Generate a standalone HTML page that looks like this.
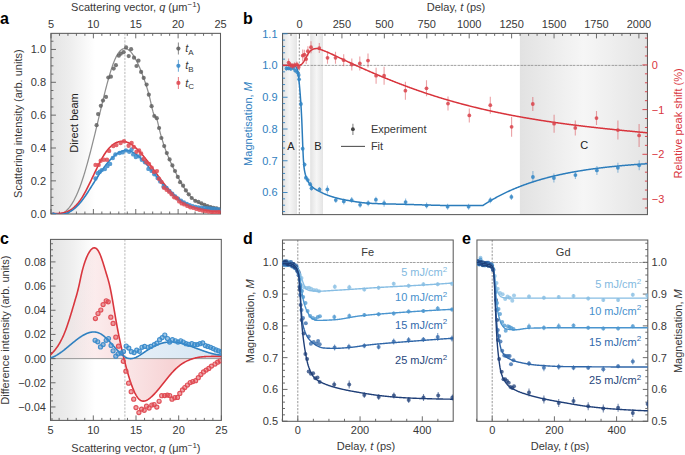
<!DOCTYPE html><html><head><meta charset="utf-8"><style>html,body{margin:0;padding:0;background:#fff;}svg{display:block;font-family:"Liberation Sans", sans-serif;}</style></head><body>
<svg width="685" height="455" viewBox="0 0 685 455">
<defs>
<linearGradient id="ga" x1="0" x2="1" y1="0" y2="0"><stop offset="0" stop-color="#e4e4e4"/><stop offset="0.45" stop-color="#eeeeee"/><stop offset="1" stop-color="#ffffff"/></linearGradient>
<linearGradient id="gcyl" x1="0" x2="1" y1="0" y2="0"><stop offset="0" stop-color="#e2e2e2"/><stop offset="0.5" stop-color="#f6f6f6"/><stop offset="1" stop-color="#e4e4e4"/></linearGradient>
<linearGradient id="gpink1" gradientUnits="userSpaceOnUse" x1="50.7" x2="124" y1="0" y2="0"><stop offset="0" stop-color="#d9363e" stop-opacity="0"/><stop offset="1" stop-color="#d9363e" stop-opacity="0.16"/></linearGradient>
<linearGradient id="gpink2" gradientUnits="userSpaceOnUse" x1="124" x2="221.4" y1="0" y2="0"><stop offset="0" stop-color="#d9363e" stop-opacity="0.12"/><stop offset="0.5" stop-color="#d9363e" stop-opacity="0.22"/><stop offset="1" stop-color="#d9363e" stop-opacity="0.05"/></linearGradient>
<linearGradient id="gblue" gradientUnits="userSpaceOnUse" x1="124" x2="221.4" y1="0" y2="0"><stop offset="0" stop-color="#2f80c0" stop-opacity="0.12"/><stop offset="1" stop-color="#2f80c0" stop-opacity="0.2"/></linearGradient>
<clipPath id="ca"><rect x="50.95" y="33.35" width="169.55" height="180.65"/></clipPath>
<clipPath id="cb"><rect x="282.55" y="33.4" width="364.9" height="181.2"/></clipPath>
<clipPath id="cc"><rect x="50.5" y="239.4" width="170.8" height="181"/></clipPath>
<clipPath id="cd"><rect x="282.5" y="240" width="170.7" height="181.3"/></clipPath>
<clipPath id="ce"><rect x="476.95" y="240" width="170.85" height="181.3"/></clipPath>
</defs>
<rect x="50.95" y="33.35" width="44.05" height="180.65" fill="url(#ga)"/>
<line x1="124.9" y1="33.35" x2="124.9" y2="214" stroke="#b0b0b0" stroke-width="0.9" stroke-dasharray="2.2,1.3"/>
<rect x="50.95" y="33.35" width="169.55" height="180.65" fill="none" stroke="#5c5c5c" stroke-width="1.05"/>
<line x1="51" y1="33.35" x2="51" y2="38.35" stroke="#5c5c5c" stroke-width="0.9" />
<line x1="93.38" y1="33.35" x2="93.38" y2="38.35" stroke="#5c5c5c" stroke-width="0.9" />
<line x1="135.75" y1="33.35" x2="135.75" y2="38.35" stroke="#5c5c5c" stroke-width="0.9" />
<line x1="178.12" y1="33.35" x2="178.12" y2="38.35" stroke="#5c5c5c" stroke-width="0.9" />
<line x1="220.5" y1="33.35" x2="220.5" y2="38.35" stroke="#5c5c5c" stroke-width="0.9" />
<line x1="59.48" y1="33.35" x2="59.48" y2="35.85" stroke="#5c5c5c" stroke-width="0.9" />
<line x1="67.95" y1="33.35" x2="67.95" y2="35.85" stroke="#5c5c5c" stroke-width="0.9" />
<line x1="76.42" y1="33.35" x2="76.42" y2="35.85" stroke="#5c5c5c" stroke-width="0.9" />
<line x1="84.9" y1="33.35" x2="84.9" y2="35.85" stroke="#5c5c5c" stroke-width="0.9" />
<line x1="101.85" y1="33.35" x2="101.85" y2="35.85" stroke="#5c5c5c" stroke-width="0.9" />
<line x1="110.33" y1="33.35" x2="110.33" y2="35.85" stroke="#5c5c5c" stroke-width="0.9" />
<line x1="118.8" y1="33.35" x2="118.8" y2="35.85" stroke="#5c5c5c" stroke-width="0.9" />
<line x1="127.28" y1="33.35" x2="127.28" y2="35.85" stroke="#5c5c5c" stroke-width="0.9" />
<line x1="144.22" y1="33.35" x2="144.22" y2="35.85" stroke="#5c5c5c" stroke-width="0.9" />
<line x1="152.7" y1="33.35" x2="152.7" y2="35.85" stroke="#5c5c5c" stroke-width="0.9" />
<line x1="161.18" y1="33.35" x2="161.18" y2="35.85" stroke="#5c5c5c" stroke-width="0.9" />
<line x1="169.65" y1="33.35" x2="169.65" y2="35.85" stroke="#5c5c5c" stroke-width="0.9" />
<line x1="186.6" y1="33.35" x2="186.6" y2="35.85" stroke="#5c5c5c" stroke-width="0.9" />
<line x1="195.07" y1="33.35" x2="195.07" y2="35.85" stroke="#5c5c5c" stroke-width="0.9" />
<line x1="203.55" y1="33.35" x2="203.55" y2="35.85" stroke="#5c5c5c" stroke-width="0.9" />
<line x1="212.03" y1="33.35" x2="212.03" y2="35.85" stroke="#5c5c5c" stroke-width="0.9" />
<line x1="51" y1="214" x2="51" y2="209" stroke="#5c5c5c" stroke-width="0.9" />
<line x1="93.38" y1="214" x2="93.38" y2="209" stroke="#5c5c5c" stroke-width="0.9" />
<line x1="135.75" y1="214" x2="135.75" y2="209" stroke="#5c5c5c" stroke-width="0.9" />
<line x1="178.12" y1="214" x2="178.12" y2="209" stroke="#5c5c5c" stroke-width="0.9" />
<line x1="220.5" y1="214" x2="220.5" y2="209" stroke="#5c5c5c" stroke-width="0.9" />
<line x1="59.48" y1="214" x2="59.48" y2="211.5" stroke="#5c5c5c" stroke-width="0.9" />
<line x1="67.95" y1="214" x2="67.95" y2="211.5" stroke="#5c5c5c" stroke-width="0.9" />
<line x1="76.42" y1="214" x2="76.42" y2="211.5" stroke="#5c5c5c" stroke-width="0.9" />
<line x1="84.9" y1="214" x2="84.9" y2="211.5" stroke="#5c5c5c" stroke-width="0.9" />
<line x1="101.85" y1="214" x2="101.85" y2="211.5" stroke="#5c5c5c" stroke-width="0.9" />
<line x1="110.33" y1="214" x2="110.33" y2="211.5" stroke="#5c5c5c" stroke-width="0.9" />
<line x1="118.8" y1="214" x2="118.8" y2="211.5" stroke="#5c5c5c" stroke-width="0.9" />
<line x1="127.28" y1="214" x2="127.28" y2="211.5" stroke="#5c5c5c" stroke-width="0.9" />
<line x1="144.22" y1="214" x2="144.22" y2="211.5" stroke="#5c5c5c" stroke-width="0.9" />
<line x1="152.7" y1="214" x2="152.7" y2="211.5" stroke="#5c5c5c" stroke-width="0.9" />
<line x1="161.18" y1="214" x2="161.18" y2="211.5" stroke="#5c5c5c" stroke-width="0.9" />
<line x1="169.65" y1="214" x2="169.65" y2="211.5" stroke="#5c5c5c" stroke-width="0.9" />
<line x1="186.6" y1="214" x2="186.6" y2="211.5" stroke="#5c5c5c" stroke-width="0.9" />
<line x1="195.07" y1="214" x2="195.07" y2="211.5" stroke="#5c5c5c" stroke-width="0.9" />
<line x1="203.55" y1="214" x2="203.55" y2="211.5" stroke="#5c5c5c" stroke-width="0.9" />
<line x1="212.03" y1="214" x2="212.03" y2="211.5" stroke="#5c5c5c" stroke-width="0.9" />
<line x1="50.95" y1="213.7" x2="55.95" y2="213.7" stroke="#5c5c5c" stroke-width="0.9" />
<line x1="50.95" y1="180.85" x2="55.95" y2="180.85" stroke="#5c5c5c" stroke-width="0.9" />
<line x1="50.95" y1="148" x2="55.95" y2="148" stroke="#5c5c5c" stroke-width="0.9" />
<line x1="50.95" y1="115.15" x2="55.95" y2="115.15" stroke="#5c5c5c" stroke-width="0.9" />
<line x1="50.95" y1="82.3" x2="55.95" y2="82.3" stroke="#5c5c5c" stroke-width="0.9" />
<line x1="50.95" y1="49.45" x2="55.95" y2="49.45" stroke="#5c5c5c" stroke-width="0.9" />
<line x1="50.95" y1="205.49" x2="53.45" y2="205.49" stroke="#5c5c5c" stroke-width="0.9" />
<line x1="50.95" y1="197.27" x2="53.45" y2="197.27" stroke="#5c5c5c" stroke-width="0.9" />
<line x1="50.95" y1="189.06" x2="53.45" y2="189.06" stroke="#5c5c5c" stroke-width="0.9" />
<line x1="50.95" y1="172.64" x2="53.45" y2="172.64" stroke="#5c5c5c" stroke-width="0.9" />
<line x1="50.95" y1="164.42" x2="53.45" y2="164.42" stroke="#5c5c5c" stroke-width="0.9" />
<line x1="50.95" y1="156.21" x2="53.45" y2="156.21" stroke="#5c5c5c" stroke-width="0.9" />
<line x1="50.95" y1="139.79" x2="53.45" y2="139.79" stroke="#5c5c5c" stroke-width="0.9" />
<line x1="50.95" y1="131.57" x2="53.45" y2="131.57" stroke="#5c5c5c" stroke-width="0.9" />
<line x1="50.95" y1="123.36" x2="53.45" y2="123.36" stroke="#5c5c5c" stroke-width="0.9" />
<line x1="50.95" y1="106.94" x2="53.45" y2="106.94" stroke="#5c5c5c" stroke-width="0.9" />
<line x1="50.95" y1="98.72" x2="53.45" y2="98.72" stroke="#5c5c5c" stroke-width="0.9" />
<line x1="50.95" y1="90.51" x2="53.45" y2="90.51" stroke="#5c5c5c" stroke-width="0.9" />
<line x1="50.95" y1="74.09" x2="53.45" y2="74.09" stroke="#5c5c5c" stroke-width="0.9" />
<line x1="50.95" y1="65.87" x2="53.45" y2="65.87" stroke="#5c5c5c" stroke-width="0.9" />
<line x1="50.95" y1="57.66" x2="53.45" y2="57.66" stroke="#5c5c5c" stroke-width="0.9" />
<line x1="50.95" y1="41.24" x2="53.45" y2="41.24" stroke="#5c5c5c" stroke-width="0.9" />
<text x="51" y="28.1" font-size="11" text-anchor="middle" fill="#383838" >5</text>
<text x="93.38" y="28.1" font-size="11" text-anchor="middle" fill="#383838" >10</text>
<text x="135.75" y="28.1" font-size="11" text-anchor="middle" fill="#383838" >15</text>
<text x="178.12" y="28.1" font-size="11" text-anchor="middle" fill="#383838" >20</text>
<text x="220.5" y="28.1" font-size="11" text-anchor="middle" fill="#383838" >25</text>
<text x="46" y="217.6" font-size="11" text-anchor="end" fill="#383838" >0.0</text>
<text x="46" y="184.75" font-size="11" text-anchor="end" fill="#383838" >0.2</text>
<text x="46" y="151.9" font-size="11" text-anchor="end" fill="#383838" >0.4</text>
<text x="46" y="119.05" font-size="11" text-anchor="end" fill="#383838" >0.6</text>
<text x="46" y="86.2" font-size="11" text-anchor="end" fill="#383838" >0.8</text>
<text x="46" y="53.35" font-size="11" text-anchor="end" fill="#383838" >1.0</text>
<text x="135.72" y="10.5" font-size="11" text-anchor="middle" fill="#383838" >Scattering vector, <tspan font-style="italic">q</tspan> (μm<tspan baseline-shift="super" font-size="8">−1</tspan>)</text>
<text x="0" y="0" font-size="11" text-anchor="middle" fill="#383838" transform="translate(21.5,123.67) rotate(-90)">Scattering intensity (arb. units)</text>
<text x="0" y="0" font-size="11" text-anchor="middle" fill="#222" transform="translate(78,123) rotate(-90)">Direct beam</text>
<text x="0" y="24" font-size="16" text-anchor="start" fill="#000" font-weight="bold">a</text>
<line x1="178.4" y1="42.6" x2="178.4" y2="54.6" stroke="#626262" stroke-width="1.1" stroke-opacity="0.7"/>
<circle cx="178.4" cy="48.6" r="2.1" fill="#626262" fill-opacity="0.9"/>
<text x="185.2" y="52.2" font-size="11" text-anchor="start" fill="#383838" ><tspan font-style="italic">t</tspan><tspan font-size="8" dy="2.5">A</tspan></text>
<line x1="178.4" y1="59.8" x2="178.4" y2="71.8" stroke="#3a8bcb" stroke-width="1.1" stroke-opacity="0.7"/>
<circle cx="178.4" cy="65.8" r="2.1" fill="#3a8bcb" fill-opacity="0.9"/>
<text x="185.2" y="69.4" font-size="11" text-anchor="start" fill="#383838" ><tspan font-style="italic">t</tspan><tspan font-size="8" dy="2.5">B</tspan></text>
<line x1="178.4" y1="76.9" x2="178.4" y2="88.9" stroke="#df4a52" stroke-width="1.1" stroke-opacity="0.7"/>
<circle cx="178.4" cy="82.9" r="2.1" fill="#df4a52" fill-opacity="0.9"/>
<text x="185.2" y="86.5" font-size="11" text-anchor="start" fill="#383838" ><tspan font-style="italic">t</tspan><tspan font-size="8" dy="2.5">C</tspan></text>
<g clip-path="url(#ca)">
<path d="M53,213.03 L53.5,213.26 L54,213.47 L54.5,213.66 L55,213.82 L55.5,213.96 L56,214.08 L56.5,214.17 L57,214.24 L57.5,214.28 L58,214.3 L58.5,214.29 L59,214.25 L59.5,214.19 L60,214.11 L60.5,213.99 L61,213.85 L61.5,213.69 L62,213.49 L62.5,213.27 L63,213.03 L63.5,212.75 L64,212.45 L64.5,212.12 L65,211.76 L65.5,211.37 L66,210.95 L66.5,210.5 L67,210.03 L67.5,209.52 L68,208.99 L68.5,208.42 L69,207.83 L69.5,207.21 L70,206.55 L70.5,205.86 L71,205.15 L71.5,204.4 L72,203.62 L72.5,202.8 L73,201.96 L73.5,201.08 L74,200.18 L74.5,199.23 L75,198.26 L75.5,197.25 L76,196.21 L76.5,195.14 L77,194.03 L77.5,192.89 L78,191.71 L78.5,190.5 L79,189.26 L79.5,187.98 L80,186.66 L80.5,185.31 L81,183.93 L81.5,182.5 L82,181.05 L82.5,179.55 L83,178.02 L83.5,176.46 L84,174.86 L84.5,173.23 L85,171.56 L85.5,169.87 L86,168.15 L86.5,166.4 L87,164.62 L87.5,162.82 L88,161 L88.5,159.15 L89,157.28 L89.5,155.39 L90,153.48 L90.5,151.55 L91,149.61 L91.5,147.65 L92,145.67 L92.5,143.68 L93,141.68 L93.5,139.67 L94,137.64 L94.5,135.6 L95,133.55 L95.5,131.49 L96,129.43 L96.5,127.35 L97,125.27 L97.5,123.17 L98,121.08 L98.5,118.97 L99,116.87 L99.5,114.76 L100,112.64 L100.5,110.53 L101,108.43 L101.5,106.33 L102,104.24 L102.5,102.15 L103,100.08 L103.5,98.02 L104,95.98 L104.5,93.96 L105,91.96 L105.5,89.97 L106,88.02 L106.5,86.09 L107,84.18 L107.5,82.31 L108,80.47 L108.5,78.67 L109,76.9 L109.5,75.17 L110,73.48 L110.5,71.83 L111,70.23 L111.5,68.68 L112,67.17 L112.5,65.72 L113,64.31 L113.5,62.97 L114,61.68 L114.5,60.45 L115,59.28 L115.5,58.17 L116,57.13 L116.5,56.15 L117,55.24 L117.5,54.39 L118,53.6 L118.5,52.87 L119,52.2 L119.5,51.58 L120,51.03 L120.5,50.54 L121,50.1 L121.5,49.72 L122,49.39 L122.5,49.12 L123,48.9 L123.5,48.74 L124,48.63 L124.5,48.57 L125,48.56 L125.5,48.6 L126,48.7 L126.5,48.84 L127,49.03 L127.5,49.26 L128,49.55 L128.5,49.88 L129,50.25 L129.5,50.67 L130,51.14 L130.5,51.64 L131,52.19 L131.5,52.78 L132,53.42 L132.5,54.09 L133,54.8 L133.5,55.55 L134,56.34 L134.5,57.16 L135,58.03 L135.5,58.93 L136,59.86 L136.5,60.83 L137,61.83 L137.5,62.86 L138,63.93 L138.5,65.03 L139,66.16 L139.5,67.31 L140,68.5 L140.5,69.72 L141,70.96 L141.5,72.23 L142,73.53 L142.5,74.85 L143,76.2 L143.5,77.57 L144,78.97 L144.5,80.39 L145,81.83 L145.5,83.29 L146,84.79 L146.5,86.32 L147,87.9 L147.5,89.54 L148,91.25 L148.5,93.04 L149,94.91 L149.5,96.88 L150,98.96 L150.5,101.14 L151,103.37 L151.5,105.61 L152,107.78 L152.5,109.83 L153,111.7 L153.5,113.34 L154,114.68 L154.5,115.67 L155,116.35 L155.5,116.9 L156,117.5 L156.5,118.34 L157,119.6 L157.5,121.32 L158,123.36 L158.5,125.58 L159,127.82 L159.5,129.96 L160,131.96 L160.5,133.84 L161,135.64 L161.5,137.37 L162,139.06 L162.5,140.69 L163,142.29 L163.5,143.84 L164,145.34 L164.5,146.81 L165,148.24 L165.5,149.64 L166,151 L166.5,152.32 L167,153.62 L167.5,154.88 L168,156.12 L168.5,157.32 L169,158.51 L169.5,159.66 L170,160.8 L170.5,161.91 L171,163.01 L171.5,164.08 L172,165.15 L172.5,166.19 L173,167.22 L173.5,168.24 L174,169.26 L174.5,170.26 L175,171.25 L175.5,172.24 L176,173.23 L176.5,174.2 L177,175.17 L177.5,176.13 L178,177.09 L178.5,178.03 L179,178.97 L179.5,179.89 L180,180.8 L180.5,181.7 L181,182.59 L181.5,183.47 L182,184.33 L182.5,185.18 L183,186.01 L183.5,186.83 L184,187.63 L184.5,188.42 L185,189.19 L185.5,189.94 L186,190.67 L186.5,191.38 L187,192.08 L187.5,192.75 L188,193.4 L188.5,194.03 L189,194.64 L189.5,195.23 L190,195.79 L190.5,196.33 L191,196.86 L191.5,197.36 L192,197.84 L192.5,198.31 L193,198.75 L193.5,199.18 L194,199.59 L194.5,199.98 L195,200.36 L195.5,200.72 L196,201.07 L196.5,201.4 L197,201.72 L197.5,202.02 L198,202.31 L198.5,202.58 L199,202.85 L199.5,203.1 L200,203.34 L200.5,203.57 L201,203.79 L201.5,204.01 L202,204.21 L202.5,204.4 L203,204.59 L203.5,204.76 L204,204.93 L204.5,205.1 L205,205.26 L205.5,205.41 L206,205.56 L206.5,205.7 L207,205.84 L207.5,205.97 L208,206.11 L208.5,206.24 L209,206.37 L209.5,206.49 L210,206.62 L210.5,206.75 L211,206.87 L211.5,207 L212,207.13 L212.5,207.26 L213,207.39 L213.5,207.53 L214,207.67 L214.5,207.81 L215,207.96 L215.5,208.11 L216,208.27 L216.5,208.43 L217,208.6 L217.5,208.78 L218,208.96 L218.5,209.15 L219,209.35 L219.5,209.56 L219.7,209.65" fill="none" stroke="#8e8e8e" stroke-width="1.25" stroke-linejoin="round" stroke-linecap="round" />
<path d="M53,213.34 L53.5,213.37 L54,213.39 L54.5,213.42 L55,213.43 L55.5,213.45 L56,213.46 L56.5,213.47 L57,213.47 L57.5,213.46 L58,213.45 L58.5,213.43 L59,213.4 L59.5,213.37 L60,213.33 L60.5,213.28 L61,213.22 L61.5,213.15 L62,213.08 L62.5,212.99 L63,212.89 L63.5,212.78 L64,212.66 L64.5,212.53 L65,212.39 L65.5,212.24 L66,212.07 L66.5,211.89 L67,211.7 L67.5,211.49 L68,211.27 L68.5,211.03 L69,210.78 L69.5,210.51 L70,210.23 L70.5,209.93 L71,209.61 L71.5,209.28 L72,208.93 L72.5,208.56 L73,208.17 L73.5,207.76 L74,207.34 L74.5,206.89 L75,206.43 L75.5,205.95 L76,205.44 L76.5,204.91 L77,204.36 L77.5,203.79 L78,203.2 L78.5,202.59 L79,201.95 L79.5,201.28 L80,200.6 L80.5,199.89 L81,199.15 L81.5,198.39 L82,197.61 L82.5,196.8 L83,195.97 L83.5,195.12 L84,194.25 L84.5,193.36 L85,192.45 L85.5,191.53 L86,190.59 L86.5,189.63 L87,188.66 L87.5,187.68 L88,186.69 L88.5,185.69 L89,184.67 L89.5,183.65 L90,182.62 L90.5,181.59 L91,180.54 L91.5,179.5 L92,178.45 L92.5,177.4 L93,176.34 L93.5,175.29 L94,174.24 L94.5,173.19 L95,172.14 L95.5,171.1 L96,170.06 L96.5,169.03 L97,168 L97.5,166.98 L98,165.97 L98.5,164.98 L99,163.99 L99.5,163.02 L100,162.06 L100.5,161.11 L101,160.18 L101.5,159.27 L102,158.38 L102.5,157.51 L103,156.65 L103.5,155.82 L104,155.01 L104.5,154.22 L105,153.46 L105.5,152.73 L106,152.02 L106.5,151.33 L107,150.67 L107.5,150.04 L108,149.43 L108.5,148.84 L109,148.28 L109.5,147.74 L110,147.22 L110.5,146.73 L111,146.26 L111.5,145.82 L112,145.39 L112.5,144.99 L113,144.61 L113.5,144.25 L114,143.92 L114.5,143.6 L115,143.31 L115.5,143.03 L116,142.78 L116.5,142.55 L117,142.34 L117.5,142.15 L118,141.98 L118.5,141.83 L119,141.7 L119.5,141.59 L120,141.5 L120.5,141.43 L121,141.37 L121.5,141.34 L122,141.33 L122.5,141.33 L123,141.36 L123.5,141.4 L124,141.46 L124.5,141.54 L125,141.64 L125.5,141.76 L126,141.89 L126.5,142.04 L127,142.21 L127.5,142.4 L128,142.6 L128.5,142.82 L129,143.06 L129.5,143.31 L130,143.59 L130.5,143.87 L131,144.18 L131.5,144.5 L132,144.83 L132.5,145.19 L133,145.55 L133.5,145.94 L134,146.33 L134.5,146.74 L135,147.17 L135.5,147.6 L136,148.05 L136.5,148.52 L137,148.99 L137.5,149.48 L138,149.98 L138.5,150.49 L139,151.02 L139.5,151.55 L140,152.09 L140.5,152.65 L141,153.21 L141.5,153.78 L142,154.36 L142.5,154.95 L143,155.55 L143.5,156.16 L144,156.77 L144.5,157.39 L145,158.02 L145.5,158.66 L146,159.3 L146.5,159.95 L147,160.6 L147.5,161.26 L148,161.92 L148.5,162.59 L149,163.26 L149.5,163.94 L150,164.61 L150.5,165.3 L151,165.98 L151.5,166.67 L152,167.36 L152.5,168.05 L153,168.74 L153.5,169.44 L154,170.13 L154.5,170.83 L155,171.53 L155.5,172.22 L156,172.92 L156.5,173.61 L157,174.3 L157.5,174.99 L158,175.68 L158.5,176.37 L159,177.05 L159.5,177.74 L160,178.41 L160.5,179.09 L161,179.76 L161.5,180.42 L162,181.09 L162.5,181.74 L163,182.39 L163.5,183.04 L164,183.68 L164.5,184.31 L165,184.94 L165.5,185.55 L166,186.17 L166.5,186.77 L167,187.37 L167.5,187.95 L168,188.53 L168.5,189.1 L169,189.66 L169.5,190.21 L170,190.75 L170.5,191.28 L171,191.8 L171.5,192.32 L172,192.82 L172.5,193.31 L173,193.8 L173.5,194.28 L174,194.74 L174.5,195.2 L175,195.65 L175.5,196.09 L176,196.53 L176.5,196.95 L177,197.37 L177.5,197.77 L178,198.17 L178.5,198.57 L179,198.95 L179.5,199.33 L180,199.69 L180.5,200.05 L181,200.41 L181.5,200.75 L182,201.09 L182.5,201.42 L183,201.74 L183.5,202.06 L184,202.37 L184.5,202.67 L185,202.97 L185.5,203.26 L186,203.54 L186.5,203.81 L187,204.08 L187.5,204.34 L188,204.6 L188.5,204.85 L189,205.09 L189.5,205.33 L190,205.56 L190.5,205.79 L191,206.01 L191.5,206.22 L192,206.43 L192.5,206.63 L193,206.83 L193.5,207.02 L194,207.21 L194.5,207.39 L195,207.57 L195.5,207.74 L196,207.9 L196.5,208.07 L197,208.22 L197.5,208.37 L198,208.52 L198.5,208.67 L199,208.8 L199.5,208.94 L200,209.07 L200.5,209.2 L201,209.32 L201.5,209.44 L202,209.55 L202.5,209.66 L203,209.77 L203.5,209.87 L204,209.97 L204.5,210.07 L205,210.16 L205.5,210.25 L206,210.34 L206.5,210.42 L207,210.5 L207.5,210.58 L208,210.66 L208.5,210.73 L209,210.8 L209.5,210.87 L210,210.93 L210.5,210.99 L211,211.06 L211.5,211.11 L212,211.17 L212.5,211.22 L213,211.28 L213.5,211.33 L214,211.38 L214.5,211.42 L215,211.47 L215.5,211.51 L216,211.56 L216.5,211.6 L217,211.64 L217.5,211.68 L218,211.72 L218.5,211.75 L219,211.79 L219.5,211.83 L220,211.86 L220.5,211.9" fill="none" stroke="#d9363e" stroke-width="1.6" stroke-linejoin="round" stroke-linecap="round" />
<path d="M53,213.18 L53.5,213.36 L54,213.52 L54.5,213.67 L55,213.81 L55.5,213.94 L56,214.05 L56.5,214.15 L57,214.23 L57.5,214.3 L58,214.36 L58.5,214.41 L59,214.44 L59.5,214.46 L60,214.46 L60.5,214.46 L61,214.43 L61.5,214.4 L62,214.35 L62.5,214.29 L63,214.21 L63.5,214.12 L64,214.01 L64.5,213.89 L65,213.76 L65.5,213.61 L66,213.45 L66.5,213.28 L67,213.09 L67.5,212.88 L68,212.67 L68.5,212.43 L69,212.19 L69.5,211.93 L70,211.65 L70.5,211.36 L71,211.05 L71.5,210.73 L72,210.4 L72.5,210.05 L73,209.69 L73.5,209.31 L74,208.91 L74.5,208.5 L75,208.08 L75.5,207.64 L76,207.19 L76.5,206.72 L77,206.23 L77.5,205.73 L78,205.22 L78.5,204.69 L79,204.14 L79.5,203.58 L80,203 L80.5,202.41 L81,201.8 L81.5,201.18 L82,200.54 L82.5,199.88 L83,199.22 L83.5,198.54 L84,197.84 L84.5,197.14 L85,196.42 L85.5,195.7 L86,194.96 L86.5,194.22 L87,193.47 L87.5,192.71 L88,191.94 L88.5,191.17 L89,190.39 L89.5,189.61 L90,188.82 L90.5,188.03 L91,187.23 L91.5,186.44 L92,185.64 L92.5,184.84 L93,184.04 L93.5,183.24 L94,182.45 L94.5,181.65 L95,180.86 L95.5,180.07 L96,179.28 L96.5,178.5 L97,177.73 L97.5,176.95 L98,176.19 L98.5,175.43 L99,174.67 L99.5,173.92 L100,173.18 L100.5,172.44 L101,171.71 L101.5,170.99 L102,170.27 L102.5,169.56 L103,168.86 L103.5,168.17 L104,167.49 L104.5,166.82 L105,166.15 L105.5,165.5 L106,164.85 L106.5,164.21 L107,163.59 L107.5,162.98 L108,162.37 L108.5,161.78 L109,161.2 L109.5,160.63 L110,160.07 L110.5,159.53 L111,159 L111.5,158.48 L112,157.98 L112.5,157.48 L113,157.01 L113.5,156.54 L114,156.09 L114.5,155.66 L115,155.24 L115.5,154.84 L116,154.45 L116.5,154.08 L117,153.72 L117.5,153.38 L118,153.06 L118.5,152.76 L119,152.47 L119.5,152.2 L120,151.95 L120.5,151.71 L121,151.5 L121.5,151.3 L122,151.12 L122.5,150.97 L123,150.83 L123.5,150.71 L124,150.61 L124.5,150.54 L125,150.48 L125.5,150.45 L126,150.43 L126.5,150.44 L127,150.47 L127.5,150.52 L128,150.6 L128.5,150.69 L129,150.8 L129.5,150.93 L130,151.08 L130.5,151.25 L131,151.44 L131.5,151.64 L132,151.87 L132.5,152.11 L133,152.36 L133.5,152.64 L134,152.93 L134.5,153.23 L135,153.55 L135.5,153.89 L136,154.24 L136.5,154.6 L137,154.98 L137.5,155.37 L138,155.78 L138.5,156.2 L139,156.63 L139.5,157.07 L140,157.52 L140.5,157.99 L141,158.47 L141.5,158.95 L142,159.45 L142.5,159.96 L143,160.47 L143.5,161 L144,161.53 L144.5,162.07 L145,162.62 L145.5,163.18 L146,163.75 L146.5,164.32 L147,164.9 L147.5,165.48 L148,166.07 L148.5,166.67 L149,167.27 L149.5,167.87 L150,168.48 L150.5,169.09 L151,169.71 L151.5,170.33 L152,170.95 L152.5,171.58 L153,172.2 L153.5,172.83 L154,173.46 L154.5,174.09 L155,174.72 L155.5,175.36 L156,175.99 L156.5,176.62 L157,177.25 L157.5,177.87 L158,178.5 L158.5,179.12 L159,179.75 L159.5,180.36 L160,180.98 L160.5,181.59 L161,182.2 L161.5,182.8 L162,183.4 L162.5,184 L163,184.58 L163.5,185.17 L164,185.74 L164.5,186.31 L165,186.88 L165.5,187.43 L166,187.99 L166.5,188.53 L167,189.07 L167.5,189.6 L168,190.13 L168.5,190.64 L169,191.16 L169.5,191.66 L170,192.16 L170.5,192.65 L171,193.14 L171.5,193.61 L172,194.09 L172.5,194.55 L173,195.01 L173.5,195.46 L174,195.9 L174.5,196.33 L175,196.76 L175.5,197.18 L176,197.6 L176.5,198 L177,198.4 L177.5,198.79 L178,199.18 L178.5,199.55 L179,199.92 L179.5,200.28 L180,200.64 L180.5,200.98 L181,201.32 L181.5,201.65 L182,201.97 L182.5,202.29 L183,202.59 L183.5,202.89 L184,203.18 L184.5,203.46 L185,203.73 L185.5,204 L186,204.26 L186.5,204.51 L187,204.75 L187.5,204.98 L188,205.2 L188.5,205.42 L189,205.62 L189.5,205.82 L190,206.01 L190.5,206.19 L191,206.36 L191.5,206.53 L192,206.68 L192.5,206.83 L193,206.97 L193.5,207.1 L194,207.23 L194.5,207.35 L195,207.46 L195.5,207.56 L196,207.66 L196.5,207.76 L197,207.85 L197.5,207.93 L198,208.01 L198.5,208.08 L199,208.15 L199.5,208.21 L200,208.28 L200.5,208.33 L201,208.39 L201.5,208.44 L202,208.48 L202.5,208.53 L203,208.57 L203.5,208.61 L204,208.65 L204.5,208.68 L205,208.72 L205.5,208.75 L206,208.78 L206.5,208.82 L207,208.85 L207.5,208.88 L208,208.91 L208.5,208.94 L209,208.98 L209.5,209.01 L210,209.04 L210.5,209.08 L211,209.12 L211.5,209.16 L212,209.2 L212.5,209.24 L213,209.29 L213.5,209.34 L214,209.39 L214.5,209.45 L215,209.51 L215.5,209.57 L216,209.64 L216.5,209.72 L217,209.79 L217.5,209.88 L218,209.96 L218.5,210.06 L219,210.16 L219.5,210.26 L220,210.37 L220.5,210.49" fill="none" stroke="#2f80c0" stroke-width="1.6" stroke-linejoin="round" stroke-linecap="round" />
<circle cx="96.6" cy="125.2" r="2.1" fill="#626262" fill-opacity="0.85"/><circle cx="98.1" cy="114.1" r="2.1" fill="#626262" fill-opacity="0.85"/><circle cx="100.8" cy="105.8" r="2.1" fill="#626262" fill-opacity="0.85"/><circle cx="103" cy="100.6" r="2.1" fill="#626262" fill-opacity="0.85"/><circle cx="106" cy="96.9" r="2.1" fill="#626262" fill-opacity="0.85"/><circle cx="108.3" cy="77.5" r="2.1" fill="#626262" fill-opacity="0.85"/><circle cx="110.9" cy="76.7" r="2.1" fill="#626262" fill-opacity="0.85"/><circle cx="113.7" cy="68.6" r="2.1" fill="#626262" fill-opacity="0.85"/><circle cx="115.9" cy="65.2" r="2.1" fill="#626262" fill-opacity="0.85"/><circle cx="118.8" cy="55.7" r="2.1" fill="#626262" fill-opacity="0.85"/><circle cx="120.8" cy="53.7" r="2.1" fill="#626262" fill-opacity="0.85"/><circle cx="123.6" cy="52.2" r="2.1" fill="#626262" fill-opacity="0.85"/><circle cx="126.1" cy="47.4" r="2.1" fill="#626262" fill-opacity="0.85"/><circle cx="128.7" cy="56.1" r="2.1" fill="#626262" fill-opacity="0.85"/><circle cx="131.1" cy="49.2" r="2.1" fill="#626262" fill-opacity="0.85"/><circle cx="134" cy="57.7" r="2.1" fill="#626262" fill-opacity="0.85"/><circle cx="136.5" cy="66" r="2.1" fill="#626262" fill-opacity="0.85"/><circle cx="138.5" cy="60.7" r="2.1" fill="#626262" fill-opacity="0.85"/><circle cx="141.1" cy="71.9" r="2.1" fill="#626262" fill-opacity="0.85"/><circle cx="143.7" cy="77.9" r="2.1" fill="#626262" fill-opacity="0.85"/><circle cx="146.6" cy="84.6" r="2.1" fill="#626262" fill-opacity="0.85"/><circle cx="148.8" cy="94.7" r="2.1" fill="#626262" fill-opacity="0.85"/><circle cx="151.6" cy="106.2" r="2.1" fill="#626262" fill-opacity="0.85"/><circle cx="154.3" cy="116" r="2.1" fill="#626262" fill-opacity="0.85"/><circle cx="156.8" cy="118.2" r="2.1" fill="#626262" fill-opacity="0.85"/><circle cx="159.1" cy="128" r="2.1" fill="#626262" fill-opacity="0.85"/><circle cx="161.4" cy="138" r="2.1" fill="#626262" fill-opacity="0.85"/><circle cx="164.2" cy="146.1" r="2.1" fill="#626262" fill-opacity="0.85"/><circle cx="166.8" cy="153.1" r="2.1" fill="#626262" fill-opacity="0.85"/><circle cx="169.6" cy="159.4" r="2.1" fill="#626262" fill-opacity="0.85"/><circle cx="172.4" cy="165.4" r="2.1" fill="#626262" fill-opacity="0.85"/><circle cx="175" cy="171" r="2.1" fill="#626262" fill-opacity="0.85"/><circle cx="177.8" cy="176.9" r="2.1" fill="#626262" fill-opacity="0.85"/><circle cx="180.1" cy="182.2" r="2.1" fill="#626262" fill-opacity="0.85"/><circle cx="183.1" cy="185.7" r="2.1" fill="#626262" fill-opacity="0.85"/><circle cx="185.9" cy="190.4" r="2.1" fill="#626262" fill-opacity="0.85"/><circle cx="188.7" cy="194.3" r="2.1" fill="#626262" fill-opacity="0.85"/><circle cx="191.7" cy="198" r="2.1" fill="#626262" fill-opacity="0.85"/><circle cx="195.2" cy="200.8" r="2.1" fill="#626262" fill-opacity="0.85"/><circle cx="198.4" cy="201.9" r="2.1" fill="#626262" fill-opacity="0.85"/><circle cx="201.5" cy="203.4" r="2.1" fill="#626262" fill-opacity="0.85"/><circle cx="204.5" cy="204.9" r="2.1" fill="#626262" fill-opacity="0.85"/><circle cx="207.5" cy="206.2" r="2.1" fill="#626262" fill-opacity="0.85"/><circle cx="210.6" cy="207.2" r="2.1" fill="#626262" fill-opacity="0.85"/><circle cx="213.6" cy="207.9" r="2.1" fill="#626262" fill-opacity="0.85"/><circle cx="216.6" cy="208.4" r="2.1" fill="#626262" fill-opacity="0.85"/><circle cx="219.7" cy="209.4" r="2.1" fill="#626262" fill-opacity="0.85"/>
<circle cx="95.5" cy="178.5" r="2.2" fill="#3a8bcb" fill-opacity="0.85"/><circle cx="97.7" cy="173.2" r="2.2" fill="#3a8bcb" fill-opacity="0.85"/><circle cx="99.8" cy="171.7" r="2.2" fill="#3a8bcb" fill-opacity="0.85"/><circle cx="101.8" cy="170.1" r="2.2" fill="#3a8bcb" fill-opacity="0.85"/><circle cx="104.9" cy="169.1" r="2.2" fill="#3a8bcb" fill-opacity="0.85"/><circle cx="107.5" cy="166" r="2.2" fill="#3a8bcb" fill-opacity="0.85"/><circle cx="110.1" cy="163.9" r="2.2" fill="#3a8bcb" fill-opacity="0.85"/><circle cx="112.8" cy="158" r="2.2" fill="#3a8bcb" fill-opacity="0.85"/><circle cx="115.4" cy="154.5" r="2.2" fill="#3a8bcb" fill-opacity="0.85"/><circle cx="119.5" cy="153" r="2.2" fill="#3a8bcb" fill-opacity="0.85"/><circle cx="122.6" cy="152.4" r="2.2" fill="#3a8bcb" fill-opacity="0.85"/><circle cx="125.9" cy="150.4" r="2.2" fill="#3a8bcb" fill-opacity="0.85"/><circle cx="129.2" cy="151.8" r="2.2" fill="#3a8bcb" fill-opacity="0.85"/><circle cx="131.6" cy="149.5" r="2.2" fill="#3a8bcb" fill-opacity="0.85"/><circle cx="133.2" cy="154.4" r="2.2" fill="#3a8bcb" fill-opacity="0.85"/><circle cx="135.8" cy="157" r="2.2" fill="#3a8bcb" fill-opacity="0.85"/><circle cx="139.1" cy="156.4" r="2.2" fill="#3a8bcb" fill-opacity="0.85"/><circle cx="141.8" cy="159.7" r="2.2" fill="#3a8bcb" fill-opacity="0.85"/><circle cx="145" cy="162.3" r="2.2" fill="#3a8bcb" fill-opacity="0.85"/><circle cx="148.4" cy="168.9" r="2.2" fill="#3a8bcb" fill-opacity="0.85"/><circle cx="151.6" cy="170.9" r="2.2" fill="#3a8bcb" fill-opacity="0.85"/><circle cx="154.3" cy="174.2" r="2.2" fill="#3a8bcb" fill-opacity="0.85"/><circle cx="157.6" cy="178.1" r="2.2" fill="#3a8bcb" fill-opacity="0.85"/><circle cx="160.2" cy="181.4" r="2.2" fill="#3a8bcb" fill-opacity="0.85"/><circle cx="163.5" cy="186.7" r="2.2" fill="#3a8bcb" fill-opacity="0.85"/><circle cx="166.5" cy="187.93" r="2.2" fill="#3a8bcb" fill-opacity="0.85"/><circle cx="169.4" cy="190.96" r="2.2" fill="#3a8bcb" fill-opacity="0.85"/><circle cx="172.3" cy="193.76" r="2.2" fill="#3a8bcb" fill-opacity="0.85"/><circle cx="175.2" cy="196.33" r="2.2" fill="#3a8bcb" fill-opacity="0.85"/><circle cx="178.1" cy="198.65" r="2.2" fill="#3a8bcb" fill-opacity="0.85"/><circle cx="181" cy="200.72" r="2.2" fill="#3a8bcb" fill-opacity="0.85"/><circle cx="183.9" cy="202.52" r="2.2" fill="#3a8bcb" fill-opacity="0.85"/><circle cx="186.8" cy="204.05" r="2.2" fill="#3a8bcb" fill-opacity="0.85"/><circle cx="189.7" cy="205.3" r="2.2" fill="#3a8bcb" fill-opacity="0.85"/><circle cx="192.6" cy="206.26" r="2.2" fill="#3a8bcb" fill-opacity="0.85"/><circle cx="195.5" cy="206.96" r="2.2" fill="#3a8bcb" fill-opacity="0.85"/><circle cx="198.4" cy="207.47" r="2.2" fill="#3a8bcb" fill-opacity="0.85"/><circle cx="201.3" cy="207.82" r="2.2" fill="#3a8bcb" fill-opacity="0.85"/><circle cx="204.2" cy="208.06" r="2.2" fill="#3a8bcb" fill-opacity="0.85"/><circle cx="207.1" cy="208.25" r="2.2" fill="#3a8bcb" fill-opacity="0.85"/><circle cx="210" cy="208.44" r="2.2" fill="#3a8bcb" fill-opacity="0.85"/><circle cx="212.9" cy="208.68" r="2.2" fill="#3a8bcb" fill-opacity="0.85"/><circle cx="215.8" cy="209.01" r="2.2" fill="#3a8bcb" fill-opacity="0.85"/><circle cx="218.7" cy="209.5" r="2.2" fill="#3a8bcb" fill-opacity="0.85"/>
<circle cx="95.5" cy="164.9" r="2.2" fill="#df4a52" fill-opacity="0.85"/><circle cx="98.6" cy="164.9" r="2.2" fill="#df4a52" fill-opacity="0.85"/><circle cx="100.7" cy="160.7" r="2.2" fill="#df4a52" fill-opacity="0.85"/><circle cx="103.9" cy="159.7" r="2.2" fill="#df4a52" fill-opacity="0.85"/><circle cx="107" cy="159.7" r="2.2" fill="#df4a52" fill-opacity="0.85"/><circle cx="109.1" cy="150.9" r="2.2" fill="#df4a52" fill-opacity="0.85"/><circle cx="113.3" cy="146.1" r="2.2" fill="#df4a52" fill-opacity="0.85"/><circle cx="116.4" cy="145.1" r="2.2" fill="#df4a52" fill-opacity="0.85"/><circle cx="120.6" cy="143" r="2.2" fill="#df4a52" fill-opacity="0.85"/><circle cx="124" cy="141.2" r="2.2" fill="#df4a52" fill-opacity="0.85"/><circle cx="128.6" cy="145.8" r="2.2" fill="#df4a52" fill-opacity="0.85"/><circle cx="131.6" cy="142.9" r="2.2" fill="#df4a52" fill-opacity="0.85"/><circle cx="133.8" cy="146.9" r="2.2" fill="#df4a52" fill-opacity="0.85"/><circle cx="136.5" cy="151.8" r="2.2" fill="#df4a52" fill-opacity="0.85"/><circle cx="139.1" cy="150.4" r="2.2" fill="#df4a52" fill-opacity="0.85"/><circle cx="141.1" cy="153.5" r="2.2" fill="#df4a52" fill-opacity="0.85"/><circle cx="143.7" cy="159" r="2.2" fill="#df4a52" fill-opacity="0.85"/><circle cx="146.4" cy="162.3" r="2.2" fill="#df4a52" fill-opacity="0.85"/><circle cx="149" cy="164" r="2.2" fill="#df4a52" fill-opacity="0.85"/><circle cx="151.6" cy="167.6" r="2.2" fill="#df4a52" fill-opacity="0.85"/><circle cx="154" cy="171.9" r="2.2" fill="#df4a52" fill-opacity="0.85"/><circle cx="156.9" cy="171.1" r="2.2" fill="#df4a52" fill-opacity="0.85"/><circle cx="158.9" cy="178.8" r="2.2" fill="#df4a52" fill-opacity="0.85"/><circle cx="161.5" cy="182.1" r="2.2" fill="#df4a52" fill-opacity="0.85"/><circle cx="164" cy="187.7" r="2.2" fill="#df4a52" fill-opacity="0.85"/><circle cx="166.6" cy="189.7" r="2.2" fill="#df4a52" fill-opacity="0.85"/><circle cx="169.1" cy="191.7" r="2.2" fill="#df4a52" fill-opacity="0.85"/><circle cx="171.6" cy="194.3" r="2.2" fill="#df4a52" fill-opacity="0.85"/><circle cx="174.2" cy="197.3" r="2.2" fill="#df4a52" fill-opacity="0.85"/><circle cx="176.7" cy="198.3" r="2.2" fill="#df4a52" fill-opacity="0.85"/><circle cx="179.2" cy="201.4" r="2.2" fill="#df4a52" fill-opacity="0.85"/><circle cx="181.7" cy="203.4" r="2.2" fill="#df4a52" fill-opacity="0.85"/><circle cx="184.3" cy="204.4" r="2.2" fill="#df4a52" fill-opacity="0.85"/><circle cx="187.3" cy="205.9" r="2.2" fill="#df4a52" fill-opacity="0.85"/><circle cx="190.3" cy="207.2" r="2.2" fill="#df4a52" fill-opacity="0.85"/><circle cx="193.4" cy="207.9" r="2.2" fill="#df4a52" fill-opacity="0.85"/><circle cx="196.4" cy="208.9" r="2.2" fill="#df4a52" fill-opacity="0.85"/><circle cx="199.4" cy="209.7" r="2.2" fill="#df4a52" fill-opacity="0.85"/><circle cx="202.5" cy="210.5" r="2.2" fill="#df4a52" fill-opacity="0.85"/><circle cx="205.5" cy="211" r="2.2" fill="#df4a52" fill-opacity="0.85"/><circle cx="208.5" cy="211.5" r="2.2" fill="#df4a52" fill-opacity="0.85"/><circle cx="211.6" cy="212" r="2.2" fill="#df4a52" fill-opacity="0.85"/><circle cx="214.6" cy="212" r="2.2" fill="#df4a52" fill-opacity="0.85"/><circle cx="217.7" cy="212" r="2.2" fill="#df4a52" fill-opacity="0.85"/><circle cx="220.2" cy="212" r="2.2" fill="#df4a52" fill-opacity="0.85"/>
</g>
<rect x="282.3" y="33.4" width="14.7" height="181.2" fill="url(#gcyl)"/>
<rect x="310.2" y="33.4" width="12.8" height="181.2" fill="url(#gcyl)"/>
<rect x="519.9" y="33.4" width="127.7" height="181.2" fill="url(#gcyl)"/>
<line x1="299.3" y1="33.4" x2="299.3" y2="214.6" stroke="#8a8a8a" stroke-width="0.9" stroke-dasharray="2,1.5"/>
<line x1="282.55" y1="65.4" x2="647.45" y2="65.4" stroke="#909090" stroke-width="0.85" stroke-dasharray="2.6,0.6,2.6,1.2"/>
<rect x="282.55" y="33.4" width="364.9" height="181.2" fill="none" stroke="#5c5c5c" stroke-width="1.05"/>
<line x1="299.5" y1="33.4" x2="299.5" y2="38.4" stroke="#5c5c5c" stroke-width="0.9" />
<line x1="341.93" y1="33.4" x2="341.93" y2="38.4" stroke="#5c5c5c" stroke-width="0.9" />
<line x1="384.35" y1="33.4" x2="384.35" y2="38.4" stroke="#5c5c5c" stroke-width="0.9" />
<line x1="426.77" y1="33.4" x2="426.77" y2="38.4" stroke="#5c5c5c" stroke-width="0.9" />
<line x1="469.2" y1="33.4" x2="469.2" y2="38.4" stroke="#5c5c5c" stroke-width="0.9" />
<line x1="511.62" y1="33.4" x2="511.62" y2="38.4" stroke="#5c5c5c" stroke-width="0.9" />
<line x1="554.05" y1="33.4" x2="554.05" y2="38.4" stroke="#5c5c5c" stroke-width="0.9" />
<line x1="596.48" y1="33.4" x2="596.48" y2="38.4" stroke="#5c5c5c" stroke-width="0.9" />
<line x1="638.9" y1="33.4" x2="638.9" y2="38.4" stroke="#5c5c5c" stroke-width="0.9" />
<line x1="291.01" y1="33.4" x2="291.01" y2="35.9" stroke="#5c5c5c" stroke-width="0.9" />
<line x1="307.99" y1="33.4" x2="307.99" y2="35.9" stroke="#5c5c5c" stroke-width="0.9" />
<line x1="316.47" y1="33.4" x2="316.47" y2="35.9" stroke="#5c5c5c" stroke-width="0.9" />
<line x1="324.95" y1="33.4" x2="324.95" y2="35.9" stroke="#5c5c5c" stroke-width="0.9" />
<line x1="333.44" y1="33.4" x2="333.44" y2="35.9" stroke="#5c5c5c" stroke-width="0.9" />
<line x1="350.41" y1="33.4" x2="350.41" y2="35.9" stroke="#5c5c5c" stroke-width="0.9" />
<line x1="358.89" y1="33.4" x2="358.89" y2="35.9" stroke="#5c5c5c" stroke-width="0.9" />
<line x1="367.38" y1="33.4" x2="367.38" y2="35.9" stroke="#5c5c5c" stroke-width="0.9" />
<line x1="375.87" y1="33.4" x2="375.87" y2="35.9" stroke="#5c5c5c" stroke-width="0.9" />
<line x1="392.83" y1="33.4" x2="392.83" y2="35.9" stroke="#5c5c5c" stroke-width="0.9" />
<line x1="401.32" y1="33.4" x2="401.32" y2="35.9" stroke="#5c5c5c" stroke-width="0.9" />
<line x1="409.8" y1="33.4" x2="409.8" y2="35.9" stroke="#5c5c5c" stroke-width="0.9" />
<line x1="418.29" y1="33.4" x2="418.29" y2="35.9" stroke="#5c5c5c" stroke-width="0.9" />
<line x1="435.26" y1="33.4" x2="435.26" y2="35.9" stroke="#5c5c5c" stroke-width="0.9" />
<line x1="443.75" y1="33.4" x2="443.75" y2="35.9" stroke="#5c5c5c" stroke-width="0.9" />
<line x1="452.23" y1="33.4" x2="452.23" y2="35.9" stroke="#5c5c5c" stroke-width="0.9" />
<line x1="460.72" y1="33.4" x2="460.72" y2="35.9" stroke="#5c5c5c" stroke-width="0.9" />
<line x1="477.69" y1="33.4" x2="477.69" y2="35.9" stroke="#5c5c5c" stroke-width="0.9" />
<line x1="486.17" y1="33.4" x2="486.17" y2="35.9" stroke="#5c5c5c" stroke-width="0.9" />
<line x1="494.65" y1="33.4" x2="494.65" y2="35.9" stroke="#5c5c5c" stroke-width="0.9" />
<line x1="503.14" y1="33.4" x2="503.14" y2="35.9" stroke="#5c5c5c" stroke-width="0.9" />
<line x1="520.11" y1="33.4" x2="520.11" y2="35.9" stroke="#5c5c5c" stroke-width="0.9" />
<line x1="528.6" y1="33.4" x2="528.6" y2="35.9" stroke="#5c5c5c" stroke-width="0.9" />
<line x1="537.08" y1="33.4" x2="537.08" y2="35.9" stroke="#5c5c5c" stroke-width="0.9" />
<line x1="545.56" y1="33.4" x2="545.56" y2="35.9" stroke="#5c5c5c" stroke-width="0.9" />
<line x1="562.54" y1="33.4" x2="562.54" y2="35.9" stroke="#5c5c5c" stroke-width="0.9" />
<line x1="571.02" y1="33.4" x2="571.02" y2="35.9" stroke="#5c5c5c" stroke-width="0.9" />
<line x1="579.5" y1="33.4" x2="579.5" y2="35.9" stroke="#5c5c5c" stroke-width="0.9" />
<line x1="587.99" y1="33.4" x2="587.99" y2="35.9" stroke="#5c5c5c" stroke-width="0.9" />
<line x1="604.96" y1="33.4" x2="604.96" y2="35.9" stroke="#5c5c5c" stroke-width="0.9" />
<line x1="613.44" y1="33.4" x2="613.44" y2="35.9" stroke="#5c5c5c" stroke-width="0.9" />
<line x1="621.93" y1="33.4" x2="621.93" y2="35.9" stroke="#5c5c5c" stroke-width="0.9" />
<line x1="630.41" y1="33.4" x2="630.41" y2="35.9" stroke="#5c5c5c" stroke-width="0.9" />
<line x1="647.38" y1="33.4" x2="647.38" y2="35.9" stroke="#5c5c5c" stroke-width="0.9" />
<line x1="282.55" y1="192.5" x2="287.55" y2="192.5" stroke="#2f80c0" stroke-width="0.9" />
<line x1="282.55" y1="160.75" x2="287.55" y2="160.75" stroke="#2f80c0" stroke-width="0.9" />
<line x1="282.55" y1="129" x2="287.55" y2="129" stroke="#2f80c0" stroke-width="0.9" />
<line x1="282.55" y1="97.25" x2="287.55" y2="97.25" stroke="#2f80c0" stroke-width="0.9" />
<line x1="282.55" y1="65.5" x2="287.55" y2="65.5" stroke="#2f80c0" stroke-width="0.9" />
<line x1="282.55" y1="33.75" x2="287.55" y2="33.75" stroke="#2f80c0" stroke-width="0.9" />
<line x1="282.55" y1="211.55" x2="285.05" y2="211.55" stroke="#2f80c0" stroke-width="0.9" />
<line x1="282.55" y1="205.2" x2="285.05" y2="205.2" stroke="#2f80c0" stroke-width="0.9" />
<line x1="282.55" y1="198.85" x2="285.05" y2="198.85" stroke="#2f80c0" stroke-width="0.9" />
<line x1="282.55" y1="186.15" x2="285.05" y2="186.15" stroke="#2f80c0" stroke-width="0.9" />
<line x1="282.55" y1="179.8" x2="285.05" y2="179.8" stroke="#2f80c0" stroke-width="0.9" />
<line x1="282.55" y1="173.45" x2="285.05" y2="173.45" stroke="#2f80c0" stroke-width="0.9" />
<line x1="282.55" y1="167.1" x2="285.05" y2="167.1" stroke="#2f80c0" stroke-width="0.9" />
<line x1="282.55" y1="154.4" x2="285.05" y2="154.4" stroke="#2f80c0" stroke-width="0.9" />
<line x1="282.55" y1="148.05" x2="285.05" y2="148.05" stroke="#2f80c0" stroke-width="0.9" />
<line x1="282.55" y1="141.7" x2="285.05" y2="141.7" stroke="#2f80c0" stroke-width="0.9" />
<line x1="282.55" y1="135.35" x2="285.05" y2="135.35" stroke="#2f80c0" stroke-width="0.9" />
<line x1="282.55" y1="122.65" x2="285.05" y2="122.65" stroke="#2f80c0" stroke-width="0.9" />
<line x1="282.55" y1="116.3" x2="285.05" y2="116.3" stroke="#2f80c0" stroke-width="0.9" />
<line x1="282.55" y1="109.95" x2="285.05" y2="109.95" stroke="#2f80c0" stroke-width="0.9" />
<line x1="282.55" y1="103.6" x2="285.05" y2="103.6" stroke="#2f80c0" stroke-width="0.9" />
<line x1="282.55" y1="90.9" x2="285.05" y2="90.9" stroke="#2f80c0" stroke-width="0.9" />
<line x1="282.55" y1="84.55" x2="285.05" y2="84.55" stroke="#2f80c0" stroke-width="0.9" />
<line x1="282.55" y1="78.2" x2="285.05" y2="78.2" stroke="#2f80c0" stroke-width="0.9" />
<line x1="282.55" y1="71.85" x2="285.05" y2="71.85" stroke="#2f80c0" stroke-width="0.9" />
<line x1="282.55" y1="59.15" x2="285.05" y2="59.15" stroke="#2f80c0" stroke-width="0.9" />
<line x1="282.55" y1="52.8" x2="285.05" y2="52.8" stroke="#2f80c0" stroke-width="0.9" />
<line x1="282.55" y1="46.45" x2="285.05" y2="46.45" stroke="#2f80c0" stroke-width="0.9" />
<line x1="282.55" y1="40.1" x2="285.05" y2="40.1" stroke="#2f80c0" stroke-width="0.9" />
<line x1="647.45" y1="64.9" x2="642.45" y2="64.9" stroke="#d9363e" stroke-width="0.9" />
<line x1="647.45" y1="109.6" x2="642.45" y2="109.6" stroke="#d9363e" stroke-width="0.9" />
<line x1="647.45" y1="154.3" x2="642.45" y2="154.3" stroke="#d9363e" stroke-width="0.9" />
<line x1="647.45" y1="199" x2="642.45" y2="199" stroke="#d9363e" stroke-width="0.9" />
<line x1="647.45" y1="38.08" x2="644.95" y2="38.08" stroke="#d9363e" stroke-width="0.9" />
<line x1="647.45" y1="47.02" x2="644.95" y2="47.02" stroke="#d9363e" stroke-width="0.9" />
<line x1="647.45" y1="55.96" x2="644.95" y2="55.96" stroke="#d9363e" stroke-width="0.9" />
<line x1="647.45" y1="73.84" x2="644.95" y2="73.84" stroke="#d9363e" stroke-width="0.9" />
<line x1="647.45" y1="82.78" x2="644.95" y2="82.78" stroke="#d9363e" stroke-width="0.9" />
<line x1="647.45" y1="91.72" x2="644.95" y2="91.72" stroke="#d9363e" stroke-width="0.9" />
<line x1="647.45" y1="100.66" x2="644.95" y2="100.66" stroke="#d9363e" stroke-width="0.9" />
<line x1="647.45" y1="118.54" x2="644.95" y2="118.54" stroke="#d9363e" stroke-width="0.9" />
<line x1="647.45" y1="127.48" x2="644.95" y2="127.48" stroke="#d9363e" stroke-width="0.9" />
<line x1="647.45" y1="136.42" x2="644.95" y2="136.42" stroke="#d9363e" stroke-width="0.9" />
<line x1="647.45" y1="145.36" x2="644.95" y2="145.36" stroke="#d9363e" stroke-width="0.9" />
<line x1="647.45" y1="163.24" x2="644.95" y2="163.24" stroke="#d9363e" stroke-width="0.9" />
<line x1="647.45" y1="172.18" x2="644.95" y2="172.18" stroke="#d9363e" stroke-width="0.9" />
<line x1="647.45" y1="181.12" x2="644.95" y2="181.12" stroke="#d9363e" stroke-width="0.9" />
<line x1="647.45" y1="190.06" x2="644.95" y2="190.06" stroke="#d9363e" stroke-width="0.9" />
<line x1="647.45" y1="207.94" x2="644.95" y2="207.94" stroke="#d9363e" stroke-width="0.9" />
<text x="299.5" y="28.1" font-size="11" text-anchor="middle" fill="#383838" >0</text>
<text x="341.93" y="28.1" font-size="11" text-anchor="middle" fill="#383838" >250</text>
<text x="384.35" y="28.1" font-size="11" text-anchor="middle" fill="#383838" >500</text>
<text x="426.77" y="28.1" font-size="11" text-anchor="middle" fill="#383838" >750</text>
<text x="469.2" y="28.1" font-size="11" text-anchor="middle" fill="#383838" >1000</text>
<text x="511.62" y="28.1" font-size="11" text-anchor="middle" fill="#383838" >1250</text>
<text x="554.05" y="28.1" font-size="11" text-anchor="middle" fill="#383838" >1500</text>
<text x="596.48" y="28.1" font-size="11" text-anchor="middle" fill="#383838" >1750</text>
<text x="638.9" y="28.1" font-size="11" text-anchor="middle" fill="#383838" >2000</text>
<text x="277.5" y="196.4" font-size="11" text-anchor="end" fill="#2f80c0" >0.6</text>
<text x="277.5" y="164.65" font-size="11" text-anchor="end" fill="#2f80c0" >0.7</text>
<text x="277.5" y="132.9" font-size="11" text-anchor="end" fill="#2f80c0" >0.8</text>
<text x="277.5" y="101.15" font-size="11" text-anchor="end" fill="#2f80c0" >0.9</text>
<text x="277.5" y="69.4" font-size="11" text-anchor="end" fill="#2f80c0" >1.0</text>
<text x="277.5" y="37.65" font-size="11" text-anchor="end" fill="#2f80c0" >1.1</text>
<text x="651.8" y="68.8" font-size="11" text-anchor="start" fill="#d9363e" >0</text>
<text x="651.8" y="113.5" font-size="11" text-anchor="start" fill="#d9363e" >−1</text>
<text x="651.8" y="158.2" font-size="11" text-anchor="start" fill="#d9363e" >−2</text>
<text x="651.8" y="202.9" font-size="11" text-anchor="start" fill="#d9363e" >−3</text>
<text x="456" y="10.5" font-size="11" text-anchor="middle" fill="#383838" >Delay,<tspan font-style="italic" dx="3">t</tspan> (ps)</text>
<text x="0" y="0" font-size="11" text-anchor="middle" fill="#2f80c0" transform="translate(252,124) rotate(-90)">Magnetisation, <tspan font-style="italic">M</tspan></text>
<text x="0" y="0" font-size="11" text-anchor="middle" fill="#d9363e" transform="translate(682,123.4) rotate(-90)">Relative peak shift (%)</text>
<text x="243" y="24" font-size="16" text-anchor="start" fill="#000" font-weight="bold">b</text>
<text x="291" y="149.6" font-size="11" text-anchor="middle" fill="#222" >A</text>
<text x="318" y="149.6" font-size="11" text-anchor="middle" fill="#222" >B</text>
<text x="584.2" y="149.4" font-size="11" text-anchor="middle" fill="#222" >C</text>
<line x1="352.9" y1="123.8" x2="352.9" y2="135.1" stroke="#555" stroke-width="1.1" stroke-opacity="0.7"/>
<circle cx="352.9" cy="129.2" r="1.9" fill="#444"/>
<text x="370.9" y="132.5" font-size="11" text-anchor="start" fill="#383838" >Experiment</text>
<line x1="341" y1="146.4" x2="365" y2="146.4" stroke="#555" stroke-width="1.1" />
<text x="370.9" y="150" font-size="11" text-anchor="start" fill="#383838" >Fit</text>
<g clip-path="url(#cb)">
<path d="M282.3,65.4 L282.8,65.4 L283.3,65.4 L283.8,65.4 L284.3,65.41 L284.8,65.41 L285.3,65.42 L285.8,65.42 L286.3,65.43 L286.8,65.44 L287.3,65.45 L287.8,65.45 L288.3,65.46 L288.8,65.47 L289.3,65.48 L289.8,65.5 L290.3,65.51 L290.8,65.52 L291.3,65.54 L291.8,65.56 L292.3,65.59 L292.8,65.62 L293.3,65.66 L293.8,65.71 L294.3,65.77 L294.8,65.88 L295.3,66.17 L295.8,66.65 L296.3,67.31 L296.8,68.13 L297.3,69.37 L297.8,71.92 L298.3,75.4 L298.8,79.3 L299.3,83.77 L299.8,89.21 L300.3,95.5 L300.8,102.52 L301.3,110.58 L301.8,120.5 L302.3,133.53 L302.8,147.21 L303.3,157.7 L303.8,165.54 L304.3,169.37 L304.8,172.1 L305.3,174.26 L305.8,175.97 L306.3,177.37 L306.8,178.6 L307.3,179.74 L307.8,180.78 L308.3,181.73 L308.8,182.6 L309.3,183.4 L309.8,184.12 L310.3,184.77 L310.8,185.36 L311.3,185.9 L311.8,186.39 L312.3,186.85 L312.8,187.28 L313.3,187.69 L313.8,188.08 L314.3,188.45 L314.8,188.79 L315.3,189.13 L315.8,189.44 L316.3,189.75 L316.8,190.04 L317.3,190.32 L317.8,190.6 L318.3,190.86 L318.8,191.13 L319.3,191.39 L319.8,191.65 L320.3,191.91 L320.8,192.16 L321.3,192.41 L321.8,192.66 L322.3,192.9 L322.8,193.14 L323.3,193.37 L323.8,193.6 L324.3,193.82 L324.8,194.04 L325.3,194.25 L325.8,194.46 L326.3,194.67 L326.8,194.87 L327.3,195.07 L327.8,195.26 L328.3,195.44 L328.8,195.63 L329.3,195.8 L329.8,195.97 L330.3,196.14 L330.8,196.3 L331.3,196.46 L331.8,196.62 L332.3,196.77 L332.8,196.92 L333.3,197.07 L333.8,197.22 L334.3,197.36 L334.8,197.5 L335.3,197.64 L335.8,197.78 L336.3,197.91 L336.8,198.05 L337.3,198.18 L337.8,198.31 L338.3,198.43 L338.8,198.56 L339.3,198.68 L339.8,198.8 L340.3,198.91 L340.8,199.03 L341.3,199.14 L341.8,199.25 L342.3,199.36 L342.8,199.46 L343.3,199.57 L343.8,199.67 L344.3,199.77 L344.8,199.86 L345.3,199.95 L345.8,200.05 L346.3,200.14 L346.8,200.22 L347.3,200.31 L347.8,200.4 L348.3,200.49 L348.8,200.58 L349.3,200.66 L349.8,200.75 L350.3,200.84 L350.8,200.92 L351.3,201.01 L351.8,201.09 L352.3,201.18 L352.8,201.26 L353.3,201.34 L353.8,201.42 L354.3,201.51 L354.8,201.59 L355.3,201.66 L355.8,201.74 L356.3,201.82 L356.8,201.89 L357.3,201.97 L357.8,202.04 L358.3,202.11 L358.8,202.18 L359.3,202.25 L359.8,202.32 L360.3,202.39 L360.8,202.45 L361.3,202.51 L361.8,202.58 L362.3,202.63 L362.8,202.69 L363.3,202.75 L363.8,202.8 L364.3,202.86 L364.8,202.91 L365.3,202.95 L365.8,203 L366.3,203.04 L366.8,203.09 L367.3,203.13 L367.8,203.16 L368.3,203.2 L368.8,203.23 L369.3,203.26 L369.8,203.29 L370.3,203.32 L370.8,203.34 L371.3,203.36 L371.8,203.39 L372.3,203.41 L372.8,203.43 L373.3,203.46 L373.8,203.48 L374.3,203.5 L374.8,203.52 L375.3,203.54 L375.8,203.56 L376.3,203.58 L376.8,203.6 L377.3,203.62 L377.8,203.64 L378.3,203.65 L378.8,203.67 L379.3,203.69 L379.8,203.71 L380.3,203.72 L380.8,203.74 L381.3,203.75 L381.8,203.77 L382.3,203.78 L382.8,203.8 L383.3,203.81 L383.8,203.83 L384.3,203.84 L384.8,203.86 L385.3,203.87 L385.8,203.88 L386.3,203.9 L386.8,203.91 L387.3,203.92 L387.8,203.93 L388.3,203.95 L388.8,203.96 L389.3,203.97 L389.8,203.98 L390.3,203.99 L390.8,204.01 L391.3,204.02 L391.8,204.03 L392.3,204.04 L392.8,204.05 L393.3,204.06 L393.8,204.08 L394.3,204.09 L394.8,204.1 L395.3,204.11 L395.8,204.12 L396.3,204.13 L396.8,204.14 L397.3,204.16 L397.8,204.17 L398.3,204.18 L398.8,204.19 L399.3,204.2 L399.8,204.22 L400.3,204.23 L400.8,204.24 L401.3,204.25 L401.8,204.27 L402.3,204.28 L402.8,204.29 L403.3,204.3 L403.8,204.32 L404.3,204.33 L404.8,204.35 L405.3,204.36 L405.8,204.37 L406.3,204.39 L406.8,204.4 L407.3,204.42 L407.8,204.43 L408.3,204.45 L408.8,204.46 L409.3,204.48 L409.8,204.49 L410.3,204.51 L410.8,204.53 L411.3,204.54 L411.8,204.56 L412.3,204.57 L412.8,204.59 L413.3,204.6 L413.8,204.62 L414.3,204.64 L414.8,204.65 L415.3,204.67 L415.8,204.68 L416.3,204.7 L416.8,204.71 L417.3,204.73 L417.8,204.75 L418.3,204.76 L418.8,204.78 L419.3,204.79 L419.8,204.81 L420.3,204.82 L420.8,204.84 L421.3,204.85 L421.8,204.87 L422.3,204.88 L422.8,204.9 L423.3,204.91 L423.8,204.93 L424.3,204.94 L424.8,204.96 L425.3,204.97 L425.8,204.99 L426.3,205 L426.8,205.01 L427.3,205.03 L427.8,205.04 L428.3,205.05 L428.8,205.07 L429.3,205.08 L429.8,205.09 L430.3,205.11 L430.8,205.12 L431.3,205.13 L431.8,205.14 L432.3,205.16 L432.8,205.17 L433.3,205.18 L433.8,205.2 L434.3,205.21 L434.8,205.23 L435.3,205.24 L435.8,205.26 L436.3,205.27 L436.8,205.28 L437.3,205.3 L437.8,205.31 L438.3,205.33 L438.8,205.34 L439.3,205.36 L439.8,205.37 L440.3,205.38 L440.8,205.4 L441.3,205.41 L441.8,205.42 L442.3,205.44 L442.8,205.45 L443.3,205.46 L443.8,205.47 L444.3,205.48 L444.8,205.49 L445.3,205.51 L445.8,205.52 L446.3,205.53 L446.8,205.53 L447.3,205.54 L447.8,205.55 L448.3,205.56 L448.8,205.57 L449.3,205.57 L449.8,205.58 L450.3,205.58 L450.8,205.59 L451.3,205.59 L451.8,205.6 L452.3,205.6 L452.8,205.6 L453.3,205.6 L453.8,205.6 L454.3,205.6 L454.8,205.6 L455.3,205.6 L455.8,205.6 L456.3,205.6 L456.8,205.6 L457.3,205.6 L457.8,205.6 L458.3,205.6 L458.8,205.6 L459.3,205.6 L459.8,205.6 L460.3,205.6 L460.8,205.6 L461.3,205.6 L461.8,205.6 L462.3,205.6 L462.8,205.6 L463.3,205.6 L463.8,205.6 L464.3,205.6 L464.8,205.6 L465.3,205.6 L465.8,205.6 L466.3,205.6 L466.8,205.6 L467.3,205.6 L467.8,205.6 L468.3,205.6 L468.8,205.6 L469.3,205.6 L469.8,205.6 L470.3,205.6 L470.8,205.6 L471.3,205.6 L471.8,205.6 L472.3,205.6 L472.8,205.6 L473.3,205.6 L473.8,205.6 L474.3,205.6 L474.8,205.6 L475.3,205.6 L475.8,205.6 L476.3,205.6 L476.8,205.6 L477.3,205.6 L477.8,205.6 L478.3,205.6 L478.8,205.6 L479.3,205.6 L479.8,205.6 L480.3,205.6 L480.8,205.6 L481.3,205.6 L481.8,205.6 L482.3,205.6 L482.7,205.6 L482.7,205.6 L483.2,205.27 L483.7,204.94 L484.2,204.62 L484.7,204.3 L485.2,203.98 L485.7,203.66 L486.2,203.34 L486.7,203.03 L487.2,202.72 L487.7,202.41 L488.2,202.1 L488.7,201.8 L489.2,201.49 L489.7,201.19 L490.2,200.9 L490.7,200.6 L491.2,200.31 L491.7,200.01 L492.2,199.72 L492.7,199.44 L493.2,199.15 L493.7,198.87 L494.2,198.59 L494.7,198.31 L495.2,198.03 L495.7,197.75 L496.2,197.48 L496.7,197.21 L497.2,196.94 L497.7,196.67 L498.2,196.4 L498.7,196.14 L499.2,195.88 L499.7,195.62 L500.2,195.36 L500.7,195.1 L501.2,194.85 L501.7,194.59 L502.2,194.34 L502.7,194.09 L503.2,193.85 L503.7,193.6 L504.2,193.36 L504.7,193.11 L505.2,192.87 L505.7,192.63 L506.2,192.4 L506.7,192.16 L507.2,191.93 L507.7,191.69 L508.2,191.46 L508.7,191.24 L509.2,191.01 L509.7,190.78 L510.2,190.56 L510.7,190.34 L511.2,190.11 L511.7,189.9 L512.2,189.68 L512.7,189.46 L513.2,189.25 L513.7,189.03 L514.2,188.82 L514.7,188.61 L515.2,188.4 L515.7,188.2 L516.2,187.99 L516.7,187.79 L517.2,187.58 L517.7,187.38 L518.2,187.18 L518.7,186.98 L519.2,186.79 L519.7,186.59 L520.2,186.4 L520.7,186.2 L521.2,186.01 L521.7,185.82 L522.2,185.63 L522.7,185.45 L523.2,185.26 L523.7,185.08 L524.2,184.89 L524.7,184.71 L525.2,184.53 L525.7,184.35 L526.2,184.17 L526.7,183.99 L527.2,183.82 L527.7,183.64 L528.2,183.47 L528.7,183.3 L529.2,183.13 L529.7,182.96 L530.2,182.79 L530.7,182.62 L531.2,182.46 L531.7,182.29 L532.2,182.13 L532.7,181.97 L533.2,181.8 L533.7,181.64 L534.2,181.49 L534.7,181.33 L535.2,181.17 L535.7,181.01 L536.2,180.86 L536.7,180.71 L537.2,180.55 L537.7,180.4 L538.2,180.25 L538.7,180.1 L539.2,179.96 L539.7,179.81 L540.2,179.66 L540.7,179.52 L541.2,179.37 L541.7,179.23 L542.2,179.09 L542.7,178.95 L543.2,178.81 L543.7,178.67 L544.2,178.53 L544.7,178.4 L545.2,178.26 L545.7,178.12 L546.2,177.99 L546.7,177.86 L547.2,177.73 L547.7,177.59 L548.2,177.46 L548.7,177.33 L549.2,177.21 L549.7,177.08 L550.2,176.95 L550.7,176.83 L551.2,176.7 L551.7,176.58 L552.2,176.45 L552.7,176.33 L553.2,176.21 L553.7,176.09 L554.2,175.97 L554.7,175.85 L555.2,175.74 L555.7,175.62 L556.2,175.5 L556.7,175.39 L557.2,175.27 L557.7,175.16 L558.2,175.05 L558.7,174.93 L559.2,174.82 L559.7,174.71 L560.2,174.6 L560.7,174.49 L561.2,174.39 L561.7,174.28 L562.2,174.17 L562.7,174.07 L563.2,173.96 L563.7,173.86 L564.2,173.75 L564.7,173.65 L565.2,173.55 L565.7,173.45 L566.2,173.35 L566.7,173.25 L567.2,173.15 L567.7,173.05 L568.2,172.95 L568.7,172.85 L569.2,172.76 L569.7,172.66 L570.2,172.57 L570.7,172.47 L571.2,172.38 L571.7,172.28 L572.2,172.19 L572.7,172.1 L573.2,172.01 L573.7,171.92 L574.2,171.83 L574.7,171.74 L575.2,171.65 L575.7,171.56 L576.2,171.48 L576.7,171.39 L577.2,171.3 L577.7,171.22 L578.2,171.13 L578.7,171.05 L579.2,170.96 L579.7,170.88 L580.2,170.8 L580.7,170.72 L581.2,170.64 L581.7,170.56 L582.2,170.48 L582.7,170.4 L583.2,170.32 L583.7,170.24 L584.2,170.16 L584.7,170.08 L585.2,170.01 L585.7,169.93 L586.2,169.85 L586.7,169.78 L587.2,169.7 L587.7,169.63 L588.2,169.56 L588.7,169.48 L589.2,169.41 L589.7,169.34 L590.2,169.27 L590.7,169.2 L591.2,169.13 L591.7,169.06 L592.2,168.99 L592.7,168.92 L593.2,168.85 L593.7,168.78 L594.2,168.71 L594.7,168.65 L595.2,168.58 L595.7,168.52 L596.2,168.45 L596.7,168.38 L597.2,168.32 L597.7,168.26 L598.2,168.19 L598.7,168.13 L599.2,168.07 L599.7,168 L600.2,167.94 L600.7,167.88 L601.2,167.82 L601.7,167.76 L602.2,167.7 L602.7,167.64 L603.2,167.58 L603.7,167.52 L604.2,167.46 L604.7,167.4 L605.2,167.35 L605.7,167.29 L606.2,167.23 L606.7,167.18 L607.2,167.12 L607.7,167.06 L608.2,167.01 L608.7,166.95 L609.2,166.9 L609.7,166.84 L610.2,166.79 L610.7,166.74 L611.2,166.68 L611.7,166.63 L612.2,166.58 L612.7,166.53 L613.2,166.48 L613.7,166.43 L614.2,166.38 L614.7,166.32 L615.2,166.27 L615.7,166.23 L616.2,166.18 L616.7,166.13 L617.2,166.08 L617.7,166.03 L618.2,165.98 L618.7,165.93 L619.2,165.89 L619.7,165.84 L620.2,165.79 L620.7,165.75 L621.2,165.7 L621.7,165.66 L622.2,165.61 L622.7,165.57 L623.2,165.52 L623.7,165.48 L624.2,165.43 L624.7,165.39 L625.2,165.35 L625.7,165.3 L626.2,165.26 L626.7,165.22 L627.2,165.18 L627.7,165.13 L628.2,165.09 L628.7,165.05 L629.2,165.01 L629.7,164.97 L630.2,164.93 L630.7,164.89 L631.2,164.85 L631.7,164.81 L632.2,164.77 L632.7,164.73 L633.2,164.69 L633.7,164.65 L634.2,164.62 L634.7,164.58 L635.2,164.54 L635.7,164.5 L636.2,164.47 L636.7,164.43 L637.2,164.39 L637.7,164.36 L638.2,164.32 L638.7,164.29 L639.2,164.25 L639.7,164.21 L640.2,164.18 L640.7,164.15 L641.2,164.11 L641.7,164.08 L642.2,164.04 L642.7,164.01 L643.2,163.98 L643.7,163.94 L644.2,163.91 L644.7,163.88 L645.2,163.84 L645.7,163.81 L646.2,163.78 L646.7,163.75 L647.2,163.72" fill="none" stroke="#2b7cbb" stroke-width="1.5" stroke-linejoin="round" stroke-linecap="round" />
<line x1="286.5" y1="66.5" x2="286.5" y2="70.5" stroke="#3386c6" stroke-opacity="0.5" stroke-width="1.1"/><line x1="288.6" y1="66.3" x2="288.6" y2="70.3" stroke="#3386c6" stroke-opacity="0.5" stroke-width="1.1"/><line x1="290.8" y1="66.8" x2="290.8" y2="70.8" stroke="#3386c6" stroke-opacity="0.5" stroke-width="1.1"/><line x1="293.2" y1="66.1" x2="293.2" y2="70.1" stroke="#3386c6" stroke-opacity="0.5" stroke-width="1.1"/><line x1="295.2" y1="68.5" x2="295.2" y2="72.5" stroke="#3386c6" stroke-opacity="0.5" stroke-width="1.1"/><line x1="297.4" y1="69.8" x2="297.4" y2="74.8" stroke="#3386c6" stroke-opacity="0.5" stroke-width="1.1"/><line x1="298.7" y1="72.4" x2="298.7" y2="77.4" stroke="#3386c6" stroke-opacity="0.5" stroke-width="1.1"/><line x1="299.1" y1="76.8" x2="299.1" y2="81.8" stroke="#3386c6" stroke-opacity="0.5" stroke-width="1.1"/><line x1="300.9" y1="101.5" x2="300.9" y2="106.5" stroke="#3386c6" stroke-opacity="0.5" stroke-width="1.1"/><line x1="302.7" y1="146.2" x2="302.7" y2="151.2" stroke="#3386c6" stroke-opacity="0.5" stroke-width="1.1"/><line x1="304.6" y1="162.1" x2="304.6" y2="167.1" stroke="#3386c6" stroke-opacity="0.5" stroke-width="1.1"/><line x1="305.9" y1="175.2" x2="305.9" y2="180.2" stroke="#3386c6" stroke-opacity="0.5" stroke-width="1.1"/><line x1="307.8" y1="177.6" x2="307.8" y2="182.6" stroke="#3386c6" stroke-opacity="0.5" stroke-width="1.1"/><line x1="310.2" y1="181.7" x2="310.2" y2="186.7" stroke="#3386c6" stroke-opacity="0.5" stroke-width="1.1"/><line x1="311.5" y1="185.8" x2="311.5" y2="190.8" stroke="#3386c6" stroke-opacity="0.5" stroke-width="1.1"/><line x1="319.5" y1="186.9" x2="319.5" y2="191.9" stroke="#3386c6" stroke-opacity="0.5" stroke-width="1.1"/><line x1="327.4" y1="185.4" x2="327.4" y2="193.4" stroke="#3386c6" stroke-opacity="0.5" stroke-width="1.1"/><line x1="335.8" y1="197.1" x2="335.8" y2="203.1" stroke="#3386c6" stroke-opacity="0.5" stroke-width="1.1"/><line x1="343.8" y1="198.4" x2="343.8" y2="204.4" stroke="#3386c6" stroke-opacity="0.5" stroke-width="1.1"/><line x1="351.7" y1="197.1" x2="351.7" y2="203.1" stroke="#3386c6" stroke-opacity="0.5" stroke-width="1.1"/><line x1="360.1" y1="201.8" x2="360.1" y2="207.8" stroke="#3386c6" stroke-opacity="0.5" stroke-width="1.1"/><line x1="368.2" y1="200.2" x2="368.2" y2="206.2" stroke="#3386c6" stroke-opacity="0.5" stroke-width="1.1"/><line x1="375.9" y1="196.7" x2="375.9" y2="202.7" stroke="#3386c6" stroke-opacity="0.5" stroke-width="1.1"/><line x1="384.1" y1="199.7" x2="384.1" y2="206.7" stroke="#3386c6" stroke-opacity="0.5" stroke-width="1.1"/><line x1="405.6" y1="198.6" x2="405.6" y2="205.6" stroke="#3386c6" stroke-opacity="0.5" stroke-width="1.1"/><line x1="426.6" y1="202.6" x2="426.6" y2="208.6" stroke="#3386c6" stroke-opacity="0.5" stroke-width="1.1"/><line x1="447.6" y1="203.7" x2="447.6" y2="209.7" stroke="#3386c6" stroke-opacity="0.5" stroke-width="1.1"/><line x1="468.6" y1="203.7" x2="468.6" y2="209.7" stroke="#3386c6" stroke-opacity="0.5" stroke-width="1.1"/><line x1="490.4" y1="197.2" x2="490.4" y2="203.2" stroke="#3386c6" stroke-opacity="0.5" stroke-width="1.1"/><line x1="511.4" y1="193.9" x2="511.4" y2="199.9" stroke="#3386c6" stroke-opacity="0.5" stroke-width="1.1"/><line x1="532.9" y1="171" x2="532.9" y2="183" stroke="#3386c6" stroke-opacity="0.5" stroke-width="1.1"/><line x1="553.9" y1="173.5" x2="553.9" y2="182.5" stroke="#3386c6" stroke-opacity="0.5" stroke-width="1.1"/><line x1="575.4" y1="171.1" x2="575.4" y2="179.1" stroke="#3386c6" stroke-opacity="0.5" stroke-width="1.1"/><line x1="596.9" y1="165.9" x2="596.9" y2="174.9" stroke="#3386c6" stroke-opacity="0.5" stroke-width="1.1"/><line x1="617.9" y1="162.8" x2="617.9" y2="172.8" stroke="#3386c6" stroke-opacity="0.5" stroke-width="1.1"/><line x1="639.2" y1="160.3" x2="639.2" y2="170.3" stroke="#3386c6" stroke-opacity="0.5" stroke-width="1.1"/><circle cx="286.5" cy="68.5" r="1.9" fill="#3386c6" fill-opacity="0.85"/><circle cx="288.6" cy="68.3" r="1.9" fill="#3386c6" fill-opacity="0.85"/><circle cx="290.8" cy="68.8" r="1.9" fill="#3386c6" fill-opacity="0.85"/><circle cx="293.2" cy="68.1" r="1.9" fill="#3386c6" fill-opacity="0.85"/><circle cx="295.2" cy="70.5" r="1.9" fill="#3386c6" fill-opacity="0.85"/><circle cx="297.4" cy="72.3" r="1.9" fill="#3386c6" fill-opacity="0.85"/><circle cx="298.7" cy="74.9" r="1.9" fill="#3386c6" fill-opacity="0.85"/><circle cx="299.1" cy="79.3" r="1.9" fill="#3386c6" fill-opacity="0.85"/><circle cx="300.9" cy="104" r="1.9" fill="#3386c6" fill-opacity="0.85"/><circle cx="302.7" cy="148.7" r="1.9" fill="#3386c6" fill-opacity="0.85"/><circle cx="304.6" cy="164.6" r="1.9" fill="#3386c6" fill-opacity="0.85"/><circle cx="305.9" cy="177.7" r="1.9" fill="#3386c6" fill-opacity="0.85"/><circle cx="307.8" cy="180.1" r="1.9" fill="#3386c6" fill-opacity="0.85"/><circle cx="310.2" cy="184.2" r="1.9" fill="#3386c6" fill-opacity="0.85"/><circle cx="311.5" cy="188.3" r="1.9" fill="#3386c6" fill-opacity="0.85"/><circle cx="319.5" cy="189.4" r="1.9" fill="#3386c6" fill-opacity="0.85"/><circle cx="327.4" cy="189.4" r="1.9" fill="#3386c6" fill-opacity="0.85"/><circle cx="335.8" cy="200.1" r="1.9" fill="#3386c6" fill-opacity="0.85"/><circle cx="343.8" cy="201.4" r="1.9" fill="#3386c6" fill-opacity="0.85"/><circle cx="351.7" cy="200.1" r="1.9" fill="#3386c6" fill-opacity="0.85"/><circle cx="360.1" cy="204.8" r="1.9" fill="#3386c6" fill-opacity="0.85"/><circle cx="368.2" cy="203.2" r="1.9" fill="#3386c6" fill-opacity="0.85"/><circle cx="375.9" cy="199.7" r="1.9" fill="#3386c6" fill-opacity="0.85"/><circle cx="384.1" cy="203.2" r="1.9" fill="#3386c6" fill-opacity="0.85"/><circle cx="405.6" cy="202.1" r="1.9" fill="#3386c6" fill-opacity="0.85"/><circle cx="426.6" cy="205.6" r="1.9" fill="#3386c6" fill-opacity="0.85"/><circle cx="447.6" cy="206.7" r="1.9" fill="#3386c6" fill-opacity="0.85"/><circle cx="468.6" cy="206.7" r="1.9" fill="#3386c6" fill-opacity="0.85"/><circle cx="490.4" cy="200.2" r="1.9" fill="#3386c6" fill-opacity="0.85"/><circle cx="511.4" cy="196.9" r="1.9" fill="#3386c6" fill-opacity="0.85"/><circle cx="532.9" cy="177" r="1.9" fill="#3386c6" fill-opacity="0.85"/><circle cx="553.9" cy="178" r="1.9" fill="#3386c6" fill-opacity="0.85"/><circle cx="575.4" cy="175.1" r="1.9" fill="#3386c6" fill-opacity="0.85"/><circle cx="596.9" cy="170.4" r="1.9" fill="#3386c6" fill-opacity="0.85"/><circle cx="617.9" cy="167.8" r="1.9" fill="#3386c6" fill-opacity="0.85"/><circle cx="639.2" cy="165.3" r="1.9" fill="#3386c6" fill-opacity="0.85"/>
<path d="M282.3,65.2 L282.8,65.2 L283.3,65.2 L283.8,65.2 L284.3,65.2 L284.8,65.2 L285.3,65.2 L285.8,65.2 L286.3,65.2 L286.8,65.2 L287.3,65.2 L287.8,65.2 L288.3,65.2 L288.8,65.2 L289.3,65.2 L289.8,65.2 L290.3,65.2 L290.8,65.2 L291.3,65.2 L291.8,65.2 L292.3,65.2 L292.8,65.2 L293.3,65.2 L293.8,65.2 L294.3,65.2 L294.8,65.2 L295.3,65.2 L295.8,65.2 L296.3,65.2 L296.8,65.2 L297.3,65.2 L297.8,65.2 L298.3,65.2 L298.8,65.2 L299.3,65.2 L299.8,65.18 L300.3,65.03 L300.8,64.76 L301.3,64.43 L301.8,64.07 L302.3,63.57 L302.8,62.98 L303.3,62.33 L303.8,61.57 L304.3,60.71 L304.8,59.79 L305.3,58.84 L305.8,57.9 L306.3,57 L306.8,56.17 L307.3,55.32 L307.8,54.46 L308.3,53.61 L308.8,52.81 L309.3,52.1 L309.8,51.49 L310.3,51.02 L310.8,50.6 L311.3,50.2 L311.8,49.84 L312.3,49.53 L312.8,49.28 L313.3,49.08 L313.8,48.95 L314.3,48.85 L314.8,48.75 L315.3,48.66 L315.8,48.59 L316.3,48.54 L316.8,48.51 L317.2,48.5 L317.6,48.64 L318.1,48.78 L318.6,48.93 L319.1,49.08 L319.6,49.24 L320.1,49.4 L320.6,49.56 L321.1,49.73 L321.6,49.9 L322.1,50.08 L322.6,50.26 L323.1,50.45 L323.6,50.64 L324.1,50.83 L324.6,51.02 L325.1,51.22 L325.6,51.43 L326.1,51.63 L326.6,51.84 L327.1,52.05 L327.6,52.26 L328.1,52.48 L328.6,52.69 L329.1,52.92 L329.6,53.14 L330.1,53.36 L330.6,53.59 L331.1,53.82 L331.6,54.05 L332.1,54.28 L332.6,54.51 L333.1,54.74 L333.6,54.98 L334.1,55.21 L334.6,55.45 L335.1,55.69 L335.6,55.92 L336.1,56.16 L336.6,56.4 L337.1,56.64 L337.6,56.88 L338.1,57.12 L338.6,57.36 L339.1,57.59 L339.6,57.83 L340.1,58.07 L340.6,58.31 L341.1,58.54 L341.6,58.78 L342.1,59.02 L342.6,59.25 L343.1,59.49 L343.6,59.72 L344.1,59.96 L344.6,60.19 L345.1,60.43 L345.6,60.66 L346.1,60.9 L346.6,61.13 L347.1,61.36 L347.6,61.59 L348.1,61.83 L348.6,62.06 L349.1,62.29 L349.6,62.52 L350.1,62.75 L350.6,62.98 L351.1,63.21 L351.6,63.44 L352.1,63.67 L352.6,63.9 L353.1,64.13 L353.6,64.36 L354.1,64.59 L354.6,64.81 L355.1,65.04 L355.6,65.27 L356.1,65.5 L356.6,65.72 L357.1,65.95 L357.6,66.17 L358.1,66.4 L358.6,66.62 L359.1,66.85 L359.6,67.07 L360.1,67.3 L360.6,67.52 L361.1,67.74 L361.6,67.97 L362.1,68.19 L362.6,68.41 L363.1,68.63 L363.6,68.85 L364.1,69.07 L364.6,69.29 L365.1,69.51 L365.6,69.73 L366.1,69.95 L366.6,70.17 L367.1,70.39 L367.6,70.61 L368.1,70.83 L368.6,71.04 L369.1,71.26 L369.6,71.48 L370.1,71.69 L370.6,71.91 L371.1,72.13 L371.6,72.34 L372.1,72.56 L372.6,72.77 L373.1,72.98 L373.6,73.2 L374.1,73.41 L374.6,73.62 L375.1,73.84 L375.6,74.05 L376.1,74.26 L376.6,74.47 L377.1,74.68 L377.6,74.89 L378.1,75.1 L378.6,75.31 L379.1,75.52 L379.6,75.73 L380.1,75.94 L380.6,76.15 L381.1,76.35 L381.6,76.56 L382.1,76.77 L382.6,76.97 L383.1,77.18 L383.6,77.39 L384.1,77.59 L384.6,77.8 L385.1,78 L385.6,78.2 L386.1,78.41 L386.6,78.61 L387.1,78.81 L387.6,79.02 L388.1,79.22 L388.6,79.42 L389.1,79.62 L389.6,79.82 L390.1,80.02 L390.6,80.22 L391.1,80.42 L391.6,80.62 L392.1,80.82 L392.6,81.01 L393.1,81.21 L393.6,81.41 L394.1,81.61 L394.6,81.8 L395.1,82 L395.6,82.19 L396.1,82.39 L396.6,82.58 L397.1,82.78 L397.6,82.97 L398.1,83.16 L398.6,83.36 L399.1,83.55 L399.6,83.74 L400.1,83.93 L400.6,84.12 L401.1,84.31 L401.6,84.5 L402.1,84.69 L402.6,84.88 L403.1,85.07 L403.6,85.26 L404.1,85.45 L404.6,85.64 L405.1,85.82 L405.6,86.01 L406.1,86.2 L406.6,86.38 L407.1,86.57 L407.6,86.75 L408.1,86.94 L408.6,87.12 L409.1,87.3 L409.6,87.49 L410.1,87.67 L410.6,87.85 L411.1,88.03 L411.6,88.21 L412.1,88.39 L412.6,88.57 L413.1,88.75 L413.6,88.93 L414.1,89.11 L414.6,89.29 L415.1,89.47 L415.6,89.64 L416.1,89.82 L416.6,90 L417.1,90.17 L417.6,90.35 L418.1,90.52 L418.6,90.7 L419.1,90.87 L419.6,91.05 L420.1,91.22 L420.6,91.39 L421.1,91.56 L421.6,91.74 L422.1,91.91 L422.6,92.08 L423.1,92.25 L423.6,92.42 L424.1,92.59 L424.6,92.76 L425.1,92.92 L425.6,93.09 L426.1,93.26 L426.6,93.42 L427.1,93.59 L427.6,93.76 L428.1,93.92 L428.6,94.09 L429.1,94.25 L429.6,94.41 L430.1,94.58 L430.6,94.74 L431.1,94.9 L431.6,95.06 L432.1,95.23 L432.6,95.39 L433.1,95.55 L433.6,95.71 L434.1,95.87 L434.6,96.02 L435.1,96.18 L435.6,96.34 L436.1,96.5 L436.6,96.66 L437.1,96.81 L437.6,96.97 L438.1,97.12 L438.6,97.28 L439.1,97.43 L439.6,97.59 L440.1,97.74 L440.6,97.89 L441.1,98.04 L441.6,98.2 L442.1,98.35 L442.6,98.5 L443.1,98.65 L443.6,98.8 L444.1,98.95 L444.6,99.1 L445.1,99.25 L445.6,99.4 L446.1,99.54 L446.6,99.69 L447.1,99.84 L447.6,99.98 L448.1,100.13 L448.6,100.28 L449.1,100.42 L449.6,100.57 L450.1,100.71 L450.6,100.85 L451.1,101 L451.6,101.14 L452.1,101.28 L452.6,101.42 L453.1,101.56 L453.6,101.71 L454.1,101.85 L454.6,101.99 L455.1,102.13 L455.6,102.26 L456.1,102.4 L456.6,102.54 L457.1,102.68 L457.6,102.82 L458.1,102.95 L458.6,103.09 L459.1,103.23 L459.6,103.36 L460.1,103.5 L460.6,103.63 L461.1,103.77 L461.6,103.9 L462.1,104.03 L462.6,104.17 L463.1,104.3 L463.6,104.43 L464.1,104.56 L464.6,104.69 L465.1,104.82 L465.6,104.95 L466.1,105.08 L466.6,105.21 L467.1,105.34 L467.6,105.47 L468.1,105.6 L468.6,105.73 L469.1,105.86 L469.6,105.98 L470.1,106.11 L470.6,106.24 L471.1,106.36 L471.6,106.49 L472.1,106.61 L472.6,106.74 L473.1,106.86 L473.6,106.98 L474.1,107.11 L474.6,107.23 L475.1,107.35 L475.6,107.48 L476.1,107.6 L476.6,107.72 L477.1,107.84 L477.6,107.96 L478.1,108.08 L478.6,108.2 L479.1,108.32 L479.6,108.44 L480.1,108.56 L480.6,108.68 L481.1,108.79 L481.6,108.91 L482.1,109.03 L482.6,109.14 L483.1,109.26 L483.6,109.38 L484.1,109.49 L484.6,109.61 L485.1,109.72 L485.6,109.84 L486.1,109.95 L486.6,110.06 L487.1,110.18 L487.6,110.29 L488.1,110.4 L488.6,110.51 L489.1,110.62 L489.6,110.74 L490.1,110.85 L490.6,110.96 L491.1,111.07 L491.6,111.18 L492.1,111.29 L492.6,111.4 L493.1,111.5 L493.6,111.61 L494.1,111.72 L494.6,111.83 L495.1,111.94 L495.6,112.04 L496.1,112.15 L496.6,112.26 L497.1,112.36 L497.6,112.47 L498.1,112.57 L498.6,112.68 L499.1,112.78 L499.6,112.88 L500.1,112.99 L500.6,113.09 L501.1,113.19 L501.6,113.3 L502.1,113.4 L502.6,113.5 L503.1,113.6 L503.6,113.7 L504.1,113.8 L504.6,113.91 L505.1,114.01 L505.6,114.11 L506.1,114.21 L506.6,114.3 L507.1,114.4 L507.6,114.5 L508.1,114.6 L508.6,114.7 L509.1,114.8 L509.6,114.89 L510.1,114.99 L510.6,115.09 L511.1,115.18 L511.6,115.28 L512.1,115.37 L512.6,115.47 L513.1,115.56 L513.6,115.66 L514.1,115.75 L514.6,115.85 L515.1,115.94 L515.6,116.03 L516.1,116.13 L516.6,116.22 L517.1,116.31 L517.6,116.4 L518.1,116.49 L518.6,116.59 L519.1,116.68 L519.6,116.77 L520.1,116.86 L520.6,116.95 L521.1,117.04 L521.6,117.13 L522.1,117.22 L522.6,117.31 L523.1,117.4 L523.6,117.48 L524.1,117.57 L524.6,117.66 L525.1,117.75 L525.6,117.83 L526.1,117.92 L526.6,118.01 L527.1,118.09 L527.6,118.18 L528.1,118.27 L528.6,118.35 L529.1,118.44 L529.6,118.52 L530.1,118.61 L530.6,118.69 L531.1,118.77 L531.6,118.86 L532.1,118.94 L532.6,119.02 L533.1,119.11 L533.6,119.19 L534.1,119.27 L534.6,119.35 L535.1,119.43 L535.6,119.52 L536.1,119.6 L536.6,119.68 L537.1,119.76 L537.6,119.84 L538.1,119.92 L538.6,120 L539.1,120.08 L539.6,120.16 L540.1,120.24 L540.6,120.32 L541.1,120.39 L541.6,120.47 L542.1,120.55 L542.6,120.63 L543.1,120.71 L543.6,120.78 L544.1,120.86 L544.6,120.94 L545.1,121.01 L545.6,121.09 L546.1,121.16 L546.6,121.24 L547.1,121.32 L547.6,121.39 L548.1,121.47 L548.6,121.54 L549.1,121.61 L549.6,121.69 L550.1,121.76 L550.6,121.84 L551.1,121.91 L551.6,121.98 L552.1,122.06 L552.6,122.13 L553.1,122.2 L553.6,122.27 L554.1,122.34 L554.6,122.42 L555.1,122.49 L555.6,122.56 L556.1,122.63 L556.6,122.7 L557.1,122.77 L557.6,122.84 L558.1,122.91 L558.6,122.98 L559.1,123.05 L559.6,123.12 L560.1,123.19 L560.6,123.26 L561.1,123.33 L561.6,123.4 L562.1,123.47 L562.6,123.53 L563.1,123.6 L563.6,123.67 L564.1,123.74 L564.6,123.8 L565.1,123.87 L565.6,123.94 L566.1,124 L566.6,124.07 L567.1,124.14 L567.6,124.2 L568.1,124.27 L568.6,124.33 L569.1,124.4 L569.6,124.46 L570.1,124.53 L570.6,124.59 L571.1,124.66 L571.6,124.72 L572.1,124.79 L572.6,124.85 L573.1,124.92 L573.6,124.98 L574.1,125.04 L574.6,125.11 L575.1,125.17 L575.6,125.23 L576.1,125.29 L576.6,125.36 L577.1,125.42 L577.6,125.48 L578.1,125.54 L578.6,125.6 L579.1,125.67 L579.6,125.73 L580.1,125.79 L580.6,125.85 L581.1,125.91 L581.6,125.97 L582.1,126.03 L582.6,126.09 L583.1,126.15 L583.6,126.21 L584.1,126.27 L584.6,126.33 L585.1,126.39 L585.6,126.45 L586.1,126.51 L586.6,126.57 L587.1,126.63 L587.6,126.68 L588.1,126.74 L588.6,126.8 L589.1,126.86 L589.6,126.92 L590.1,126.97 L590.6,127.03 L591.1,127.09 L591.6,127.15 L592.1,127.2 L592.6,127.26 L593.1,127.32 L593.6,127.37 L594.1,127.43 L594.6,127.49 L595.1,127.54 L595.6,127.6 L596.1,127.66 L596.6,127.71 L597.1,127.77 L597.6,127.82 L598.1,127.88 L598.6,127.93 L599.1,127.99 L599.6,128.04 L600.1,128.1 L600.6,128.15 L601.1,128.21 L601.6,128.26 L602.1,128.32 L602.6,128.37 L603.1,128.42 L603.6,128.48 L604.1,128.53 L604.6,128.59 L605.1,128.64 L605.6,128.69 L606.1,128.75 L606.6,128.8 L607.1,128.85 L607.6,128.9 L608.1,128.96 L608.6,129.01 L609.1,129.06 L609.6,129.11 L610.1,129.17 L610.6,129.22 L611.1,129.27 L611.6,129.32 L612.1,129.37 L612.6,129.43 L613.1,129.48 L613.6,129.53 L614.1,129.58 L614.6,129.63 L615.1,129.68 L615.6,129.73 L616.1,129.78 L616.6,129.84 L617.1,129.89 L617.6,129.94 L618.1,129.99 L618.6,130.04 L619.1,130.09 L619.6,130.14 L620.1,130.19 L620.6,130.24 L621.1,130.29 L621.6,130.34 L622.1,130.39 L622.6,130.44 L623.1,130.49 L623.6,130.54 L624.1,130.59 L624.6,130.64 L625.1,130.68 L625.6,130.73 L626.1,130.78 L626.6,130.83 L627.1,130.88 L627.6,130.93 L628.1,130.98 L628.6,131.03 L629.1,131.08 L629.6,131.12 L630.1,131.17 L630.6,131.22 L631.1,131.27 L631.6,131.32 L632.1,131.37 L632.6,131.41 L633.1,131.46 L633.6,131.51 L634.1,131.56 L634.6,131.6 L635.1,131.65 L635.6,131.7 L636.1,131.75 L636.6,131.8 L637.1,131.84 L637.6,131.89 L638.1,131.94 L638.6,131.99 L639.1,132.03 L639.6,132.08 L640.1,132.13 L640.6,132.17 L641.1,132.22 L641.6,132.27 L642.1,132.32 L642.6,132.36 L643.1,132.41 L643.6,132.46 L644.1,132.5 L644.6,132.55 L645.1,132.6 L645.6,132.64 L646.1,132.69 L646.6,132.74 L647.1,132.78 L647.6,132.83" fill="none" stroke="#d8333b" stroke-width="1.5" stroke-linejoin="round" stroke-linecap="round" />
<line x1="288.6" y1="58.6" x2="288.6" y2="66.6" stroke="#d9434b" stroke-opacity="0.5" stroke-width="1.1"/><line x1="290.5" y1="62" x2="290.5" y2="68" stroke="#d9434b" stroke-opacity="0.5" stroke-width="1.1"/><line x1="292.5" y1="63.1" x2="292.5" y2="69.1" stroke="#d9434b" stroke-opacity="0.5" stroke-width="1.1"/><line x1="294.5" y1="62.2" x2="294.5" y2="68.2" stroke="#d9434b" stroke-opacity="0.5" stroke-width="1.1"/><line x1="296.9" y1="61.4" x2="296.9" y2="67.4" stroke="#d9434b" stroke-opacity="0.5" stroke-width="1.1"/><line x1="298.7" y1="64" x2="298.7" y2="70" stroke="#d9434b" stroke-opacity="0.5" stroke-width="1.1"/><line x1="302.7" y1="49.6" x2="302.7" y2="61.6" stroke="#d9434b" stroke-opacity="0.5" stroke-width="1.1"/><line x1="304.4" y1="49.7" x2="304.4" y2="59.7" stroke="#d9434b" stroke-opacity="0.5" stroke-width="1.1"/><line x1="306.2" y1="54.1" x2="306.2" y2="64.1" stroke="#d9434b" stroke-opacity="0.5" stroke-width="1.1"/><line x1="307.9" y1="46.2" x2="307.9" y2="56.2" stroke="#d9434b" stroke-opacity="0.5" stroke-width="1.1"/><line x1="311" y1="41.2" x2="311" y2="53.2" stroke="#d9434b" stroke-opacity="0.5" stroke-width="1.1"/><line x1="319.3" y1="43.1" x2="319.3" y2="53.1" stroke="#d9434b" stroke-opacity="0.5" stroke-width="1.1"/><line x1="327.5" y1="51.8" x2="327.5" y2="63.8" stroke="#d9434b" stroke-opacity="0.5" stroke-width="1.1"/><line x1="335.5" y1="51.8" x2="335.5" y2="63.8" stroke="#d9434b" stroke-opacity="0.5" stroke-width="1.1"/><line x1="343.7" y1="54.2" x2="343.7" y2="66.2" stroke="#d9434b" stroke-opacity="0.5" stroke-width="1.1"/><line x1="351.8" y1="58.5" x2="351.8" y2="70.5" stroke="#d9434b" stroke-opacity="0.5" stroke-width="1.1"/><line x1="359.8" y1="56.4" x2="359.8" y2="70.4" stroke="#d9434b" stroke-opacity="0.5" stroke-width="1.1"/><line x1="368" y1="53.6" x2="368" y2="67.6" stroke="#d9434b" stroke-opacity="0.5" stroke-width="1.1"/><line x1="376.1" y1="67.7" x2="376.1" y2="83.7" stroke="#d9434b" stroke-opacity="0.5" stroke-width="1.1"/><line x1="384.1" y1="66.7" x2="384.1" y2="84.7" stroke="#d9434b" stroke-opacity="0.5" stroke-width="1.1"/><line x1="405.4" y1="81.7" x2="405.4" y2="99.7" stroke="#d9434b" stroke-opacity="0.5" stroke-width="1.1"/><line x1="426.5" y1="80.3" x2="426.5" y2="96.3" stroke="#d9434b" stroke-opacity="0.5" stroke-width="1.1"/><line x1="448" y1="96.6" x2="448" y2="110.6" stroke="#d9434b" stroke-opacity="0.5" stroke-width="1.1"/><line x1="469.3" y1="108.4" x2="469.3" y2="122.4" stroke="#d9434b" stroke-opacity="0.5" stroke-width="1.1"/><line x1="490.3" y1="96.7" x2="490.3" y2="113.7" stroke="#d9434b" stroke-opacity="0.5" stroke-width="1.1"/><line x1="511.6" y1="116.8" x2="511.6" y2="136.8" stroke="#d9434b" stroke-opacity="0.5" stroke-width="1.1"/><line x1="532.8" y1="97" x2="532.8" y2="111" stroke="#d9434b" stroke-opacity="0.5" stroke-width="1.1"/><line x1="554.1" y1="114.7" x2="554.1" y2="132.7" stroke="#d9434b" stroke-opacity="0.5" stroke-width="1.1"/><line x1="575.3" y1="120.4" x2="575.3" y2="135.4" stroke="#d9434b" stroke-opacity="0.5" stroke-width="1.1"/><line x1="596.5" y1="111.1" x2="596.5" y2="125.1" stroke="#d9434b" stroke-opacity="0.5" stroke-width="1.1"/><line x1="617.9" y1="120.6" x2="617.9" y2="139.6" stroke="#d9434b" stroke-opacity="0.5" stroke-width="1.1"/><line x1="639.1" y1="123.9" x2="639.1" y2="146.9" stroke="#d9434b" stroke-opacity="0.5" stroke-width="1.1"/><circle cx="288.6" cy="62.6" r="1.9" fill="#d9434b" fill-opacity="0.85"/><circle cx="290.5" cy="65" r="1.9" fill="#d9434b" fill-opacity="0.85"/><circle cx="292.5" cy="66.1" r="1.9" fill="#d9434b" fill-opacity="0.85"/><circle cx="294.5" cy="65.2" r="1.9" fill="#d9434b" fill-opacity="0.85"/><circle cx="296.9" cy="64.4" r="1.9" fill="#d9434b" fill-opacity="0.85"/><circle cx="298.7" cy="67" r="1.9" fill="#d9434b" fill-opacity="0.85"/><circle cx="302.7" cy="55.6" r="1.9" fill="#d9434b" fill-opacity="0.85"/><circle cx="304.4" cy="54.7" r="1.9" fill="#d9434b" fill-opacity="0.85"/><circle cx="306.2" cy="59.1" r="1.9" fill="#d9434b" fill-opacity="0.85"/><circle cx="307.9" cy="51.2" r="1.9" fill="#d9434b" fill-opacity="0.85"/><circle cx="311" cy="47.2" r="1.9" fill="#d9434b" fill-opacity="0.85"/><circle cx="319.3" cy="48.1" r="1.9" fill="#d9434b" fill-opacity="0.85"/><circle cx="327.5" cy="57.8" r="1.9" fill="#d9434b" fill-opacity="0.85"/><circle cx="335.5" cy="57.8" r="1.9" fill="#d9434b" fill-opacity="0.85"/><circle cx="343.7" cy="60.2" r="1.9" fill="#d9434b" fill-opacity="0.85"/><circle cx="351.8" cy="64.5" r="1.9" fill="#d9434b" fill-opacity="0.85"/><circle cx="359.8" cy="63.4" r="1.9" fill="#d9434b" fill-opacity="0.85"/><circle cx="368" cy="60.6" r="1.9" fill="#d9434b" fill-opacity="0.85"/><circle cx="376.1" cy="75.7" r="1.9" fill="#d9434b" fill-opacity="0.85"/><circle cx="384.1" cy="75.7" r="1.9" fill="#d9434b" fill-opacity="0.85"/><circle cx="405.4" cy="90.7" r="1.9" fill="#d9434b" fill-opacity="0.85"/><circle cx="426.5" cy="88.3" r="1.9" fill="#d9434b" fill-opacity="0.85"/><circle cx="448" cy="103.6" r="1.9" fill="#d9434b" fill-opacity="0.85"/><circle cx="469.3" cy="115.4" r="1.9" fill="#d9434b" fill-opacity="0.85"/><circle cx="490.3" cy="105.2" r="1.9" fill="#d9434b" fill-opacity="0.85"/><circle cx="511.6" cy="126.8" r="1.9" fill="#d9434b" fill-opacity="0.85"/><circle cx="532.8" cy="104" r="1.9" fill="#d9434b" fill-opacity="0.85"/><circle cx="554.1" cy="123.7" r="1.9" fill="#d9434b" fill-opacity="0.85"/><circle cx="575.3" cy="127.9" r="1.9" fill="#d9434b" fill-opacity="0.85"/><circle cx="596.5" cy="118.1" r="1.9" fill="#d9434b" fill-opacity="0.85"/><circle cx="617.9" cy="130.1" r="1.9" fill="#d9434b" fill-opacity="0.85"/><circle cx="639.1" cy="135.4" r="1.9" fill="#d9434b" fill-opacity="0.85"/>
</g>
<rect x="50.5" y="239.4" width="44.5" height="181" fill="url(#ga)"/>
<path d="M50.7,358.6 L50.7,354.6 L51.2,354.11 L51.7,353.6 L52.2,353.08 L52.7,352.55 L53.2,352 L53.7,351.44 L54.2,350.86 L54.7,350.26 L55.2,349.64 L55.7,349 L56.2,348.34 L56.7,347.65 L57.2,346.94 L57.7,346.21 L58.2,345.44 L58.7,344.65 L59.2,343.83 L59.7,342.98 L60.2,342.1 L60.7,341.19 L61.2,340.24 L61.7,339.26 L62.2,338.24 L62.7,337.18 L63.2,336.09 L63.7,334.95 L64.2,333.77 L64.7,332.56 L65.2,331.29 L65.7,329.99 L66.2,328.64 L66.7,327.25 L67.2,325.82 L67.7,324.36 L68.2,322.86 L68.7,321.33 L69.2,319.77 L69.7,318.19 L70.2,316.59 L70.7,314.96 L71.2,313.32 L71.7,311.66 L72.2,309.99 L72.7,308.3 L73.2,306.61 L73.7,304.92 L74.2,303.22 L74.7,301.52 L75.2,299.83 L75.7,298.13 L76.2,296.41 L76.7,294.66 L77.2,292.85 L77.7,290.97 L78.2,289 L78.7,286.91 L79.2,284.7 L79.7,282.37 L80.2,279.98 L80.7,277.6 L81.2,275.29 L81.7,273.1 L82.2,271.06 L82.7,269.14 L83.2,267.34 L83.7,265.63 L84.2,264.01 L84.7,262.48 L85.2,261.03 L85.7,259.67 L86.2,258.38 L86.7,257.17 L87.2,256.04 L87.7,254.98 L88.2,253.99 L88.7,253.07 L89.2,252.22 L89.7,251.44 L90.2,250.73 L90.7,250.09 L91.2,249.52 L91.7,249.03 L92.2,248.62 L92.7,248.29 L93.2,248.05 L93.7,247.89 L94.2,247.82 L94.7,247.84 L95.2,247.96 L95.7,248.17 L96.2,248.48 L96.7,248.89 L97.2,249.4 L97.7,250.02 L98.2,250.75 L98.7,251.59 L99.2,252.54 L99.7,253.6 L100.2,254.77 L100.7,256.02 L101.2,257.36 L101.7,258.77 L102.2,260.24 L102.7,261.77 L103.2,263.34 L103.7,264.94 L104.2,266.58 L104.7,268.22 L105.2,269.87 L105.7,271.52 L106.2,273.16 L106.7,274.79 L107.2,276.43 L107.7,278.12 L108.2,279.87 L108.7,281.71 L109.2,283.67 L109.7,285.76 L110.2,288.02 L110.7,290.44 L111.2,292.98 L111.7,295.65 L112.2,298.41 L112.7,301.24 L113.2,304.14 L113.7,307.07 L114.2,310.02 L114.7,312.97 L115.2,315.9 L115.7,318.8 L116.2,321.63 L116.7,324.4 L117.2,327.11 L117.7,329.75 L118.2,332.34 L118.7,334.87 L119.2,337.35 L119.7,339.77 L120.2,342.14 L120.7,344.46 L121.2,346.74 L121.7,348.97 L122.2,351.16 L122.7,353.31 L123.2,355.42 L123.7,357.5 L123.7,358.6 Z" fill="url(#gpink1)"/>
<path d="M124.2,358.6 L124.2,359.54 L124.7,361.54 L125.2,363.51 L125.7,365.44 L126.2,367.34 L126.7,369.19 L127.2,371 L127.7,372.77 L128.2,374.5 L128.7,376.19 L129.2,377.83 L129.7,379.42 L130.2,380.96 L130.7,382.46 L131.2,383.91 L131.7,385.3 L132.2,386.64 L132.7,387.93 L133.2,389.17 L133.7,390.35 L134.2,391.47 L134.7,392.54 L135.2,393.54 L135.7,394.49 L136.2,395.37 L136.7,396.19 L137.2,396.95 L137.7,397.64 L138.2,398.27 L138.7,398.83 L139.2,399.32 L139.7,399.75 L140.2,400.11 L140.7,400.42 L141.2,400.67 L141.7,400.86 L142.2,401.01 L142.7,401.1 L143.2,401.14 L143.7,401.13 L144.2,401.08 L144.7,400.99 L145.2,400.86 L145.7,400.7 L146.2,400.49 L146.7,400.26 L147.2,399.99 L147.7,399.69 L148.2,399.37 L148.7,399.03 L149.2,398.66 L149.7,398.27 L150.2,397.87 L150.7,397.45 L151.2,397.01 L151.7,396.56 L152.2,396.09 L152.7,395.61 L153.2,395.12 L153.7,394.62 L154.2,394.1 L154.7,393.58 L155.2,393.04 L155.7,392.49 L156.2,391.93 L156.7,391.36 L157.2,390.79 L157.7,390.21 L158.2,389.62 L158.7,389.02 L159.2,388.42 L159.7,387.81 L160.2,387.2 L160.7,386.58 L161.2,385.96 L161.7,385.33 L162.2,384.7 L162.7,384.08 L163.2,383.45 L163.7,382.81 L164.2,382.18 L164.7,381.55 L165.2,380.92 L165.7,380.29 L166.2,379.66 L166.7,379.04 L167.2,378.42 L167.7,377.8 L168.2,377.19 L168.7,376.58 L169.2,375.97 L169.7,375.38 L170.2,374.79 L170.7,374.2 L171.2,373.63 L171.7,373.06 L172.2,372.5 L172.7,371.96 L173.2,371.42 L173.7,370.89 L174.2,370.37 L174.7,369.87 L175.2,369.38 L175.7,368.9 L176.2,368.43 L176.7,367.97 L177.2,367.53 L177.7,367.09 L178.2,366.67 L178.7,366.26 L179.2,365.86 L179.7,365.47 L180.2,365.1 L180.7,364.73 L181.2,364.37 L181.7,364.03 L182.2,363.69 L182.7,363.36 L183.2,363.05 L183.7,362.74 L184.2,362.44 L184.7,362.16 L185.2,361.88 L185.7,361.61 L186.2,361.35 L186.7,361.1 L187.2,360.85 L187.7,360.62 L188.2,360.39 L188.7,360.18 L189.2,359.97 L189.7,359.76 L190.2,359.57 L190.7,359.38 L191.2,359.2 L191.7,359.03 L192.2,358.87 L192.7,358.71 L193.2,358.6 L193.7,358.6 L194.2,358.6 L194.7,358.6 L195.2,358.6 L195.7,358.6 L196.2,358.6 L196.7,358.6 L197.2,358.6 L197.7,358.6 L198.2,358.6 L198.7,358.6 L199.2,358.6 L199.7,358.6 L200.2,358.6 L200.7,358.6 L201.2,358.6 L201.7,358.6 L202.2,358.6 L202.7,358.6 L203.2,358.6 L203.7,358.6 L204.2,358.6 L204.7,358.6 L205.2,358.6 L205.7,358.6 L206.2,358.6 L206.7,358.6 L207.2,358.6 L207.7,358.6 L208.2,358.6 L208.7,358.6 L209.2,358.6 L209.7,358.6 L210.2,358.6 L210.7,358.6 L211.2,358.6 L211.7,358.6 L212.2,358.6 L212.7,358.6 L213.2,358.6 L213.7,358.6 L214.2,358.6 L214.7,358.6 L215.2,358.6 L215.7,358.6 L216.2,358.6 L216.7,358.6 L217.2,358.6 L217.7,358.6 L218.2,358.6 L218.7,358.6 L219.2,358.6 L219.7,358.6 L220.2,358.6 L220.7,358.6 L221.2,358.6 L221.4,358.6 L221.4,358.6 Z" fill="url(#gpink2)"/>
<path d="M129.2,358.6 L129.2,358.5 L129.7,358.56 L130.2,358.6 L130.7,358.6 L131.2,358.59 L131.7,358.55 L132.2,358.49 L132.7,358.4 L133.2,358.29 L133.7,358.16 L134.2,358.01 L134.7,357.84 L135.2,357.65 L135.7,357.45 L136.2,357.23 L136.7,356.99 L137.2,356.74 L137.7,356.48 L138.2,356.21 L138.7,355.92 L139.2,355.63 L139.7,355.32 L140.2,355.01 L140.7,354.69 L141.2,354.36 L141.7,354.03 L142.2,353.69 L142.7,353.35 L143.2,353 L143.7,352.66 L144.2,352.32 L144.7,351.97 L145.2,351.63 L145.7,351.29 L146.2,350.95 L146.7,350.62 L147.2,350.29 L147.7,349.96 L148.2,349.64 L148.7,349.33 L149.2,349.02 L149.7,348.72 L150.2,348.42 L150.7,348.13 L151.2,347.84 L151.7,347.56 L152.2,347.28 L152.7,347.01 L153.2,346.75 L153.7,346.49 L154.2,346.24 L154.7,346 L155.2,345.76 L155.7,345.52 L156.2,345.3 L156.7,345.08 L157.2,344.86 L157.7,344.66 L158.2,344.46 L158.7,344.27 L159.2,344.08 L159.7,343.9 L160.2,343.73 L160.7,343.57 L161.2,343.42 L161.7,343.27 L162.2,343.13 L162.7,343 L163.2,342.87 L163.7,342.76 L164.2,342.65 L164.7,342.55 L165.2,342.46 L165.7,342.37 L166.2,342.3 L166.7,342.23 L167.2,342.17 L167.7,342.12 L168.2,342.08 L168.7,342.05 L169.2,342.02 L169.7,342 L170.2,341.99 L170.7,341.98 L171.2,341.99 L171.7,342 L172.2,342.01 L172.7,342.04 L173.2,342.07 L173.7,342.1 L174.2,342.15 L174.7,342.2 L175.2,342.25 L175.7,342.31 L176.2,342.38 L176.7,342.45 L177.2,342.53 L177.7,342.61 L178.2,342.7 L178.7,342.8 L179.2,342.9 L179.7,343 L180.2,343.11 L180.7,343.22 L181.2,343.34 L181.7,343.46 L182.2,343.59 L182.7,343.72 L183.2,343.85 L183.7,343.99 L184.2,344.13 L184.7,344.27 L185.2,344.42 L185.7,344.57 L186.2,344.73 L186.7,344.88 L187.2,345.04 L187.7,345.21 L188.2,345.37 L188.7,345.54 L189.2,345.71 L189.7,345.88 L190.2,346.06 L190.7,346.23 L191.2,346.41 L191.7,346.59 L192.2,346.77 L192.7,346.95 L193.2,347.13 L193.7,347.32 L194.2,347.5 L194.7,347.69 L195.2,347.88 L195.7,348.06 L196.2,348.25 L196.7,348.44 L197.2,348.63 L197.7,348.81 L198.2,349 L198.7,349.19 L199.2,349.37 L199.7,349.56 L200.2,349.75 L200.7,349.93 L201.2,350.11 L201.7,350.3 L202.2,350.48 L202.7,350.66 L203.2,350.83 L203.7,351.01 L204.2,351.19 L204.7,351.36 L205.2,351.53 L205.7,351.7 L206.2,351.86 L206.7,352.03 L207.2,352.19 L207.7,352.34 L208.2,352.5 L208.7,352.65 L209.2,352.8 L209.7,352.95 L210.2,353.09 L210.7,353.23 L211.2,353.36 L211.7,353.49 L212.2,353.62 L212.7,353.74 L213.2,353.86 L213.7,353.98 L214.2,354.09 L214.7,354.19 L215.2,354.29 L215.7,354.39 L216.2,354.48 L216.7,354.56 L217.2,354.64 L217.7,354.71 L218.2,354.78 L218.7,354.85 L219.2,354.9 L219.7,354.95 L220.2,355 L220.7,355.04 L221.2,355.07 L221.4,355.08 L221.4,358.6 Z" fill="url(#gblue)"/>
<line x1="124.9" y1="239.4" x2="124.9" y2="420.4" stroke="#b0b0b0" stroke-width="0.9" stroke-dasharray="2.2,1.3"/>
<line x1="50.5" y1="358.6" x2="221.3" y2="358.6" stroke="#999" stroke-width="1" />
<rect x="50.5" y="239.4" width="170.8" height="181" fill="none" stroke="#5c5c5c" stroke-width="1.05"/>
<line x1="50.6" y1="420.4" x2="50.6" y2="415.4" stroke="#5c5c5c" stroke-width="0.9" />
<line x1="93.3" y1="420.4" x2="93.3" y2="415.4" stroke="#5c5c5c" stroke-width="0.9" />
<line x1="136" y1="420.4" x2="136" y2="415.4" stroke="#5c5c5c" stroke-width="0.9" />
<line x1="178.7" y1="420.4" x2="178.7" y2="415.4" stroke="#5c5c5c" stroke-width="0.9" />
<line x1="221.4" y1="420.4" x2="221.4" y2="415.4" stroke="#5c5c5c" stroke-width="0.9" />
<line x1="59.14" y1="420.4" x2="59.14" y2="417.9" stroke="#5c5c5c" stroke-width="0.9" />
<line x1="67.68" y1="420.4" x2="67.68" y2="417.9" stroke="#5c5c5c" stroke-width="0.9" />
<line x1="76.22" y1="420.4" x2="76.22" y2="417.9" stroke="#5c5c5c" stroke-width="0.9" />
<line x1="84.76" y1="420.4" x2="84.76" y2="417.9" stroke="#5c5c5c" stroke-width="0.9" />
<line x1="101.84" y1="420.4" x2="101.84" y2="417.9" stroke="#5c5c5c" stroke-width="0.9" />
<line x1="110.38" y1="420.4" x2="110.38" y2="417.9" stroke="#5c5c5c" stroke-width="0.9" />
<line x1="118.92" y1="420.4" x2="118.92" y2="417.9" stroke="#5c5c5c" stroke-width="0.9" />
<line x1="127.46" y1="420.4" x2="127.46" y2="417.9" stroke="#5c5c5c" stroke-width="0.9" />
<line x1="144.54" y1="420.4" x2="144.54" y2="417.9" stroke="#5c5c5c" stroke-width="0.9" />
<line x1="153.08" y1="420.4" x2="153.08" y2="417.9" stroke="#5c5c5c" stroke-width="0.9" />
<line x1="161.62" y1="420.4" x2="161.62" y2="417.9" stroke="#5c5c5c" stroke-width="0.9" />
<line x1="170.16" y1="420.4" x2="170.16" y2="417.9" stroke="#5c5c5c" stroke-width="0.9" />
<line x1="187.24" y1="420.4" x2="187.24" y2="417.9" stroke="#5c5c5c" stroke-width="0.9" />
<line x1="195.78" y1="420.4" x2="195.78" y2="417.9" stroke="#5c5c5c" stroke-width="0.9" />
<line x1="204.32" y1="420.4" x2="204.32" y2="417.9" stroke="#5c5c5c" stroke-width="0.9" />
<line x1="212.86" y1="420.4" x2="212.86" y2="417.9" stroke="#5c5c5c" stroke-width="0.9" />
<line x1="50.5" y1="406.95" x2="55.5" y2="406.95" stroke="#5c5c5c" stroke-width="0.9" />
<line x1="50.5" y1="382.78" x2="55.5" y2="382.78" stroke="#5c5c5c" stroke-width="0.9" />
<line x1="50.5" y1="358.6" x2="55.5" y2="358.6" stroke="#5c5c5c" stroke-width="0.9" />
<line x1="50.5" y1="334.43" x2="55.5" y2="334.43" stroke="#5c5c5c" stroke-width="0.9" />
<line x1="50.5" y1="310.25" x2="55.5" y2="310.25" stroke="#5c5c5c" stroke-width="0.9" />
<line x1="50.5" y1="286.07" x2="55.5" y2="286.07" stroke="#5c5c5c" stroke-width="0.9" />
<line x1="50.5" y1="261.9" x2="55.5" y2="261.9" stroke="#5c5c5c" stroke-width="0.9" />
<line x1="50.5" y1="419.04" x2="53" y2="419.04" stroke="#5c5c5c" stroke-width="0.9" />
<line x1="50.5" y1="412.99" x2="53" y2="412.99" stroke="#5c5c5c" stroke-width="0.9" />
<line x1="50.5" y1="400.91" x2="53" y2="400.91" stroke="#5c5c5c" stroke-width="0.9" />
<line x1="50.5" y1="394.86" x2="53" y2="394.86" stroke="#5c5c5c" stroke-width="0.9" />
<line x1="50.5" y1="388.82" x2="53" y2="388.82" stroke="#5c5c5c" stroke-width="0.9" />
<line x1="50.5" y1="376.73" x2="53" y2="376.73" stroke="#5c5c5c" stroke-width="0.9" />
<line x1="50.5" y1="370.69" x2="53" y2="370.69" stroke="#5c5c5c" stroke-width="0.9" />
<line x1="50.5" y1="364.64" x2="53" y2="364.64" stroke="#5c5c5c" stroke-width="0.9" />
<line x1="50.5" y1="352.56" x2="53" y2="352.56" stroke="#5c5c5c" stroke-width="0.9" />
<line x1="50.5" y1="346.51" x2="53" y2="346.51" stroke="#5c5c5c" stroke-width="0.9" />
<line x1="50.5" y1="340.47" x2="53" y2="340.47" stroke="#5c5c5c" stroke-width="0.9" />
<line x1="50.5" y1="328.38" x2="53" y2="328.38" stroke="#5c5c5c" stroke-width="0.9" />
<line x1="50.5" y1="322.34" x2="53" y2="322.34" stroke="#5c5c5c" stroke-width="0.9" />
<line x1="50.5" y1="316.29" x2="53" y2="316.29" stroke="#5c5c5c" stroke-width="0.9" />
<line x1="50.5" y1="304.21" x2="53" y2="304.21" stroke="#5c5c5c" stroke-width="0.9" />
<line x1="50.5" y1="298.16" x2="53" y2="298.16" stroke="#5c5c5c" stroke-width="0.9" />
<line x1="50.5" y1="292.12" x2="53" y2="292.12" stroke="#5c5c5c" stroke-width="0.9" />
<line x1="50.5" y1="280.03" x2="53" y2="280.03" stroke="#5c5c5c" stroke-width="0.9" />
<line x1="50.5" y1="273.99" x2="53" y2="273.99" stroke="#5c5c5c" stroke-width="0.9" />
<line x1="50.5" y1="267.94" x2="53" y2="267.94" stroke="#5c5c5c" stroke-width="0.9" />
<line x1="50.5" y1="255.86" x2="53" y2="255.86" stroke="#5c5c5c" stroke-width="0.9" />
<line x1="50.5" y1="249.81" x2="53" y2="249.81" stroke="#5c5c5c" stroke-width="0.9" />
<line x1="50.5" y1="243.77" x2="53" y2="243.77" stroke="#5c5c5c" stroke-width="0.9" />
<text x="50.6" y="434" font-size="11" text-anchor="middle" fill="#383838" >5</text>
<text x="93.3" y="434" font-size="11" text-anchor="middle" fill="#383838" >10</text>
<text x="136" y="434" font-size="11" text-anchor="middle" fill="#383838" >15</text>
<text x="178.7" y="434" font-size="11" text-anchor="middle" fill="#383838" >20</text>
<text x="221.4" y="434" font-size="11" text-anchor="middle" fill="#383838" >25</text>
<text x="46" y="410.85" font-size="11" text-anchor="end" fill="#383838" >−0.04</text>
<text x="46" y="386.68" font-size="11" text-anchor="end" fill="#383838" >−0.02</text>
<text x="46" y="362.5" font-size="11" text-anchor="end" fill="#383838" >0.00</text>
<text x="46" y="338.32" font-size="11" text-anchor="end" fill="#383838" >0.02</text>
<text x="46" y="314.15" font-size="11" text-anchor="end" fill="#383838" >0.04</text>
<text x="46" y="289.97" font-size="11" text-anchor="end" fill="#383838" >0.06</text>
<text x="46" y="265.8" font-size="11" text-anchor="end" fill="#383838" >0.08</text>
<text x="135.9" y="452" font-size="11" text-anchor="middle" fill="#383838" >Scattering vector, <tspan font-style="italic">q</tspan> (μm<tspan baseline-shift="super" font-size="8">−1</tspan>)</text>
<text x="0" y="0" font-size="11" text-anchor="middle" fill="#383838" transform="translate(8.8,330.2) rotate(-90)">Difference intensity (arb. units)</text>
<text x="0" y="243.5" font-size="16" text-anchor="start" fill="#000" font-weight="bold">c</text>
<g clip-path="url(#cc)">
<path d="M50.7,354.6 L51.2,354.11 L51.7,353.6 L52.2,353.08 L52.7,352.55 L53.2,352 L53.7,351.44 L54.2,350.86 L54.7,350.26 L55.2,349.64 L55.7,349 L56.2,348.34 L56.7,347.65 L57.2,346.94 L57.7,346.21 L58.2,345.44 L58.7,344.65 L59.2,343.83 L59.7,342.98 L60.2,342.1 L60.7,341.19 L61.2,340.24 L61.7,339.26 L62.2,338.24 L62.7,337.18 L63.2,336.09 L63.7,334.95 L64.2,333.77 L64.7,332.56 L65.2,331.29 L65.7,329.99 L66.2,328.64 L66.7,327.25 L67.2,325.82 L67.7,324.36 L68.2,322.86 L68.7,321.33 L69.2,319.77 L69.7,318.19 L70.2,316.59 L70.7,314.96 L71.2,313.32 L71.7,311.66 L72.2,309.99 L72.7,308.3 L73.2,306.61 L73.7,304.92 L74.2,303.22 L74.7,301.52 L75.2,299.83 L75.7,298.13 L76.2,296.41 L76.7,294.66 L77.2,292.85 L77.7,290.97 L78.2,289 L78.7,286.91 L79.2,284.7 L79.7,282.37 L80.2,279.98 L80.7,277.6 L81.2,275.29 L81.7,273.1 L82.2,271.06 L82.7,269.14 L83.2,267.34 L83.7,265.63 L84.2,264.01 L84.7,262.48 L85.2,261.03 L85.7,259.67 L86.2,258.38 L86.7,257.17 L87.2,256.04 L87.7,254.98 L88.2,253.99 L88.7,253.07 L89.2,252.22 L89.7,251.44 L90.2,250.73 L90.7,250.09 L91.2,249.52 L91.7,249.03 L92.2,248.62 L92.7,248.29 L93.2,248.05 L93.7,247.89 L94.2,247.82 L94.7,247.84 L95.2,247.96 L95.7,248.17 L96.2,248.48 L96.7,248.89 L97.2,249.4 L97.7,250.02 L98.2,250.75 L98.7,251.59 L99.2,252.54 L99.7,253.6 L100.2,254.77 L100.7,256.02 L101.2,257.36 L101.7,258.77 L102.2,260.24 L102.7,261.77 L103.2,263.34 L103.7,264.94 L104.2,266.58 L104.7,268.22 L105.2,269.87 L105.7,271.52 L106.2,273.16 L106.7,274.79 L107.2,276.43 L107.7,278.12 L108.2,279.87 L108.7,281.71 L109.2,283.67 L109.7,285.76 L110.2,288.02 L110.7,290.44 L111.2,292.98 L111.7,295.65 L112.2,298.41 L112.7,301.24 L113.2,304.14 L113.7,307.07 L114.2,310.02 L114.7,312.97 L115.2,315.9 L115.7,318.8 L116.2,321.63 L116.7,324.4 L117.2,327.11 L117.7,329.75 L118.2,332.34 L118.7,334.87 L119.2,337.35 L119.7,339.77 L120.2,342.14 L120.7,344.46 L121.2,346.74 L121.7,348.97 L122.2,351.16 L122.7,353.31 L123.2,355.42 L123.7,357.5 L124.2,359.54 L124.7,361.54 L125.2,363.51 L125.7,365.44 L126.2,367.34 L126.7,369.19 L127.2,371 L127.7,372.77 L128.2,374.5 L128.7,376.19 L129.2,377.83 L129.7,379.42 L130.2,380.96 L130.7,382.46 L131.2,383.91 L131.7,385.3 L132.2,386.64 L132.7,387.93 L133.2,389.17 L133.7,390.35 L134.2,391.47 L134.7,392.54 L135.2,393.54 L135.7,394.49 L136.2,395.37 L136.7,396.19 L137.2,396.95 L137.7,397.64 L138.2,398.27 L138.7,398.83 L139.2,399.32 L139.7,399.75 L140.2,400.11 L140.7,400.42 L141.2,400.67 L141.7,400.86 L142.2,401.01 L142.7,401.1 L143.2,401.14 L143.7,401.13 L144.2,401.08 L144.7,400.99 L145.2,400.86 L145.7,400.7 L146.2,400.49 L146.7,400.26 L147.2,399.99 L147.7,399.69 L148.2,399.37 L148.7,399.03 L149.2,398.66 L149.7,398.27 L150.2,397.87 L150.7,397.45 L151.2,397.01 L151.7,396.56 L152.2,396.09 L152.7,395.61 L153.2,395.12 L153.7,394.62 L154.2,394.1 L154.7,393.58 L155.2,393.04 L155.7,392.49 L156.2,391.93 L156.7,391.36 L157.2,390.79 L157.7,390.21 L158.2,389.62 L158.7,389.02 L159.2,388.42 L159.7,387.81 L160.2,387.2 L160.7,386.58 L161.2,385.96 L161.7,385.33 L162.2,384.7 L162.7,384.08 L163.2,383.45 L163.7,382.81 L164.2,382.18 L164.7,381.55 L165.2,380.92 L165.7,380.29 L166.2,379.66 L166.7,379.04 L167.2,378.42 L167.7,377.8 L168.2,377.19 L168.7,376.58 L169.2,375.97 L169.7,375.38 L170.2,374.79 L170.7,374.2 L171.2,373.63 L171.7,373.06 L172.2,372.5 L172.7,371.96 L173.2,371.42 L173.7,370.89 L174.2,370.37 L174.7,369.87 L175.2,369.38 L175.7,368.9 L176.2,368.43 L176.7,367.97 L177.2,367.53 L177.7,367.09 L178.2,366.67 L178.7,366.26 L179.2,365.86 L179.7,365.47 L180.2,365.1 L180.7,364.73 L181.2,364.37 L181.7,364.03 L182.2,363.69 L182.7,363.36 L183.2,363.05 L183.7,362.74 L184.2,362.44 L184.7,362.16 L185.2,361.88 L185.7,361.61 L186.2,361.35 L186.7,361.1 L187.2,360.85 L187.7,360.62 L188.2,360.39 L188.7,360.18 L189.2,359.97 L189.7,359.76 L190.2,359.57 L190.7,359.38 L191.2,359.2 L191.7,359.03 L192.2,358.87 L192.7,358.71 L193.2,358.56 L193.7,358.42 L194.2,358.28 L194.7,358.15 L195.2,358.02 L195.7,357.9 L196.2,357.79 L196.7,357.68 L197.2,357.58 L197.7,357.49 L198.2,357.4 L198.7,357.31 L199.2,357.23 L199.7,357.15 L200.2,357.08 L200.7,357.02 L201.2,356.96 L201.7,356.9 L202.2,356.85 L202.7,356.8 L203.2,356.75 L203.7,356.71 L204.2,356.67 L204.7,356.64 L205.2,356.6 L205.7,356.58 L206.2,356.55 L206.7,356.53 L207.2,356.51 L207.7,356.49 L208.2,356.47 L208.7,356.46 L209.2,356.45 L209.7,356.44 L210.2,356.43 L210.7,356.43 L211.2,356.42 L211.7,356.42 L212.2,356.41 L212.7,356.41 L213.2,356.41 L213.7,356.41 L214.2,356.41 L214.7,356.41 L215.2,356.42 L215.7,356.42 L216.2,356.42 L216.7,356.42 L217.2,356.42 L217.7,356.42 L218.2,356.42 L218.7,356.42 L219.2,356.41 L219.7,356.41 L220.2,356.41 L220.7,356.4 L221.2,356.39 L221.4,356.39" fill="none" stroke="#d9363e" stroke-width="1.6" stroke-linejoin="round" stroke-linecap="round" />
<path d="M50.7,357.81 L51.2,357.65 L51.7,357.48 L52.2,357.3 L52.7,357.11 L53.2,356.9 L53.7,356.68 L54.2,356.45 L54.7,356.21 L55.2,355.95 L55.7,355.69 L56.2,355.41 L56.7,355.13 L57.2,354.83 L57.7,354.53 L58.2,354.22 L58.7,353.9 L59.2,353.57 L59.7,353.23 L60.2,352.88 L60.7,352.53 L61.2,352.17 L61.7,351.81 L62.2,351.43 L62.7,351.06 L63.2,350.67 L63.7,350.29 L64.2,349.89 L64.7,349.5 L65.2,349.1 L65.7,348.7 L66.2,348.29 L66.7,347.88 L67.2,347.47 L67.7,347.05 L68.2,346.64 L68.7,346.22 L69.2,345.81 L69.7,345.39 L70.2,344.97 L70.7,344.55 L71.2,344.14 L71.7,343.72 L72.2,343.31 L72.7,342.89 L73.2,342.48 L73.7,342.07 L74.2,341.67 L74.7,341.27 L75.2,340.87 L75.7,340.47 L76.2,340.08 L76.7,339.7 L77.2,339.32 L77.7,338.94 L78.2,338.57 L78.7,338.21 L79.2,337.85 L79.7,337.5 L80.2,337.16 L80.7,336.82 L81.2,336.49 L81.7,336.18 L82.2,335.87 L82.7,335.56 L83.2,335.27 L83.7,334.99 L84.2,334.72 L84.7,334.46 L85.2,334.21 L85.7,333.97 L86.2,333.74 L86.7,333.53 L87.2,333.32 L87.7,333.13 L88.2,332.96 L88.7,332.79 L89.2,332.64 L89.7,332.51 L90.2,332.39 L90.7,332.28 L91.2,332.19 L91.7,332.12 L92.2,332.06 L92.7,332.01 L93.2,331.99 L93.7,331.98 L94.2,331.99 L94.7,332.02 L95.2,332.06 L95.7,332.13 L96.2,332.21 L96.7,332.31 L97.2,332.43 L97.7,332.58 L98.2,332.74 L98.7,332.92 L99.2,333.13 L99.7,333.36 L100.2,333.6 L100.7,333.87 L101.2,334.17 L101.7,334.48 L102.2,334.82 L102.7,335.18 L103.2,335.55 L103.7,335.95 L104.2,336.36 L104.7,336.79 L105.2,337.23 L105.7,337.69 L106.2,338.16 L106.7,338.65 L107.2,339.14 L107.7,339.65 L108.2,340.17 L108.7,340.69 L109.2,341.23 L109.7,341.77 L110.2,342.31 L110.7,342.87 L111.2,343.42 L111.7,343.98 L112.2,344.55 L112.7,345.11 L113.2,345.68 L113.7,346.24 L114.2,346.81 L114.7,347.37 L115.2,347.92 L115.7,348.48 L116.2,349.03 L116.7,349.57 L117.2,350.11 L117.7,350.64 L118.2,351.16 L118.7,351.67 L119.2,352.17 L119.7,352.65 L120.2,353.13 L120.7,353.59 L121.2,354.04 L121.7,354.47 L122.2,354.89 L122.7,355.29 L123.2,355.67 L123.7,356.03 L124.2,356.37 L124.7,356.7 L125.2,357 L125.7,357.27 L126.2,357.53 L126.7,357.76 L127.2,357.96 L127.7,358.14 L128.2,358.29 L128.7,358.41 L129.2,358.5 L129.7,358.56 L130.2,358.6 L130.7,358.61 L131.2,358.59 L131.7,358.55 L132.2,358.49 L132.7,358.4 L133.2,358.29 L133.7,358.16 L134.2,358.01 L134.7,357.84 L135.2,357.65 L135.7,357.45 L136.2,357.23 L136.7,356.99 L137.2,356.74 L137.7,356.48 L138.2,356.21 L138.7,355.92 L139.2,355.63 L139.7,355.32 L140.2,355.01 L140.7,354.69 L141.2,354.36 L141.7,354.03 L142.2,353.69 L142.7,353.35 L143.2,353 L143.7,352.66 L144.2,352.32 L144.7,351.97 L145.2,351.63 L145.7,351.29 L146.2,350.95 L146.7,350.62 L147.2,350.29 L147.7,349.96 L148.2,349.64 L148.7,349.33 L149.2,349.02 L149.7,348.72 L150.2,348.42 L150.7,348.13 L151.2,347.84 L151.7,347.56 L152.2,347.28 L152.7,347.01 L153.2,346.75 L153.7,346.49 L154.2,346.24 L154.7,346 L155.2,345.76 L155.7,345.52 L156.2,345.3 L156.7,345.08 L157.2,344.86 L157.7,344.66 L158.2,344.46 L158.7,344.27 L159.2,344.08 L159.7,343.9 L160.2,343.73 L160.7,343.57 L161.2,343.42 L161.7,343.27 L162.2,343.13 L162.7,343 L163.2,342.87 L163.7,342.76 L164.2,342.65 L164.7,342.55 L165.2,342.46 L165.7,342.37 L166.2,342.3 L166.7,342.23 L167.2,342.17 L167.7,342.12 L168.2,342.08 L168.7,342.05 L169.2,342.02 L169.7,342 L170.2,341.99 L170.7,341.98 L171.2,341.99 L171.7,342 L172.2,342.01 L172.7,342.04 L173.2,342.07 L173.7,342.1 L174.2,342.15 L174.7,342.2 L175.2,342.25 L175.7,342.31 L176.2,342.38 L176.7,342.45 L177.2,342.53 L177.7,342.61 L178.2,342.7 L178.7,342.8 L179.2,342.9 L179.7,343 L180.2,343.11 L180.7,343.22 L181.2,343.34 L181.7,343.46 L182.2,343.59 L182.7,343.72 L183.2,343.85 L183.7,343.99 L184.2,344.13 L184.7,344.27 L185.2,344.42 L185.7,344.57 L186.2,344.73 L186.7,344.88 L187.2,345.04 L187.7,345.21 L188.2,345.37 L188.7,345.54 L189.2,345.71 L189.7,345.88 L190.2,346.06 L190.7,346.23 L191.2,346.41 L191.7,346.59 L192.2,346.77 L192.7,346.95 L193.2,347.13 L193.7,347.32 L194.2,347.5 L194.7,347.69 L195.2,347.88 L195.7,348.06 L196.2,348.25 L196.7,348.44 L197.2,348.63 L197.7,348.81 L198.2,349 L198.7,349.19 L199.2,349.37 L199.7,349.56 L200.2,349.75 L200.7,349.93 L201.2,350.11 L201.7,350.3 L202.2,350.48 L202.7,350.66 L203.2,350.83 L203.7,351.01 L204.2,351.19 L204.7,351.36 L205.2,351.53 L205.7,351.7 L206.2,351.86 L206.7,352.03 L207.2,352.19 L207.7,352.34 L208.2,352.5 L208.7,352.65 L209.2,352.8 L209.7,352.95 L210.2,353.09 L210.7,353.23 L211.2,353.36 L211.7,353.49 L212.2,353.62 L212.7,353.74 L213.2,353.86 L213.7,353.98 L214.2,354.09 L214.7,354.19 L215.2,354.29 L215.7,354.39 L216.2,354.48 L216.7,354.56 L217.2,354.64 L217.7,354.71 L218.2,354.78 L218.7,354.85 L219.2,354.9 L219.7,354.95 L220.2,355 L220.7,355.04 L221.2,355.07 L221.4,355.08" fill="none" stroke="#2f80c0" stroke-width="1.6" stroke-linejoin="round" stroke-linecap="round" />
<circle cx="95.1" cy="340.3" r="2.05" fill="rgba(58,139,203,0.5)" stroke="#3a8bcb" stroke-width="1.15" stroke-opacity="0.95"/><circle cx="97.7" cy="341.8" r="2.05" fill="rgba(58,139,203,0.5)" stroke="#3a8bcb" stroke-width="1.15" stroke-opacity="0.95"/><circle cx="100.5" cy="346.9" r="2.05" fill="rgba(58,139,203,0.5)" stroke="#3a8bcb" stroke-width="1.15" stroke-opacity="0.95"/><circle cx="103.1" cy="344.6" r="2.05" fill="rgba(58,139,203,0.5)" stroke="#3a8bcb" stroke-width="1.15" stroke-opacity="0.95"/><circle cx="106.2" cy="340.3" r="2.05" fill="rgba(58,139,203,0.5)" stroke="#3a8bcb" stroke-width="1.15" stroke-opacity="0.95"/><circle cx="108.5" cy="338.5" r="2.05" fill="rgba(58,139,203,0.5)" stroke="#3a8bcb" stroke-width="1.15" stroke-opacity="0.95"/><circle cx="111.1" cy="345.4" r="2.05" fill="rgba(58,139,203,0.5)" stroke="#3a8bcb" stroke-width="1.15" stroke-opacity="0.95"/><circle cx="113.1" cy="350.8" r="2.05" fill="rgba(58,139,203,0.5)" stroke="#3a8bcb" stroke-width="1.15" stroke-opacity="0.95"/><circle cx="115.8" cy="356.2" r="2.05" fill="rgba(58,139,203,0.5)" stroke="#3a8bcb" stroke-width="1.15" stroke-opacity="0.95"/><circle cx="118.2" cy="353.8" r="2.05" fill="rgba(58,139,203,0.5)" stroke="#3a8bcb" stroke-width="1.15" stroke-opacity="0.95"/><circle cx="121.1" cy="353.1" r="2.05" fill="rgba(58,139,203,0.5)" stroke="#3a8bcb" stroke-width="1.15" stroke-opacity="0.95"/><circle cx="123.5" cy="351.6" r="2.05" fill="rgba(58,139,203,0.5)" stroke="#3a8bcb" stroke-width="1.15" stroke-opacity="0.95"/><circle cx="126.2" cy="346" r="2.05" fill="rgba(58,139,203,0.5)" stroke="#3a8bcb" stroke-width="1.15" stroke-opacity="0.95"/><circle cx="128.8" cy="348.1" r="2.05" fill="rgba(58,139,203,0.5)" stroke="#3a8bcb" stroke-width="1.15" stroke-opacity="0.95"/><circle cx="131.4" cy="351.7" r="2.05" fill="rgba(58,139,203,0.5)" stroke="#3a8bcb" stroke-width="1.15" stroke-opacity="0.95"/><circle cx="134.1" cy="352.5" r="2.05" fill="rgba(58,139,203,0.5)" stroke="#3a8bcb" stroke-width="1.15" stroke-opacity="0.95"/><circle cx="136.7" cy="350.2" r="2.05" fill="rgba(58,139,203,0.5)" stroke="#3a8bcb" stroke-width="1.15" stroke-opacity="0.95"/><circle cx="139.3" cy="351.3" r="2.05" fill="rgba(58,139,203,0.5)" stroke="#3a8bcb" stroke-width="1.15" stroke-opacity="0.95"/><circle cx="142" cy="347.3" r="2.05" fill="rgba(58,139,203,0.5)" stroke="#3a8bcb" stroke-width="1.15" stroke-opacity="0.95"/><circle cx="144.6" cy="346.4" r="2.05" fill="rgba(58,139,203,0.5)" stroke="#3a8bcb" stroke-width="1.15" stroke-opacity="0.95"/><circle cx="148.1" cy="347.3" r="2.05" fill="rgba(58,139,203,0.5)" stroke="#3a8bcb" stroke-width="1.15" stroke-opacity="0.95"/><circle cx="150.8" cy="346.4" r="2.05" fill="rgba(58,139,203,0.5)" stroke="#3a8bcb" stroke-width="1.15" stroke-opacity="0.95"/><circle cx="154.3" cy="344.6" r="2.05" fill="rgba(58,139,203,0.5)" stroke="#3a8bcb" stroke-width="1.15" stroke-opacity="0.95"/><circle cx="156.9" cy="343.2" r="2.05" fill="rgba(58,139,203,0.5)" stroke="#3a8bcb" stroke-width="1.15" stroke-opacity="0.95"/><circle cx="159.6" cy="339.7" r="2.05" fill="rgba(58,139,203,0.5)" stroke="#3a8bcb" stroke-width="1.15" stroke-opacity="0.95"/><circle cx="162.2" cy="337.6" r="2.05" fill="rgba(58,139,203,0.5)" stroke="#3a8bcb" stroke-width="1.15" stroke-opacity="0.95"/><circle cx="164.8" cy="335" r="2.05" fill="rgba(58,139,203,0.5)" stroke="#3a8bcb" stroke-width="1.15" stroke-opacity="0.95"/><circle cx="167.5" cy="338.5" r="2.05" fill="rgba(58,139,203,0.5)" stroke="#3a8bcb" stroke-width="1.15" stroke-opacity="0.95"/><circle cx="169.6" cy="342" r="2.05" fill="rgba(58,139,203,0.5)" stroke="#3a8bcb" stroke-width="1.15" stroke-opacity="0.95"/><circle cx="172.4" cy="339.7" r="2.05" fill="rgba(58,139,203,0.5)" stroke="#3a8bcb" stroke-width="1.15" stroke-opacity="0.95"/><circle cx="175.4" cy="340.8" r="2.05" fill="rgba(58,139,203,0.5)" stroke="#3a8bcb" stroke-width="1.15" stroke-opacity="0.95"/><circle cx="178" cy="342" r="2.05" fill="rgba(58,139,203,0.5)" stroke="#3a8bcb" stroke-width="1.15" stroke-opacity="0.95"/><circle cx="180.7" cy="340.8" r="2.05" fill="rgba(58,139,203,0.5)" stroke="#3a8bcb" stroke-width="1.15" stroke-opacity="0.95"/><circle cx="183.3" cy="342" r="2.05" fill="rgba(58,139,203,0.5)" stroke="#3a8bcb" stroke-width="1.15" stroke-opacity="0.95"/><circle cx="186" cy="343.7" r="2.05" fill="rgba(58,139,203,0.5)" stroke="#3a8bcb" stroke-width="1.15" stroke-opacity="0.95"/><circle cx="188.6" cy="344.3" r="2.05" fill="rgba(58,139,203,0.5)" stroke="#3a8bcb" stroke-width="1.15" stroke-opacity="0.95"/><circle cx="191.8" cy="343.7" r="2.05" fill="rgba(58,139,203,0.5)" stroke="#3a8bcb" stroke-width="1.15" stroke-opacity="0.95"/><circle cx="194.7" cy="344.6" r="2.05" fill="rgba(58,139,203,0.5)" stroke="#3a8bcb" stroke-width="1.15" stroke-opacity="0.95"/><circle cx="197.4" cy="344.6" r="2.05" fill="rgba(58,139,203,0.5)" stroke="#3a8bcb" stroke-width="1.15" stroke-opacity="0.95"/><circle cx="200" cy="343.7" r="2.05" fill="rgba(58,139,203,0.5)" stroke="#3a8bcb" stroke-width="1.15" stroke-opacity="0.95"/><circle cx="202.7" cy="342.9" r="2.05" fill="rgba(58,139,203,0.5)" stroke="#3a8bcb" stroke-width="1.15" stroke-opacity="0.95"/><circle cx="205.3" cy="345.5" r="2.05" fill="rgba(58,139,203,0.5)" stroke="#3a8bcb" stroke-width="1.15" stroke-opacity="0.95"/><circle cx="207.9" cy="346.4" r="2.05" fill="rgba(58,139,203,0.5)" stroke="#3a8bcb" stroke-width="1.15" stroke-opacity="0.95"/><circle cx="210.6" cy="347.3" r="2.05" fill="rgba(58,139,203,0.5)" stroke="#3a8bcb" stroke-width="1.15" stroke-opacity="0.95"/><circle cx="213.2" cy="348.5" r="2.05" fill="rgba(58,139,203,0.5)" stroke="#3a8bcb" stroke-width="1.15" stroke-opacity="0.95"/><circle cx="215.9" cy="349.9" r="2.05" fill="rgba(58,139,203,0.5)" stroke="#3a8bcb" stroke-width="1.15" stroke-opacity="0.95"/><circle cx="218.5" cy="350.8" r="2.05" fill="rgba(58,139,203,0.5)" stroke="#3a8bcb" stroke-width="1.15" stroke-opacity="0.95"/><circle cx="221.1" cy="351.7" r="2.05" fill="rgba(58,139,203,0.5)" stroke="#3a8bcb" stroke-width="1.15" stroke-opacity="0.95"/>
<circle cx="95.4" cy="318.5" r="2.05" fill="rgba(223,74,82,0.5)" stroke="#df4a52" stroke-width="1.15" stroke-opacity="0.95"/><circle cx="98" cy="313.5" r="2.05" fill="rgba(223,74,82,0.5)" stroke="#df4a52" stroke-width="1.15" stroke-opacity="0.95"/><circle cx="100.8" cy="310" r="2.05" fill="rgba(223,74,82,0.5)" stroke="#df4a52" stroke-width="1.15" stroke-opacity="0.95"/><circle cx="103.1" cy="304.6" r="2.05" fill="rgba(223,74,82,0.5)" stroke="#df4a52" stroke-width="1.15" stroke-opacity="0.95"/><circle cx="106.2" cy="300.8" r="2.05" fill="rgba(223,74,82,0.5)" stroke="#df4a52" stroke-width="1.15" stroke-opacity="0.95"/><circle cx="108.2" cy="301.8" r="2.05" fill="rgba(223,74,82,0.5)" stroke="#df4a52" stroke-width="1.15" stroke-opacity="0.95"/><circle cx="110.8" cy="317.2" r="2.05" fill="rgba(223,74,82,0.5)" stroke="#df4a52" stroke-width="1.15" stroke-opacity="0.95"/><circle cx="113.1" cy="323.4" r="2.05" fill="rgba(223,74,82,0.5)" stroke="#df4a52" stroke-width="1.15" stroke-opacity="0.95"/><circle cx="115.8" cy="337.2" r="2.05" fill="rgba(223,74,82,0.5)" stroke="#df4a52" stroke-width="1.15" stroke-opacity="0.95"/><circle cx="118.5" cy="346.2" r="2.05" fill="rgba(223,74,82,0.5)" stroke="#df4a52" stroke-width="1.15" stroke-opacity="0.95"/><circle cx="123.3" cy="361.3" r="2.05" fill="rgba(223,74,82,0.5)" stroke="#df4a52" stroke-width="1.15" stroke-opacity="0.95"/><circle cx="125.9" cy="371.2" r="2.05" fill="rgba(223,74,82,0.5)" stroke="#df4a52" stroke-width="1.15" stroke-opacity="0.95"/><circle cx="128.6" cy="383.2" r="2.05" fill="rgba(223,74,82,0.5)" stroke="#df4a52" stroke-width="1.15" stroke-opacity="0.95"/><circle cx="131.2" cy="391.7" r="2.05" fill="rgba(223,74,82,0.5)" stroke="#df4a52" stroke-width="1.15" stroke-opacity="0.95"/><circle cx="133.7" cy="399.2" r="2.05" fill="rgba(223,74,82,0.5)" stroke="#df4a52" stroke-width="1.15" stroke-opacity="0.95"/><circle cx="136" cy="407.6" r="2.05" fill="rgba(223,74,82,0.5)" stroke="#df4a52" stroke-width="1.15" stroke-opacity="0.95"/><circle cx="138.9" cy="412.6" r="2.05" fill="rgba(223,74,82,0.5)" stroke="#df4a52" stroke-width="1.15" stroke-opacity="0.95"/><circle cx="141.6" cy="409.1" r="2.05" fill="rgba(223,74,82,0.5)" stroke="#df4a52" stroke-width="1.15" stroke-opacity="0.95"/><circle cx="144.2" cy="410.3" r="2.05" fill="rgba(223,74,82,0.5)" stroke="#df4a52" stroke-width="1.15" stroke-opacity="0.95"/><circle cx="146.5" cy="406.2" r="2.05" fill="rgba(223,74,82,0.5)" stroke="#df4a52" stroke-width="1.15" stroke-opacity="0.95"/><circle cx="149.1" cy="408" r="2.05" fill="rgba(223,74,82,0.5)" stroke="#df4a52" stroke-width="1.15" stroke-opacity="0.95"/><circle cx="151.8" cy="405" r="2.05" fill="rgba(223,74,82,0.5)" stroke="#df4a52" stroke-width="1.15" stroke-opacity="0.95"/><circle cx="154.1" cy="404.5" r="2.05" fill="rgba(223,74,82,0.5)" stroke="#df4a52" stroke-width="1.15" stroke-opacity="0.95"/><circle cx="156.8" cy="407.1" r="2.05" fill="rgba(223,74,82,0.5)" stroke="#df4a52" stroke-width="1.15" stroke-opacity="0.95"/><circle cx="159.1" cy="401.3" r="2.05" fill="rgba(223,74,82,0.5)" stroke="#df4a52" stroke-width="1.15" stroke-opacity="0.95"/><circle cx="161.7" cy="395.7" r="2.05" fill="rgba(223,74,82,0.5)" stroke="#df4a52" stroke-width="1.15" stroke-opacity="0.95"/><circle cx="164.6" cy="395.5" r="2.05" fill="rgba(223,74,82,0.5)" stroke="#df4a52" stroke-width="1.15" stroke-opacity="0.95"/><circle cx="167.3" cy="395.1" r="2.05" fill="rgba(223,74,82,0.5)" stroke="#df4a52" stroke-width="1.15" stroke-opacity="0.95"/><circle cx="169.7" cy="395.5" r="2.05" fill="rgba(223,74,82,0.5)" stroke="#df4a52" stroke-width="1.15" stroke-opacity="0.95"/><circle cx="172" cy="399.2" r="2.05" fill="rgba(223,74,82,0.5)" stroke="#df4a52" stroke-width="1.15" stroke-opacity="0.95"/><circle cx="174.8" cy="397.7" r="2.05" fill="rgba(223,74,82,0.5)" stroke="#df4a52" stroke-width="1.15" stroke-opacity="0.95"/><circle cx="177.5" cy="397.4" r="2.05" fill="rgba(223,74,82,0.5)" stroke="#df4a52" stroke-width="1.15" stroke-opacity="0.95"/><circle cx="179.8" cy="393.4" r="2.05" fill="rgba(223,74,82,0.5)" stroke="#df4a52" stroke-width="1.15" stroke-opacity="0.95"/><circle cx="182.5" cy="389.9" r="2.05" fill="rgba(223,74,82,0.5)" stroke="#df4a52" stroke-width="1.15" stroke-opacity="0.95"/><circle cx="184.8" cy="387.5" r="2.05" fill="rgba(223,74,82,0.5)" stroke="#df4a52" stroke-width="1.15" stroke-opacity="0.95"/><circle cx="187.4" cy="385" r="2.05" fill="rgba(223,74,82,0.5)" stroke="#df4a52" stroke-width="1.15" stroke-opacity="0.95"/><circle cx="190.2" cy="382.5" r="2.05" fill="rgba(223,74,82,0.5)" stroke="#df4a52" stroke-width="1.15" stroke-opacity="0.95"/><circle cx="192.8" cy="381.5" r="2.05" fill="rgba(223,74,82,0.5)" stroke="#df4a52" stroke-width="1.15" stroke-opacity="0.95"/><circle cx="195.6" cy="380.7" r="2.05" fill="rgba(223,74,82,0.5)" stroke="#df4a52" stroke-width="1.15" stroke-opacity="0.95"/><circle cx="198.3" cy="377.7" r="2.05" fill="rgba(223,74,82,0.5)" stroke="#df4a52" stroke-width="1.15" stroke-opacity="0.95"/><circle cx="200.9" cy="374.5" r="2.05" fill="rgba(223,74,82,0.5)" stroke="#df4a52" stroke-width="1.15" stroke-opacity="0.95"/><circle cx="203.5" cy="371.9" r="2.05" fill="rgba(223,74,82,0.5)" stroke="#df4a52" stroke-width="1.15" stroke-opacity="0.95"/><circle cx="206.2" cy="370.1" r="2.05" fill="rgba(223,74,82,0.5)" stroke="#df4a52" stroke-width="1.15" stroke-opacity="0.95"/><circle cx="208.8" cy="368.4" r="2.05" fill="rgba(223,74,82,0.5)" stroke="#df4a52" stroke-width="1.15" stroke-opacity="0.95"/><circle cx="211.5" cy="366.1" r="2.05" fill="rgba(223,74,82,0.5)" stroke="#df4a52" stroke-width="1.15" stroke-opacity="0.95"/><circle cx="215" cy="364" r="2.05" fill="rgba(223,74,82,0.5)" stroke="#df4a52" stroke-width="1.15" stroke-opacity="0.95"/><circle cx="217.6" cy="362.2" r="2.05" fill="rgba(223,74,82,0.5)" stroke="#df4a52" stroke-width="1.15" stroke-opacity="0.95"/><circle cx="220.2" cy="360.8" r="2.05" fill="rgba(223,74,82,0.5)" stroke="#df4a52" stroke-width="1.15" stroke-opacity="0.95"/>
</g>
<line x1="297.8" y1="240" x2="297.8" y2="421.3" stroke="#8c8c8c" stroke-width="0.9" stroke-dasharray="2.2,1.3"/>
<line x1="297.8" y1="262.5" x2="453.2" y2="262.5" stroke="#909090" stroke-width="0.85" stroke-dasharray="2.6,0.6,2.6,1.2"/>
<rect x="282.5" y="240" width="170.7" height="181.3" fill="none" stroke="#5c5c5c" stroke-width="1.05"/>
<line x1="297.8" y1="421.3" x2="297.8" y2="416.3" stroke="#5c5c5c" stroke-width="0.9" />
<line x1="360.05" y1="421.3" x2="360.05" y2="416.3" stroke="#5c5c5c" stroke-width="0.9" />
<line x1="422.3" y1="421.3" x2="422.3" y2="416.3" stroke="#5c5c5c" stroke-width="0.9" />
<line x1="282.24" y1="421.3" x2="282.24" y2="418.8" stroke="#5c5c5c" stroke-width="0.9" />
<line x1="313.36" y1="421.3" x2="313.36" y2="418.8" stroke="#5c5c5c" stroke-width="0.9" />
<line x1="328.93" y1="421.3" x2="328.93" y2="418.8" stroke="#5c5c5c" stroke-width="0.9" />
<line x1="344.49" y1="421.3" x2="344.49" y2="418.8" stroke="#5c5c5c" stroke-width="0.9" />
<line x1="375.61" y1="421.3" x2="375.61" y2="418.8" stroke="#5c5c5c" stroke-width="0.9" />
<line x1="391.18" y1="421.3" x2="391.18" y2="418.8" stroke="#5c5c5c" stroke-width="0.9" />
<line x1="406.74" y1="421.3" x2="406.74" y2="418.8" stroke="#5c5c5c" stroke-width="0.9" />
<line x1="437.86" y1="421.3" x2="437.86" y2="418.8" stroke="#5c5c5c" stroke-width="0.9" />
<line x1="282.5" y1="421.2" x2="287.5" y2="421.2" stroke="#5c5c5c" stroke-width="0.9" />
<line x1="282.5" y1="389.42" x2="287.5" y2="389.42" stroke="#5c5c5c" stroke-width="0.9" />
<line x1="282.5" y1="357.64" x2="287.5" y2="357.64" stroke="#5c5c5c" stroke-width="0.9" />
<line x1="282.5" y1="325.86" x2="287.5" y2="325.86" stroke="#5c5c5c" stroke-width="0.9" />
<line x1="282.5" y1="294.08" x2="287.5" y2="294.08" stroke="#5c5c5c" stroke-width="0.9" />
<line x1="282.5" y1="262.3" x2="287.5" y2="262.3" stroke="#5c5c5c" stroke-width="0.9" />
<line x1="282.5" y1="414.84" x2="285" y2="414.84" stroke="#5c5c5c" stroke-width="0.9" />
<line x1="282.5" y1="408.49" x2="285" y2="408.49" stroke="#5c5c5c" stroke-width="0.9" />
<line x1="282.5" y1="402.13" x2="285" y2="402.13" stroke="#5c5c5c" stroke-width="0.9" />
<line x1="282.5" y1="395.78" x2="285" y2="395.78" stroke="#5c5c5c" stroke-width="0.9" />
<line x1="282.5" y1="383.06" x2="285" y2="383.06" stroke="#5c5c5c" stroke-width="0.9" />
<line x1="282.5" y1="376.71" x2="285" y2="376.71" stroke="#5c5c5c" stroke-width="0.9" />
<line x1="282.5" y1="370.35" x2="285" y2="370.35" stroke="#5c5c5c" stroke-width="0.9" />
<line x1="282.5" y1="364" x2="285" y2="364" stroke="#5c5c5c" stroke-width="0.9" />
<line x1="282.5" y1="351.28" x2="285" y2="351.28" stroke="#5c5c5c" stroke-width="0.9" />
<line x1="282.5" y1="344.93" x2="285" y2="344.93" stroke="#5c5c5c" stroke-width="0.9" />
<line x1="282.5" y1="338.57" x2="285" y2="338.57" stroke="#5c5c5c" stroke-width="0.9" />
<line x1="282.5" y1="332.22" x2="285" y2="332.22" stroke="#5c5c5c" stroke-width="0.9" />
<line x1="282.5" y1="319.5" x2="285" y2="319.5" stroke="#5c5c5c" stroke-width="0.9" />
<line x1="282.5" y1="313.15" x2="285" y2="313.15" stroke="#5c5c5c" stroke-width="0.9" />
<line x1="282.5" y1="306.79" x2="285" y2="306.79" stroke="#5c5c5c" stroke-width="0.9" />
<line x1="282.5" y1="300.44" x2="285" y2="300.44" stroke="#5c5c5c" stroke-width="0.9" />
<line x1="282.5" y1="287.72" x2="285" y2="287.72" stroke="#5c5c5c" stroke-width="0.9" />
<line x1="282.5" y1="281.37" x2="285" y2="281.37" stroke="#5c5c5c" stroke-width="0.9" />
<line x1="282.5" y1="275.01" x2="285" y2="275.01" stroke="#5c5c5c" stroke-width="0.9" />
<line x1="282.5" y1="268.66" x2="285" y2="268.66" stroke="#5c5c5c" stroke-width="0.9" />
<line x1="282.5" y1="255.94" x2="285" y2="255.94" stroke="#5c5c5c" stroke-width="0.9" />
<line x1="282.5" y1="249.59" x2="285" y2="249.59" stroke="#5c5c5c" stroke-width="0.9" />
<line x1="282.5" y1="243.23" x2="285" y2="243.23" stroke="#5c5c5c" stroke-width="0.9" />
<text x="297.8" y="434" font-size="11" text-anchor="middle" fill="#383838" >0</text>
<text x="360.05" y="434" font-size="11" text-anchor="middle" fill="#383838" >200</text>
<text x="422.3" y="434" font-size="11" text-anchor="middle" fill="#383838" >400</text>
<text x="278" y="425.1" font-size="11" text-anchor="end" fill="#383838" >0.5</text>
<text x="278" y="393.32" font-size="11" text-anchor="end" fill="#383838" >0.6</text>
<text x="278" y="361.54" font-size="11" text-anchor="end" fill="#383838" >0.7</text>
<text x="278" y="329.76" font-size="11" text-anchor="end" fill="#383838" >0.8</text>
<text x="278" y="297.98" font-size="11" text-anchor="end" fill="#383838" >0.9</text>
<text x="278" y="266.2" font-size="11" text-anchor="end" fill="#383838" >1.0</text>
<text x="366" y="449.9" font-size="11" text-anchor="middle" fill="#383838" >Delay,<tspan font-style="italic" dx="3">t</tspan> (ps)</text>
<text x="367.6" y="255.9" font-size="11" text-anchor="middle" fill="#383838" >Fe</text>
<text x="0" y="0" font-size="11" text-anchor="middle" fill="#383838" transform="translate(253.5,321.3) rotate(-90)">Magnetisation, <tspan font-style="italic">M</tspan></text>
<text x="243" y="243.5" font-size="16" text-anchor="start" fill="#000" font-weight="bold">d</text>
<text x="447.2" y="276" font-size="11" text-anchor="end" fill="#82b9e0" >5 mJ/cm<tspan font-size="8" dy="-4.5">2</tspan></text>
<text x="447.2" y="301.1" font-size="11" text-anchor="end" fill="#4790cc" >10 mJ/cm<tspan font-size="8" dy="-4.5">2</tspan></text>
<text x="447.2" y="328.8" font-size="11" text-anchor="end" fill="#3169ab" >15 mJ/cm<tspan font-size="8" dy="-4.5">2</tspan></text>
<text x="447.2" y="364.4" font-size="11" text-anchor="end" fill="#27467c" >25 mJ/cm<tspan font-size="8" dy="-4.5">2</tspan></text>
<g clip-path="url(#cd)">
<line x1="334.8" y1="284.2" x2="334.8" y2="289.2" stroke="#86bde3" stroke-opacity="0.6" stroke-width="1.1"/><line x1="349.3" y1="284.8" x2="349.3" y2="289.8" stroke="#86bde3" stroke-opacity="0.6" stroke-width="1.1"/><line x1="364.3" y1="287.4" x2="364.3" y2="291.4" stroke="#86bde3" stroke-opacity="0.6" stroke-width="1.1"/><line x1="378.6" y1="285.7" x2="378.6" y2="289.7" stroke="#86bde3" stroke-opacity="0.6" stroke-width="1.1"/><line x1="393.7" y1="281.7" x2="393.7" y2="285.7" stroke="#86bde3" stroke-opacity="0.6" stroke-width="1.1"/><line x1="408.6" y1="283.7" x2="408.6" y2="287.7" stroke="#86bde3" stroke-opacity="0.6" stroke-width="1.1"/><line x1="423.4" y1="282.3" x2="423.4" y2="286.3" stroke="#86bde3" stroke-opacity="0.6" stroke-width="1.1"/><line x1="437.7" y1="282.3" x2="437.7" y2="286.3" stroke="#86bde3" stroke-opacity="0.6" stroke-width="1.1"/><line x1="452" y1="281.7" x2="452" y2="285.7" stroke="#86bde3" stroke-opacity="0.6" stroke-width="1.1"/><circle cx="283.5" cy="261.07" r="2.0" fill="#86bde3" fill-opacity="0.75"/><circle cx="284.75" cy="265.23" r="2.0" fill="#86bde3" fill-opacity="0.75"/><circle cx="286.01" cy="264.92" r="2.0" fill="#86bde3" fill-opacity="0.75"/><circle cx="287.26" cy="261.33" r="2.0" fill="#86bde3" fill-opacity="0.75"/><circle cx="288.52" cy="262.06" r="2.0" fill="#86bde3" fill-opacity="0.75"/><circle cx="289.77" cy="262.07" r="2.0" fill="#86bde3" fill-opacity="0.75"/><circle cx="291.02" cy="265.66" r="2.0" fill="#86bde3" fill-opacity="0.75"/><circle cx="292.28" cy="265.17" r="2.0" fill="#86bde3" fill-opacity="0.75"/><circle cx="293.53" cy="264.17" r="2.0" fill="#86bde3" fill-opacity="0.75"/><circle cx="294.78" cy="265.69" r="2.0" fill="#86bde3" fill-opacity="0.75"/><circle cx="296.04" cy="268.08" r="2.0" fill="#86bde3" fill-opacity="0.75"/><circle cx="297.29" cy="267.15" r="2.0" fill="#86bde3" fill-opacity="0.75"/><circle cx="298.55" cy="271.35" r="2.0" fill="#86bde3" fill-opacity="0.75"/><circle cx="299.8" cy="274.67" r="2.0" fill="#86bde3" fill-opacity="0.75"/><circle cx="301.5" cy="278" r="2.0" fill="#86bde3" fill-opacity="0.75"/><circle cx="304.1" cy="287.3" r="2.0" fill="#86bde3" fill-opacity="0.75"/><circle cx="306.7" cy="288.1" r="2.0" fill="#86bde3" fill-opacity="0.75"/><circle cx="309" cy="287.8" r="2.0" fill="#86bde3" fill-opacity="0.75"/><circle cx="311.1" cy="288.7" r="2.0" fill="#86bde3" fill-opacity="0.75"/><circle cx="313.7" cy="289.9" r="2.0" fill="#86bde3" fill-opacity="0.75"/><circle cx="316.4" cy="290.2" r="2.0" fill="#86bde3" fill-opacity="0.75"/><circle cx="319" cy="291.3" r="2.0" fill="#86bde3" fill-opacity="0.75"/><circle cx="334.8" cy="286.7" r="2.0" fill="#86bde3" fill-opacity="0.75"/><circle cx="349.3" cy="287.3" r="2.0" fill="#86bde3" fill-opacity="0.75"/><circle cx="364.3" cy="289.4" r="2.0" fill="#86bde3" fill-opacity="0.75"/><circle cx="378.6" cy="287.7" r="2.0" fill="#86bde3" fill-opacity="0.75"/><circle cx="393.7" cy="283.7" r="2.0" fill="#86bde3" fill-opacity="0.75"/><circle cx="408.6" cy="285.7" r="2.0" fill="#86bde3" fill-opacity="0.75"/><circle cx="423.4" cy="284.3" r="2.0" fill="#86bde3" fill-opacity="0.75"/><circle cx="437.7" cy="284.3" r="2.0" fill="#86bde3" fill-opacity="0.75"/><circle cx="452" cy="283.7" r="2.0" fill="#86bde3" fill-opacity="0.75"/>
<line x1="334.3" y1="314.6" x2="334.3" y2="319.6" stroke="#4a95cf" stroke-opacity="0.6" stroke-width="1.1"/><line x1="349.3" y1="313.4" x2="349.3" y2="318.4" stroke="#4a95cf" stroke-opacity="0.6" stroke-width="1.1"/><line x1="364.3" y1="312.9" x2="364.3" y2="316.9" stroke="#4a95cf" stroke-opacity="0.6" stroke-width="1.1"/><line x1="378.6" y1="312.3" x2="378.6" y2="316.3" stroke="#4a95cf" stroke-opacity="0.6" stroke-width="1.1"/><line x1="393.7" y1="311.4" x2="393.7" y2="315.4" stroke="#4a95cf" stroke-opacity="0.6" stroke-width="1.1"/><line x1="408.6" y1="309.4" x2="408.6" y2="313.4" stroke="#4a95cf" stroke-opacity="0.6" stroke-width="1.1"/><line x1="423.4" y1="308.9" x2="423.4" y2="312.9" stroke="#4a95cf" stroke-opacity="0.6" stroke-width="1.1"/><line x1="437.7" y1="306.1" x2="437.7" y2="311.1" stroke="#4a95cf" stroke-opacity="0.6" stroke-width="1.1"/><line x1="452" y1="307.4" x2="452" y2="311.4" stroke="#4a95cf" stroke-opacity="0.6" stroke-width="1.1"/><circle cx="283.5" cy="264.1" r="2.0" fill="#4a95cf" fill-opacity="0.75"/><circle cx="284.75" cy="262.33" r="2.0" fill="#4a95cf" fill-opacity="0.75"/><circle cx="286.01" cy="265.13" r="2.0" fill="#4a95cf" fill-opacity="0.75"/><circle cx="287.26" cy="264.9" r="2.0" fill="#4a95cf" fill-opacity="0.75"/><circle cx="288.52" cy="263.39" r="2.0" fill="#4a95cf" fill-opacity="0.75"/><circle cx="289.77" cy="264.19" r="2.0" fill="#4a95cf" fill-opacity="0.75"/><circle cx="291.02" cy="265.09" r="2.0" fill="#4a95cf" fill-opacity="0.75"/><circle cx="292.28" cy="264.36" r="2.0" fill="#4a95cf" fill-opacity="0.75"/><circle cx="293.53" cy="266.85" r="2.0" fill="#4a95cf" fill-opacity="0.75"/><circle cx="294.78" cy="267.6" r="2.0" fill="#4a95cf" fill-opacity="0.75"/><circle cx="296.04" cy="268.84" r="2.0" fill="#4a95cf" fill-opacity="0.75"/><circle cx="297.29" cy="269.72" r="2.0" fill="#4a95cf" fill-opacity="0.75"/><circle cx="298.55" cy="273.29" r="2.0" fill="#4a95cf" fill-opacity="0.75"/><circle cx="299.8" cy="280.02" r="2.0" fill="#4a95cf" fill-opacity="0.75"/><circle cx="300.8" cy="285" r="2.0" fill="#4a95cf" fill-opacity="0.75"/><circle cx="302" cy="291" r="2.0" fill="#4a95cf" fill-opacity="0.75"/><circle cx="303.2" cy="296.9" r="2.0" fill="#4a95cf" fill-opacity="0.75"/><circle cx="305.5" cy="303.1" r="2.0" fill="#4a95cf" fill-opacity="0.75"/><circle cx="307.6" cy="311" r="2.0" fill="#4a95cf" fill-opacity="0.75"/><circle cx="310.2" cy="315.9" r="2.0" fill="#4a95cf" fill-opacity="0.75"/><circle cx="312.9" cy="318" r="2.0" fill="#4a95cf" fill-opacity="0.75"/><circle cx="315.5" cy="318.9" r="2.0" fill="#4a95cf" fill-opacity="0.75"/><circle cx="317.8" cy="317.1" r="2.0" fill="#4a95cf" fill-opacity="0.75"/><circle cx="319.9" cy="316.3" r="2.0" fill="#4a95cf" fill-opacity="0.75"/><circle cx="334.3" cy="317.1" r="2.0" fill="#4a95cf" fill-opacity="0.75"/><circle cx="349.3" cy="315.9" r="2.0" fill="#4a95cf" fill-opacity="0.75"/><circle cx="364.3" cy="314.9" r="2.0" fill="#4a95cf" fill-opacity="0.75"/><circle cx="378.6" cy="314.3" r="2.0" fill="#4a95cf" fill-opacity="0.75"/><circle cx="393.7" cy="313.4" r="2.0" fill="#4a95cf" fill-opacity="0.75"/><circle cx="408.6" cy="311.4" r="2.0" fill="#4a95cf" fill-opacity="0.75"/><circle cx="423.4" cy="310.9" r="2.0" fill="#4a95cf" fill-opacity="0.75"/><circle cx="437.7" cy="308.6" r="2.0" fill="#4a95cf" fill-opacity="0.75"/><circle cx="452" cy="309.4" r="2.0" fill="#4a95cf" fill-opacity="0.75"/>
<line x1="334.6" y1="344.5" x2="334.6" y2="350.5" stroke="#2f66a8" stroke-opacity="0.6" stroke-width="1.1"/><line x1="348.9" y1="343.8" x2="348.9" y2="349.8" stroke="#2f66a8" stroke-opacity="0.6" stroke-width="1.1"/><line x1="364.3" y1="343.2" x2="364.3" y2="348.2" stroke="#2f66a8" stroke-opacity="0.6" stroke-width="1.1"/><line x1="378.6" y1="344.6" x2="378.6" y2="349.6" stroke="#2f66a8" stroke-opacity="0.6" stroke-width="1.1"/><line x1="393.7" y1="338.4" x2="393.7" y2="344.4" stroke="#2f66a8" stroke-opacity="0.6" stroke-width="1.1"/><line x1="408.6" y1="337" x2="408.6" y2="343" stroke="#2f66a8" stroke-opacity="0.6" stroke-width="1.1"/><line x1="423.4" y1="336.9" x2="423.4" y2="341.9" stroke="#2f66a8" stroke-opacity="0.6" stroke-width="1.1"/><line x1="437.7" y1="333.1" x2="437.7" y2="341.1" stroke="#2f66a8" stroke-opacity="0.6" stroke-width="1.1"/><line x1="452" y1="335.6" x2="452" y2="341.6" stroke="#2f66a8" stroke-opacity="0.6" stroke-width="1.1"/><circle cx="283.5" cy="264.79" r="2.0" fill="#2f66a8" fill-opacity="0.75"/><circle cx="284.75" cy="262.24" r="2.0" fill="#2f66a8" fill-opacity="0.75"/><circle cx="286.01" cy="264.12" r="2.0" fill="#2f66a8" fill-opacity="0.75"/><circle cx="287.26" cy="262.4" r="2.0" fill="#2f66a8" fill-opacity="0.75"/><circle cx="288.52" cy="265.08" r="2.0" fill="#2f66a8" fill-opacity="0.75"/><circle cx="289.77" cy="264.21" r="2.0" fill="#2f66a8" fill-opacity="0.75"/><circle cx="291.02" cy="262.04" r="2.0" fill="#2f66a8" fill-opacity="0.75"/><circle cx="292.28" cy="266.6" r="2.0" fill="#2f66a8" fill-opacity="0.75"/><circle cx="293.53" cy="263.94" r="2.0" fill="#2f66a8" fill-opacity="0.75"/><circle cx="294.78" cy="267.88" r="2.0" fill="#2f66a8" fill-opacity="0.75"/><circle cx="296.04" cy="265.54" r="2.0" fill="#2f66a8" fill-opacity="0.75"/><circle cx="297.29" cy="271.29" r="2.0" fill="#2f66a8" fill-opacity="0.75"/><circle cx="298.55" cy="275.29" r="2.0" fill="#2f66a8" fill-opacity="0.75"/><circle cx="299.8" cy="286.35" r="2.0" fill="#2f66a8" fill-opacity="0.75"/><circle cx="300.2" cy="295" r="2.0" fill="#2f66a8" fill-opacity="0.75"/><circle cx="301.5" cy="310" r="2.0" fill="#2f66a8" fill-opacity="0.75"/><circle cx="303" cy="318" r="2.0" fill="#2f66a8" fill-opacity="0.75"/><circle cx="305.8" cy="323.3" r="2.0" fill="#2f66a8" fill-opacity="0.75"/><circle cx="308.7" cy="336.5" r="2.0" fill="#2f66a8" fill-opacity="0.75"/><circle cx="310.9" cy="343.7" r="2.0" fill="#2f66a8" fill-opacity="0.75"/><circle cx="313.7" cy="342" r="2.0" fill="#2f66a8" fill-opacity="0.75"/><circle cx="316.4" cy="343.7" r="2.0" fill="#2f66a8" fill-opacity="0.75"/><circle cx="318.1" cy="340.9" r="2.0" fill="#2f66a8" fill-opacity="0.75"/><circle cx="319.7" cy="344.2" r="2.0" fill="#2f66a8" fill-opacity="0.75"/><circle cx="334.6" cy="347.5" r="2.0" fill="#2f66a8" fill-opacity="0.75"/><circle cx="348.9" cy="346.8" r="2.0" fill="#2f66a8" fill-opacity="0.75"/><circle cx="364.3" cy="345.7" r="2.0" fill="#2f66a8" fill-opacity="0.75"/><circle cx="378.6" cy="347.1" r="2.0" fill="#2f66a8" fill-opacity="0.75"/><circle cx="393.7" cy="341.4" r="2.0" fill="#2f66a8" fill-opacity="0.75"/><circle cx="408.6" cy="340" r="2.0" fill="#2f66a8" fill-opacity="0.75"/><circle cx="423.4" cy="339.4" r="2.0" fill="#2f66a8" fill-opacity="0.75"/><circle cx="437.7" cy="337.1" r="2.0" fill="#2f66a8" fill-opacity="0.75"/><circle cx="452" cy="338.6" r="2.0" fill="#2f66a8" fill-opacity="0.75"/>
<line x1="334.2" y1="381.6" x2="334.2" y2="387.6" stroke="#1f3f78" stroke-opacity="0.6" stroke-width="1.1"/><line x1="349.2" y1="380.6" x2="349.2" y2="388.6" stroke="#1f3f78" stroke-opacity="0.6" stroke-width="1.1"/><line x1="364.3" y1="392.1" x2="364.3" y2="398.1" stroke="#1f3f78" stroke-opacity="0.6" stroke-width="1.1"/><line x1="378.7" y1="393.9" x2="378.7" y2="399.9" stroke="#1f3f78" stroke-opacity="0.6" stroke-width="1.1"/><line x1="393.9" y1="392.5" x2="393.9" y2="398.5" stroke="#1f3f78" stroke-opacity="0.6" stroke-width="1.1"/><line x1="408.7" y1="397" x2="408.7" y2="403" stroke="#1f3f78" stroke-opacity="0.6" stroke-width="1.1"/><line x1="423.5" y1="393.9" x2="423.5" y2="400.9" stroke="#1f3f78" stroke-opacity="0.6" stroke-width="1.1"/><line x1="438.2" y1="392" x2="438.2" y2="399" stroke="#1f3f78" stroke-opacity="0.6" stroke-width="1.1"/><line x1="452.4" y1="394.4" x2="452.4" y2="400.4" stroke="#1f3f78" stroke-opacity="0.6" stroke-width="1.1"/><circle cx="283.5" cy="262.84" r="2.0" fill="#1f3f78" fill-opacity="0.75"/><circle cx="284.75" cy="261.76" r="2.0" fill="#1f3f78" fill-opacity="0.75"/><circle cx="286.01" cy="261.26" r="2.0" fill="#1f3f78" fill-opacity="0.75"/><circle cx="287.26" cy="264.25" r="2.0" fill="#1f3f78" fill-opacity="0.75"/><circle cx="288.52" cy="264.26" r="2.0" fill="#1f3f78" fill-opacity="0.75"/><circle cx="289.77" cy="263.71" r="2.0" fill="#1f3f78" fill-opacity="0.75"/><circle cx="291.02" cy="264.37" r="2.0" fill="#1f3f78" fill-opacity="0.75"/><circle cx="292.28" cy="265.49" r="2.0" fill="#1f3f78" fill-opacity="0.75"/><circle cx="293.53" cy="263.89" r="2.0" fill="#1f3f78" fill-opacity="0.75"/><circle cx="294.78" cy="266.83" r="2.0" fill="#1f3f78" fill-opacity="0.75"/><circle cx="296.04" cy="267.13" r="2.0" fill="#1f3f78" fill-opacity="0.75"/><circle cx="297.29" cy="270.07" r="2.0" fill="#1f3f78" fill-opacity="0.75"/><circle cx="298.55" cy="272.26" r="2.0" fill="#1f3f78" fill-opacity="0.75"/><circle cx="299.8" cy="287.69" r="2.0" fill="#1f3f78" fill-opacity="0.75"/><circle cx="299.8" cy="290" r="2.0" fill="#1f3f78" fill-opacity="0.75"/><circle cx="300.6" cy="305" r="2.0" fill="#1f3f78" fill-opacity="0.75"/><circle cx="301.6" cy="320" r="2.0" fill="#1f3f78" fill-opacity="0.75"/><circle cx="303.6" cy="333.6" r="2.0" fill="#1f3f78" fill-opacity="0.75"/><circle cx="305.4" cy="354" r="2.0" fill="#1f3f78" fill-opacity="0.75"/><circle cx="307.1" cy="359.1" r="2.0" fill="#1f3f78" fill-opacity="0.75"/><circle cx="308.7" cy="371.6" r="2.0" fill="#1f3f78" fill-opacity="0.75"/><circle cx="310.9" cy="373.8" r="2.0" fill="#1f3f78" fill-opacity="0.75"/><circle cx="313.1" cy="373.2" r="2.0" fill="#1f3f78" fill-opacity="0.75"/><circle cx="315.3" cy="378.2" r="2.0" fill="#1f3f78" fill-opacity="0.75"/><circle cx="317.5" cy="377.6" r="2.0" fill="#1f3f78" fill-opacity="0.75"/><circle cx="319.7" cy="382" r="2.0" fill="#1f3f78" fill-opacity="0.75"/><circle cx="334.2" cy="384.6" r="2.0" fill="#1f3f78" fill-opacity="0.75"/><circle cx="349.2" cy="384.6" r="2.0" fill="#1f3f78" fill-opacity="0.75"/><circle cx="364.3" cy="395.1" r="2.0" fill="#1f3f78" fill-opacity="0.75"/><circle cx="378.7" cy="396.9" r="2.0" fill="#1f3f78" fill-opacity="0.75"/><circle cx="393.9" cy="395.5" r="2.0" fill="#1f3f78" fill-opacity="0.75"/><circle cx="408.7" cy="400" r="2.0" fill="#1f3f78" fill-opacity="0.75"/><circle cx="423.5" cy="397.4" r="2.0" fill="#1f3f78" fill-opacity="0.75"/><circle cx="438.2" cy="395.5" r="2.0" fill="#1f3f78" fill-opacity="0.75"/><circle cx="452.4" cy="397.4" r="2.0" fill="#1f3f78" fill-opacity="0.75"/>
<path d="M282.3,263.2 L282.8,263.2 L283.3,263.2 L283.8,263.2 L284.3,263.2 L284.8,263.2 L285.3,263.2 L285.8,263.2 L286.3,263.2 L286.8,263.2 L287.3,263.2 L287.8,263.2 L288.3,263.21 L288.8,263.27 L289.3,263.37 L289.8,263.5 L290.3,263.66 L290.8,263.84 L291.3,264.03 L291.8,264.22 L292.3,264.42 L292.8,264.63 L293.3,264.87 L293.8,265.13 L294.3,265.43 L294.8,265.77 L295.3,266.14 L295.8,266.57 L296.3,267.11 L296.8,267.76 L297.3,268.49 L297.8,269.29 L298.3,270.15 L298.8,271.07 L299.3,272.15 L299.8,273.36 L300.3,274.65 L300.8,275.97 L301.3,277.32 L301.8,278.79 L302.3,280.3 L302.8,281.79 L303.3,283.17 L303.8,284.53 L304.3,285.83 L304.8,286.94 L305.3,287.78 L305.8,288.51 L306.3,289.08 L306.8,289.46 L307.3,289.73 L307.8,289.97 L308.3,290.18 L308.8,290.34 L309.3,290.48 L309.8,290.57 L310.3,290.64 L310.8,290.7 L311.3,290.75 L311.8,290.81 L312.3,290.86 L312.8,290.91 L313.3,290.95 L313.8,290.99 L314.3,291.03 L314.8,291.06 L315.3,291.09 L315.8,291.12 L316.3,291.14 L316.8,291.16 L317.3,291.18 L317.8,291.19 L318.3,291.2 L318.8,291.2 L319.3,291.2 L319.8,291.2 L320.3,291.19 L320.8,291.18 L321.3,291.17 L321.8,291.15 L322.3,291.13 L322.8,291.11 L323.3,291.09 L323.8,291.07 L324.3,291.04 L324.8,291.01 L325.3,290.98 L325.8,290.95 L326.3,290.92 L326.8,290.89 L327.3,290.85 L327.8,290.82 L328.3,290.78 L328.8,290.75 L329.3,290.71 L329.8,290.68 L330.3,290.64 L330.8,290.61 L331.3,290.57 L331.8,290.54 L332.3,290.51 L332.8,290.47 L333.3,290.44 L333.8,290.41 L334.3,290.38 L334.8,290.35 L335.3,290.32 L335.8,290.29 L336.3,290.27 L336.8,290.24 L337.3,290.2 L337.8,290.17 L338.3,290.14 L338.8,290.11 L339.3,290.08 L339.8,290.05 L340.3,290.02 L340.8,289.99 L341.3,289.96 L341.8,289.93 L342.3,289.89 L342.8,289.86 L343.3,289.83 L343.8,289.8 L344.3,289.77 L344.8,289.73 L345.3,289.7 L345.8,289.67 L346.3,289.64 L346.8,289.6 L347.3,289.57 L347.8,289.54 L348.3,289.51 L348.8,289.47 L349.3,289.44 L349.8,289.41 L350.3,289.38 L350.8,289.35 L351.3,289.31 L351.8,289.28 L352.3,289.25 L352.8,289.22 L353.3,289.18 L353.8,289.15 L354.3,289.12 L354.8,289.08 L355.3,289.05 L355.8,289.02 L356.3,288.98 L356.8,288.95 L357.3,288.92 L357.8,288.88 L358.3,288.85 L358.8,288.81 L359.3,288.78 L359.8,288.75 L360.3,288.71 L360.8,288.68 L361.3,288.64 L361.8,288.61 L362.3,288.57 L362.8,288.54 L363.3,288.5 L363.8,288.47 L364.3,288.44 L364.8,288.4 L365.3,288.37 L365.8,288.33 L366.3,288.3 L366.8,288.26 L367.3,288.23 L367.8,288.2 L368.3,288.16 L368.8,288.13 L369.3,288.09 L369.8,288.06 L370.3,288.03 L370.8,287.99 L371.3,287.96 L371.8,287.92 L372.3,287.89 L372.8,287.86 L373.3,287.83 L373.8,287.79 L374.3,287.76 L374.8,287.73 L375.3,287.69 L375.8,287.66 L376.3,287.63 L376.8,287.6 L377.3,287.57 L377.8,287.54 L378.3,287.5 L378.8,287.47 L379.3,287.44 L379.8,287.41 L380.3,287.38 L380.8,287.35 L381.3,287.32 L381.8,287.29 L382.3,287.26 L382.8,287.23 L383.3,287.2 L383.8,287.18 L384.3,287.15 L384.8,287.12 L385.3,287.09 L385.8,287.06 L386.3,287.03 L386.8,287 L387.3,286.98 L387.8,286.95 L388.3,286.92 L388.8,286.89 L389.3,286.87 L389.8,286.84 L390.3,286.81 L390.8,286.78 L391.3,286.76 L391.8,286.73 L392.3,286.7 L392.8,286.68 L393.3,286.65 L393.8,286.62 L394.3,286.6 L394.8,286.57 L395.3,286.54 L395.8,286.52 L396.3,286.49 L396.8,286.47 L397.3,286.44 L397.8,286.41 L398.3,286.39 L398.8,286.36 L399.3,286.33 L399.8,286.31 L400.3,286.28 L400.8,286.26 L401.3,286.23 L401.8,286.2 L402.3,286.18 L402.8,286.15 L403.3,286.13 L403.8,286.1 L404.3,286.07 L404.8,286.05 L405.3,286.02 L405.8,285.99 L406.3,285.97 L406.8,285.94 L407.3,285.91 L407.8,285.89 L408.3,285.86 L408.8,285.83 L409.3,285.81 L409.8,285.78 L410.3,285.75 L410.8,285.73 L411.3,285.7 L411.8,285.67 L412.3,285.64 L412.8,285.62 L413.3,285.59 L413.8,285.56 L414.3,285.53 L414.8,285.5 L415.3,285.47 L415.8,285.45 L416.3,285.42 L416.8,285.39 L417.3,285.36 L417.8,285.33 L418.3,285.3 L418.8,285.27 L419.3,285.24 L419.8,285.21 L420.3,285.18 L420.8,285.15 L421.3,285.12 L421.8,285.09 L422.3,285.06 L422.8,285.03 L423.3,285 L423.8,284.97 L424.3,284.94 L424.8,284.91 L425.3,284.88 L425.8,284.84 L426.3,284.81 L426.8,284.78 L427.3,284.75 L427.8,284.72 L428.3,284.69 L428.8,284.66 L429.3,284.62 L429.8,284.59 L430.3,284.56 L430.8,284.53 L431.3,284.5 L431.8,284.46 L432.3,284.43 L432.8,284.4 L433.3,284.37 L433.8,284.33 L434.3,284.3 L434.8,284.27 L435.3,284.23 L435.8,284.2 L436.3,284.17 L436.8,284.14 L437.3,284.1 L437.8,284.07 L438.3,284.04 L438.8,284 L439.3,283.97 L439.8,283.93 L440.3,283.9 L440.8,283.87 L441.3,283.83 L441.8,283.8 L442.3,283.77 L442.8,283.73 L443.3,283.7 L443.8,283.66 L444.3,283.63 L444.8,283.59 L445.3,283.56 L445.8,283.53 L446.3,283.49 L446.8,283.46 L447.3,283.42 L447.8,283.39 L448.3,283.35 L448.8,283.32 L449.3,283.28 L449.8,283.25 L450.3,283.21 L450.8,283.18 L451.3,283.14 L451.8,283.11 L452.3,283.07 L452.8,283.04 L453.3,283" fill="none" stroke="#86bde3" stroke-width="1.4" stroke-linejoin="round" stroke-linecap="round" />
<path d="M282.3,263.2 L282.8,263.2 L283.3,263.2 L283.8,263.2 L284.3,263.2 L284.8,263.2 L285.3,263.2 L285.8,263.2 L286.3,263.2 L286.8,263.2 L287.3,263.2 L287.8,263.2 L288.3,263.21 L288.8,263.26 L289.3,263.36 L289.8,263.49 L290.3,263.65 L290.8,263.83 L291.3,264.02 L291.8,264.22 L292.3,264.42 L292.8,264.65 L293.3,264.92 L293.8,265.23 L294.3,265.58 L294.8,265.97 L295.3,266.41 L295.8,266.91 L296.3,267.54 L296.8,268.3 L297.3,269.2 L297.8,270.25 L298.3,271.47 L298.8,272.97 L299.3,275.18 L299.8,277.88 L300.3,280.82 L300.8,283.94 L301.3,287.66 L301.8,291.41 L302.3,294.57 L302.8,297.27 L303.3,299.73 L303.8,301.88 L304.3,303.68 L304.8,305.3 L305.3,306.79 L305.8,308.16 L306.3,309.42 L306.8,310.57 L307.3,311.62 L307.8,312.58 L308.3,313.52 L308.8,314.45 L309.3,315.33 L309.8,316.16 L310.3,316.91 L310.8,317.56 L311.3,318.09 L311.8,318.49 L312.3,318.75 L312.8,318.99 L313.3,319.22 L313.8,319.43 L314.3,319.63 L314.8,319.81 L315.3,319.96 L315.8,320.1 L316.3,320.21 L316.8,320.3 L317.3,320.36 L317.8,320.39 L318.3,320.4 L318.8,320.4 L319.3,320.4 L319.8,320.39 L320.3,320.38 L320.8,320.38 L321.3,320.37 L321.8,320.36 L322.3,320.34 L322.8,320.33 L323.3,320.32 L323.8,320.3 L324.3,320.28 L324.8,320.26 L325.3,320.24 L325.8,320.22 L326.3,320.2 L326.8,320.18 L327.3,320.16 L327.8,320.14 L328.3,320.11 L328.8,320.09 L329.3,320.06 L329.8,320.03 L330.3,320.01 L330.8,319.98 L331.3,319.95 L331.8,319.93 L332.3,319.9 L332.8,319.87 L333.3,319.84 L333.8,319.81 L334.3,319.78 L334.8,319.75 L335.3,319.71 L335.8,319.67 L336.3,319.62 L336.8,319.58 L337.3,319.52 L337.8,319.47 L338.3,319.41 L338.8,319.35 L339.3,319.28 L339.8,319.21 L340.3,319.14 L340.8,319.07 L341.3,319 L341.8,318.92 L342.3,318.84 L342.8,318.76 L343.3,318.68 L343.8,318.59 L344.3,318.51 L344.8,318.42 L345.3,318.33 L345.8,318.24 L346.3,318.15 L346.8,318.06 L347.3,317.97 L347.8,317.88 L348.3,317.78 L348.8,317.69 L349.3,317.6 L349.8,317.51 L350.3,317.41 L350.8,317.32 L351.3,317.23 L351.8,317.14 L352.3,317.05 L352.8,316.97 L353.3,316.88 L353.8,316.79 L354.3,316.71 L354.8,316.63 L355.3,316.55 L355.8,316.47 L356.3,316.39 L356.8,316.32 L357.3,316.24 L357.8,316.17 L358.3,316.11 L358.8,316.04 L359.3,315.98 L359.8,315.92 L360.3,315.87 L360.8,315.81 L361.3,315.76 L361.8,315.7 L362.3,315.65 L362.8,315.6 L363.3,315.54 L363.8,315.49 L364.3,315.44 L364.8,315.39 L365.3,315.34 L365.8,315.29 L366.3,315.24 L366.8,315.19 L367.3,315.14 L367.8,315.09 L368.3,315.04 L368.8,314.99 L369.3,314.95 L369.8,314.9 L370.3,314.85 L370.8,314.8 L371.3,314.76 L371.8,314.71 L372.3,314.67 L372.8,314.62 L373.3,314.58 L373.8,314.53 L374.3,314.49 L374.8,314.44 L375.3,314.4 L375.8,314.36 L376.3,314.31 L376.8,314.27 L377.3,314.23 L377.8,314.18 L378.3,314.14 L378.8,314.1 L379.3,314.06 L379.8,314.02 L380.3,313.98 L380.8,313.94 L381.3,313.9 L381.8,313.86 L382.3,313.82 L382.8,313.78 L383.3,313.74 L383.8,313.7 L384.3,313.66 L384.8,313.62 L385.3,313.58 L385.8,313.54 L386.3,313.5 L386.8,313.46 L387.3,313.43 L387.8,313.39 L388.3,313.35 L388.8,313.31 L389.3,313.28 L389.8,313.24 L390.3,313.2 L390.8,313.16 L391.3,313.13 L391.8,313.09 L392.3,313.05 L392.8,313.02 L393.3,312.98 L393.8,312.94 L394.3,312.91 L394.8,312.87 L395.3,312.84 L395.8,312.8 L396.3,312.76 L396.8,312.73 L397.3,312.69 L397.8,312.66 L398.3,312.62 L398.8,312.59 L399.3,312.55 L399.8,312.51 L400.3,312.48 L400.8,312.44 L401.3,312.41 L401.8,312.37 L402.3,312.34 L402.8,312.3 L403.3,312.27 L403.8,312.23 L404.3,312.2 L404.8,312.16 L405.3,312.13 L405.8,312.09 L406.3,312.06 L406.8,312.02 L407.3,311.99 L407.8,311.96 L408.3,311.92 L408.8,311.89 L409.3,311.85 L409.8,311.82 L410.3,311.79 L410.8,311.75 L411.3,311.72 L411.8,311.68 L412.3,311.65 L412.8,311.62 L413.3,311.58 L413.8,311.55 L414.3,311.52 L414.8,311.48 L415.3,311.45 L415.8,311.42 L416.3,311.39 L416.8,311.35 L417.3,311.32 L417.8,311.29 L418.3,311.26 L418.8,311.22 L419.3,311.19 L419.8,311.16 L420.3,311.13 L420.8,311.1 L421.3,311.06 L421.8,311.03 L422.3,311 L422.8,310.97 L423.3,310.94 L423.8,310.91 L424.3,310.88 L424.8,310.85 L425.3,310.81 L425.8,310.78 L426.3,310.75 L426.8,310.72 L427.3,310.69 L427.8,310.66 L428.3,310.63 L428.8,310.6 L429.3,310.57 L429.8,310.54 L430.3,310.51 L430.8,310.48 L431.3,310.45 L431.8,310.43 L432.3,310.4 L432.8,310.37 L433.3,310.34 L433.8,310.31 L434.3,310.28 L434.8,310.25 L435.3,310.22 L435.8,310.2 L436.3,310.17 L436.8,310.14 L437.3,310.11 L437.8,310.08 L438.3,310.06 L438.8,310.03 L439.3,310 L439.8,309.98 L440.3,309.95 L440.8,309.92 L441.3,309.89 L441.8,309.87 L442.3,309.84 L442.8,309.82 L443.3,309.79 L443.8,309.76 L444.3,309.74 L444.8,309.71 L445.3,309.69 L445.8,309.66 L446.3,309.64 L446.8,309.61 L447.3,309.59 L447.8,309.56 L448.3,309.54 L448.8,309.51 L449.3,309.49 L449.8,309.46 L450.3,309.44 L450.8,309.42 L451.3,309.39 L451.8,309.37 L452.3,309.35 L452.8,309.32 L453.3,309.3" fill="none" stroke="#4a95cf" stroke-width="1.4" stroke-linejoin="round" stroke-linecap="round" />
<path d="M282.3,263.2 L282.8,263.2 L283.3,263.2 L283.8,263.2 L284.3,263.2 L284.8,263.2 L285.3,263.2 L285.8,263.2 L286.3,263.2 L286.8,263.2 L287.3,263.2 L287.8,263.2 L288.3,263.21 L288.8,263.26 L289.3,263.36 L289.8,263.49 L290.3,263.65 L290.8,263.83 L291.3,264.02 L291.8,264.22 L292.3,264.43 L292.8,264.67 L293.3,264.95 L293.8,265.27 L294.3,265.65 L294.8,266.08 L295.3,266.58 L295.8,267.16 L296.3,267.88 L296.8,268.8 L297.3,269.97 L297.8,271.41 L298.3,273.19 L298.8,275.87 L299.3,281.03 L299.8,287.43 L300.3,294.3 L300.8,302.75 L301.3,310.59 L301.8,316.04 L302.3,320.48 L302.8,323.94 L303.3,326.35 L303.8,328.3 L304.3,329.92 L304.8,331.32 L305.3,332.56 L305.8,333.72 L306.3,334.79 L306.8,335.77 L307.3,336.67 L307.8,337.48 L308.3,338.22 L308.8,338.9 L309.3,339.52 L309.8,340.09 L310.3,340.63 L310.8,341.13 L311.3,341.59 L311.8,342.03 L312.3,342.45 L312.8,342.85 L313.3,343.25 L313.8,343.63 L314.3,344 L314.8,344.35 L315.3,344.69 L315.8,345.01 L316.3,345.32 L316.8,345.6 L317.3,345.87 L317.8,346.11 L318.3,346.33 L318.8,346.56 L319.3,346.78 L319.8,346.99 L320.3,347.2 L320.8,347.38 L321.3,347.55 L321.8,347.69 L322.3,347.8 L322.8,347.88 L323.3,347.93 L323.8,347.97 L324.3,348.01 L324.8,348.05 L325.3,348.08 L325.8,348.12 L326.3,348.15 L326.8,348.18 L327.3,348.21 L327.8,348.24 L328.3,348.26 L328.8,348.29 L329.3,348.31 L329.8,348.32 L330.3,348.34 L330.8,348.36 L331.3,348.37 L331.8,348.38 L332.3,348.39 L332.8,348.39 L333.3,348.4 L333.8,348.4 L334.3,348.4 L334.8,348.4 L335.3,348.39 L335.8,348.38 L336.3,348.37 L336.8,348.35 L337.3,348.34 L337.8,348.32 L338.3,348.3 L338.8,348.27 L339.3,348.25 L339.8,348.22 L340.3,348.19 L340.8,348.16 L341.3,348.13 L341.8,348.09 L342.3,348.06 L342.8,348.02 L343.3,347.98 L343.8,347.94 L344.3,347.91 L344.8,347.87 L345.3,347.83 L345.8,347.79 L346.3,347.74 L346.8,347.7 L347.3,347.66 L347.8,347.62 L348.3,347.58 L348.8,347.54 L349.3,347.5 L349.8,347.46 L350.3,347.41 L350.8,347.37 L351.3,347.32 L351.8,347.27 L352.3,347.21 L352.8,347.15 L353.3,347.09 L353.8,347.03 L354.3,346.97 L354.8,346.91 L355.3,346.84 L355.8,346.77 L356.3,346.7 L356.8,346.63 L357.3,346.56 L357.8,346.49 L358.3,346.42 L358.8,346.34 L359.3,346.27 L359.8,346.19 L360.3,346.12 L360.8,346.04 L361.3,345.97 L361.8,345.89 L362.3,345.82 L362.8,345.75 L363.3,345.67 L363.8,345.6 L364.3,345.53 L364.8,345.45 L365.3,345.38 L365.8,345.32 L366.3,345.25 L366.8,345.18 L367.3,345.12 L367.8,345.05 L368.3,344.99 L368.8,344.93 L369.3,344.88 L369.8,344.82 L370.3,344.77 L370.8,344.72 L371.3,344.66 L371.8,344.61 L372.3,344.56 L372.8,344.51 L373.3,344.46 L373.8,344.41 L374.3,344.36 L374.8,344.31 L375.3,344.27 L375.8,344.22 L376.3,344.17 L376.8,344.12 L377.3,344.07 L377.8,344.03 L378.3,343.98 L378.8,343.93 L379.3,343.89 L379.8,343.84 L380.3,343.8 L380.8,343.75 L381.3,343.71 L381.8,343.66 L382.3,343.62 L382.8,343.58 L383.3,343.53 L383.8,343.49 L384.3,343.45 L384.8,343.4 L385.3,343.36 L385.8,343.32 L386.3,343.28 L386.8,343.23 L387.3,343.19 L387.8,343.15 L388.3,343.11 L388.8,343.07 L389.3,343.03 L389.8,342.99 L390.3,342.94 L390.8,342.9 L391.3,342.86 L391.8,342.82 L392.3,342.78 L392.8,342.74 L393.3,342.7 L393.8,342.66 L394.3,342.62 L394.8,342.59 L395.3,342.55 L395.8,342.51 L396.3,342.47 L396.8,342.43 L397.3,342.39 L397.8,342.35 L398.3,342.31 L398.8,342.27 L399.3,342.23 L399.8,342.19 L400.3,342.16 L400.8,342.12 L401.3,342.08 L401.8,342.04 L402.3,342 L402.8,341.96 L403.3,341.92 L403.8,341.88 L404.3,341.85 L404.8,341.81 L405.3,341.77 L405.8,341.73 L406.3,341.69 L406.8,341.65 L407.3,341.61 L407.8,341.57 L408.3,341.53 L408.8,341.49 L409.3,341.46 L409.8,341.42 L410.3,341.38 L410.8,341.34 L411.3,341.3 L411.8,341.26 L412.3,341.22 L412.8,341.18 L413.3,341.14 L413.8,341.1 L414.3,341.06 L414.8,341.02 L415.3,340.98 L415.8,340.94 L416.3,340.91 L416.8,340.87 L417.3,340.83 L417.8,340.79 L418.3,340.75 L418.8,340.71 L419.3,340.67 L419.8,340.64 L420.3,340.6 L420.8,340.56 L421.3,340.52 L421.8,340.48 L422.3,340.44 L422.8,340.41 L423.3,340.37 L423.8,340.33 L424.3,340.29 L424.8,340.25 L425.3,340.22 L425.8,340.18 L426.3,340.14 L426.8,340.1 L427.3,340.06 L427.8,340.03 L428.3,339.99 L428.8,339.95 L429.3,339.92 L429.8,339.88 L430.3,339.84 L430.8,339.8 L431.3,339.77 L431.8,339.73 L432.3,339.69 L432.8,339.66 L433.3,339.62 L433.8,339.58 L434.3,339.55 L434.8,339.51 L435.3,339.47 L435.8,339.44 L436.3,339.4 L436.8,339.36 L437.3,339.33 L437.8,339.29 L438.3,339.25 L438.8,339.22 L439.3,339.18 L439.8,339.15 L440.3,339.11 L440.8,339.07 L441.3,339.04 L441.8,339 L442.3,338.97 L442.8,338.93 L443.3,338.9 L443.8,338.86 L444.3,338.82 L444.8,338.79 L445.3,338.75 L445.8,338.72 L446.3,338.68 L446.8,338.65 L447.3,338.61 L447.8,338.58 L448.3,338.54 L448.8,338.51 L449.3,338.47 L449.8,338.44 L450.3,338.41 L450.8,338.37 L451.3,338.34 L451.8,338.3 L452.3,338.27 L452.8,338.23 L453.3,338.2" fill="none" stroke="#2f66a8" stroke-width="1.4" stroke-linejoin="round" stroke-linecap="round" />
<path d="M282.3,263.2 L282.8,263.2 L283.3,263.2 L283.8,263.2 L284.3,263.2 L284.8,263.2 L285.3,263.2 L285.8,263.2 L286.3,263.2 L286.8,263.2 L287.3,263.2 L287.8,263.2 L288.3,263.21 L288.8,263.26 L289.3,263.36 L289.8,263.49 L290.3,263.65 L290.8,263.83 L291.3,264.02 L291.8,264.22 L292.3,264.43 L292.8,264.67 L293.3,264.95 L293.8,265.27 L294.3,265.65 L294.8,266.08 L295.3,266.58 L295.8,267.16 L296.3,267.87 L296.8,268.77 L297.3,269.92 L297.8,271.37 L298.3,273.17 L298.8,276 L299.3,281.74 L299.8,289.03 L300.3,297.06 L300.8,307.21 L301.3,316.92 L301.8,323.88 L302.3,329.41 L302.8,334.08 L303.3,338.3 L303.8,342.18 L304.3,345.75 L304.8,349 L305.3,351.95 L305.8,354.66 L306.3,357.27 L306.8,359.72 L307.3,361.98 L307.8,364.02 L308.3,365.8 L308.8,367.27 L309.3,368.6 L309.8,369.85 L310.3,371.03 L310.8,372.13 L311.3,373.16 L311.8,374.1 L312.3,374.97 L312.8,375.75 L313.3,376.45 L313.8,377.07 L314.3,377.6 L314.8,378.08 L315.3,378.54 L315.8,378.97 L316.3,379.37 L316.8,379.75 L317.3,380.12 L317.8,380.46 L318.3,380.78 L318.8,381.08 L319.3,381.38 L319.8,381.65 L320.3,381.92 L320.8,382.17 L321.3,382.42 L321.8,382.65 L322.3,382.88 L322.8,383.11 L323.3,383.33 L323.8,383.55 L324.3,383.76 L324.8,383.97 L325.3,384.18 L325.8,384.37 L326.3,384.57 L326.8,384.76 L327.3,384.95 L327.8,385.13 L328.3,385.31 L328.8,385.48 L329.3,385.65 L329.8,385.82 L330.3,385.98 L330.8,386.14 L331.3,386.3 L331.8,386.46 L332.3,386.61 L332.8,386.76 L333.3,386.9 L333.8,387.05 L334.3,387.19 L334.8,387.33 L335.3,387.46 L335.8,387.6 L336.3,387.73 L336.8,387.86 L337.3,387.99 L337.8,388.12 L338.3,388.25 L338.8,388.38 L339.3,388.5 L339.8,388.62 L340.3,388.75 L340.8,388.87 L341.3,388.99 L341.8,389.1 L342.3,389.22 L342.8,389.33 L343.3,389.44 L343.8,389.56 L344.3,389.67 L344.8,389.77 L345.3,389.88 L345.8,389.98 L346.3,390.09 L346.8,390.19 L347.3,390.29 L347.8,390.39 L348.3,390.49 L348.8,390.59 L349.3,390.69 L349.8,390.78 L350.3,390.88 L350.8,390.97 L351.3,391.07 L351.8,391.16 L352.3,391.25 L352.8,391.34 L353.3,391.43 L353.8,391.52 L354.3,391.61 L354.8,391.7 L355.3,391.79 L355.8,391.88 L356.3,391.96 L356.8,392.05 L357.3,392.14 L357.8,392.22 L358.3,392.31 L358.8,392.4 L359.3,392.48 L359.8,392.57 L360.3,392.65 L360.8,392.74 L361.3,392.83 L361.8,392.91 L362.3,393 L362.8,393.08 L363.3,393.16 L363.8,393.25 L364.3,393.33 L364.8,393.42 L365.3,393.5 L365.8,393.58 L366.3,393.66 L366.8,393.74 L367.3,393.82 L367.8,393.9 L368.3,393.98 L368.8,394.06 L369.3,394.14 L369.8,394.22 L370.3,394.3 L370.8,394.37 L371.3,394.45 L371.8,394.52 L372.3,394.59 L372.8,394.67 L373.3,394.74 L373.8,394.81 L374.3,394.88 L374.8,394.95 L375.3,395.02 L375.8,395.08 L376.3,395.15 L376.8,395.22 L377.3,395.28 L377.8,395.34 L378.3,395.4 L378.8,395.46 L379.3,395.52 L379.8,395.58 L380.3,395.64 L380.8,395.7 L381.3,395.76 L381.8,395.81 L382.3,395.87 L382.8,395.93 L383.3,395.98 L383.8,396.04 L384.3,396.09 L384.8,396.15 L385.3,396.2 L385.8,396.25 L386.3,396.31 L386.8,396.36 L387.3,396.41 L387.8,396.46 L388.3,396.51 L388.8,396.56 L389.3,396.61 L389.8,396.66 L390.3,396.71 L390.8,396.75 L391.3,396.8 L391.8,396.85 L392.3,396.89 L392.8,396.94 L393.3,396.98 L393.8,397.02 L394.3,397.06 L394.8,397.1 L395.3,397.14 L395.8,397.18 L396.3,397.22 L396.8,397.26 L397.3,397.3 L397.8,397.33 L398.3,397.37 L398.8,397.4 L399.3,397.43 L399.8,397.47 L400.3,397.5 L400.8,397.53 L401.3,397.56 L401.8,397.59 L402.3,397.62 L402.8,397.65 L403.3,397.68 L403.8,397.71 L404.3,397.74 L404.8,397.77 L405.3,397.8 L405.8,397.83 L406.3,397.86 L406.8,397.89 L407.3,397.91 L407.8,397.94 L408.3,397.96 L408.8,397.99 L409.3,398.02 L409.8,398.04 L410.3,398.07 L410.8,398.09 L411.3,398.11 L411.8,398.14 L412.3,398.16 L412.8,398.18 L413.3,398.2 L413.8,398.22 L414.3,398.24 L414.8,398.26 L415.3,398.28 L415.8,398.3 L416.3,398.32 L416.8,398.34 L417.3,398.36 L417.8,398.38 L418.3,398.39 L418.8,398.41 L419.3,398.43 L419.8,398.44 L420.3,398.46 L420.8,398.48 L421.3,398.49 L421.8,398.51 L422.3,398.52 L422.8,398.54 L423.3,398.56 L423.8,398.57 L424.3,398.59 L424.8,398.6 L425.3,398.62 L425.8,398.63 L426.3,398.65 L426.8,398.66 L427.3,398.68 L427.8,398.7 L428.3,398.71 L428.8,398.72 L429.3,398.74 L429.8,398.75 L430.3,398.77 L430.8,398.78 L431.3,398.8 L431.8,398.81 L432.3,398.83 L432.8,398.84 L433.3,398.85 L433.8,398.87 L434.3,398.88 L434.8,398.89 L435.3,398.9 L435.8,398.92 L436.3,398.93 L436.8,398.94 L437.3,398.95 L437.8,398.97 L438.3,398.98 L438.8,398.99 L439.3,399 L439.8,399.01 L440.3,399.02 L440.8,399.03 L441.3,399.04 L441.8,399.05 L442.3,399.06 L442.8,399.07 L443.3,399.08 L443.8,399.09 L444.3,399.1 L444.8,399.11 L445.3,399.11 L445.8,399.12 L446.3,399.13 L446.8,399.14 L447.3,399.14 L447.8,399.15 L448.3,399.16 L448.8,399.16 L449.3,399.17 L449.8,399.17 L450.3,399.18 L450.8,399.18 L451.3,399.19 L451.8,399.19 L452.3,399.19 L452.8,399.2 L453.3,399.2" fill="none" stroke="#1f3f78" stroke-width="1.4" stroke-linejoin="round" stroke-linecap="round" />
</g>
<line x1="492.2" y1="240" x2="492.2" y2="421.3" stroke="#8c8c8c" stroke-width="0.9" stroke-dasharray="2.2,1.3"/>
<line x1="492.2" y1="262.5" x2="647.8" y2="262.5" stroke="#909090" stroke-width="0.85" stroke-dasharray="2.6,0.6,2.6,1.2"/>
<rect x="476.95" y="240" width="170.85" height="181.3" fill="none" stroke="#5c5c5c" stroke-width="1.05"/>
<line x1="492.2" y1="421.3" x2="492.2" y2="416.3" stroke="#5c5c5c" stroke-width="0.9" />
<line x1="554.4" y1="421.3" x2="554.4" y2="416.3" stroke="#5c5c5c" stroke-width="0.9" />
<line x1="616.6" y1="421.3" x2="616.6" y2="416.3" stroke="#5c5c5c" stroke-width="0.9" />
<line x1="476.65" y1="421.3" x2="476.65" y2="418.8" stroke="#5c5c5c" stroke-width="0.9" />
<line x1="507.75" y1="421.3" x2="507.75" y2="418.8" stroke="#5c5c5c" stroke-width="0.9" />
<line x1="523.3" y1="421.3" x2="523.3" y2="418.8" stroke="#5c5c5c" stroke-width="0.9" />
<line x1="538.85" y1="421.3" x2="538.85" y2="418.8" stroke="#5c5c5c" stroke-width="0.9" />
<line x1="569.95" y1="421.3" x2="569.95" y2="418.8" stroke="#5c5c5c" stroke-width="0.9" />
<line x1="585.5" y1="421.3" x2="585.5" y2="418.8" stroke="#5c5c5c" stroke-width="0.9" />
<line x1="601.05" y1="421.3" x2="601.05" y2="418.8" stroke="#5c5c5c" stroke-width="0.9" />
<line x1="632.15" y1="421.3" x2="632.15" y2="418.8" stroke="#5c5c5c" stroke-width="0.9" />
<line x1="647.8" y1="421.2" x2="642.8" y2="421.2" stroke="#5c5c5c" stroke-width="0.9" />
<line x1="647.8" y1="389.42" x2="642.8" y2="389.42" stroke="#5c5c5c" stroke-width="0.9" />
<line x1="647.8" y1="357.64" x2="642.8" y2="357.64" stroke="#5c5c5c" stroke-width="0.9" />
<line x1="647.8" y1="325.86" x2="642.8" y2="325.86" stroke="#5c5c5c" stroke-width="0.9" />
<line x1="647.8" y1="294.08" x2="642.8" y2="294.08" stroke="#5c5c5c" stroke-width="0.9" />
<line x1="647.8" y1="262.3" x2="642.8" y2="262.3" stroke="#5c5c5c" stroke-width="0.9" />
<line x1="647.8" y1="414.84" x2="645.3" y2="414.84" stroke="#5c5c5c" stroke-width="0.9" />
<line x1="647.8" y1="408.49" x2="645.3" y2="408.49" stroke="#5c5c5c" stroke-width="0.9" />
<line x1="647.8" y1="402.13" x2="645.3" y2="402.13" stroke="#5c5c5c" stroke-width="0.9" />
<line x1="647.8" y1="395.78" x2="645.3" y2="395.78" stroke="#5c5c5c" stroke-width="0.9" />
<line x1="647.8" y1="383.06" x2="645.3" y2="383.06" stroke="#5c5c5c" stroke-width="0.9" />
<line x1="647.8" y1="376.71" x2="645.3" y2="376.71" stroke="#5c5c5c" stroke-width="0.9" />
<line x1="647.8" y1="370.35" x2="645.3" y2="370.35" stroke="#5c5c5c" stroke-width="0.9" />
<line x1="647.8" y1="364" x2="645.3" y2="364" stroke="#5c5c5c" stroke-width="0.9" />
<line x1="647.8" y1="351.28" x2="645.3" y2="351.28" stroke="#5c5c5c" stroke-width="0.9" />
<line x1="647.8" y1="344.93" x2="645.3" y2="344.93" stroke="#5c5c5c" stroke-width="0.9" />
<line x1="647.8" y1="338.57" x2="645.3" y2="338.57" stroke="#5c5c5c" stroke-width="0.9" />
<line x1="647.8" y1="332.22" x2="645.3" y2="332.22" stroke="#5c5c5c" stroke-width="0.9" />
<line x1="647.8" y1="319.5" x2="645.3" y2="319.5" stroke="#5c5c5c" stroke-width="0.9" />
<line x1="647.8" y1="313.15" x2="645.3" y2="313.15" stroke="#5c5c5c" stroke-width="0.9" />
<line x1="647.8" y1="306.79" x2="645.3" y2="306.79" stroke="#5c5c5c" stroke-width="0.9" />
<line x1="647.8" y1="300.44" x2="645.3" y2="300.44" stroke="#5c5c5c" stroke-width="0.9" />
<line x1="647.8" y1="287.72" x2="645.3" y2="287.72" stroke="#5c5c5c" stroke-width="0.9" />
<line x1="647.8" y1="281.37" x2="645.3" y2="281.37" stroke="#5c5c5c" stroke-width="0.9" />
<line x1="647.8" y1="275.01" x2="645.3" y2="275.01" stroke="#5c5c5c" stroke-width="0.9" />
<line x1="647.8" y1="268.66" x2="645.3" y2="268.66" stroke="#5c5c5c" stroke-width="0.9" />
<line x1="647.8" y1="255.94" x2="645.3" y2="255.94" stroke="#5c5c5c" stroke-width="0.9" />
<line x1="647.8" y1="249.59" x2="645.3" y2="249.59" stroke="#5c5c5c" stroke-width="0.9" />
<line x1="647.8" y1="243.23" x2="645.3" y2="243.23" stroke="#5c5c5c" stroke-width="0.9" />
<text x="492.2" y="434" font-size="11" text-anchor="middle" fill="#383838" >0</text>
<text x="554.4" y="434" font-size="11" text-anchor="middle" fill="#383838" >200</text>
<text x="616.6" y="434" font-size="11" text-anchor="middle" fill="#383838" >400</text>
<text x="651.6" y="425.1" font-size="11" text-anchor="start" fill="#383838" >0.5</text>
<text x="651.6" y="393.32" font-size="11" text-anchor="start" fill="#383838" >0.6</text>
<text x="651.6" y="361.54" font-size="11" text-anchor="start" fill="#383838" >0.7</text>
<text x="651.6" y="329.76" font-size="11" text-anchor="start" fill="#383838" >0.8</text>
<text x="651.6" y="297.98" font-size="11" text-anchor="start" fill="#383838" >0.9</text>
<text x="651.6" y="266.2" font-size="11" text-anchor="start" fill="#383838" >1.0</text>
<text x="560" y="449.9" font-size="11" text-anchor="middle" fill="#383838" >Delay,<tspan font-style="italic" dx="3">t</tspan> (ps)</text>
<text x="563.2" y="255.9" font-size="11" text-anchor="middle" fill="#383838" >Gd</text>
<text x="0" y="0" font-size="11" text-anchor="middle" fill="#383838" transform="translate(682,331.2) rotate(-90)">Magnetisation, <tspan font-style="italic">M</tspan></text>
<text x="462" y="243.5" font-size="16" text-anchor="start" fill="#000" font-weight="bold">e</text>
<text x="641.2" y="288.4" font-size="11" text-anchor="end" fill="#82b9e0" >5 mJ/cm<tspan font-size="8" dy="-4.5">2</tspan></text>
<text x="641.2" y="314.5" font-size="11" text-anchor="end" fill="#4790cc" >10 mJ/cm<tspan font-size="8" dy="-4.5">2</tspan></text>
<text x="641.2" y="345.5" font-size="11" text-anchor="end" fill="#3169ab" >15 mJ/cm<tspan font-size="8" dy="-4.5">2</tspan></text>
<text x="641.2" y="384" font-size="11" text-anchor="end" fill="#27467c" >25 mJ/cm<tspan font-size="8" dy="-4.5">2</tspan></text>
<g clip-path="url(#ce)">
<line x1="529" y1="294.4" x2="529" y2="298.4" stroke="#86bde3" stroke-opacity="0.6" stroke-width="1.1"/><line x1="543.9" y1="295.8" x2="543.9" y2="299.8" stroke="#86bde3" stroke-opacity="0.6" stroke-width="1.1"/><line x1="558.7" y1="294.9" x2="558.7" y2="298.9" stroke="#86bde3" stroke-opacity="0.6" stroke-width="1.1"/><line x1="573.5" y1="294" x2="573.5" y2="298" stroke="#86bde3" stroke-opacity="0.6" stroke-width="1.1"/><line x1="588.2" y1="296.5" x2="588.2" y2="300.5" stroke="#86bde3" stroke-opacity="0.6" stroke-width="1.1"/><line x1="603.3" y1="298" x2="603.3" y2="302" stroke="#86bde3" stroke-opacity="0.6" stroke-width="1.1"/><line x1="618.1" y1="298" x2="618.1" y2="302" stroke="#86bde3" stroke-opacity="0.6" stroke-width="1.1"/><line x1="632.8" y1="292.8" x2="632.8" y2="296.8" stroke="#86bde3" stroke-opacity="0.6" stroke-width="1.1"/><line x1="647.3" y1="293.4" x2="647.3" y2="297.4" stroke="#86bde3" stroke-opacity="0.6" stroke-width="1.1"/><circle cx="477.95" cy="261.46" r="2.0" fill="#86bde3" fill-opacity="0.75"/><circle cx="479.12" cy="263.14" r="2.0" fill="#86bde3" fill-opacity="0.75"/><circle cx="480.3" cy="262.69" r="2.0" fill="#86bde3" fill-opacity="0.75"/><circle cx="481.47" cy="262.51" r="2.0" fill="#86bde3" fill-opacity="0.75"/><circle cx="482.64" cy="261.67" r="2.0" fill="#86bde3" fill-opacity="0.75"/><circle cx="483.82" cy="264.44" r="2.0" fill="#86bde3" fill-opacity="0.75"/><circle cx="484.99" cy="265.39" r="2.0" fill="#86bde3" fill-opacity="0.75"/><circle cx="486.16" cy="263.26" r="2.0" fill="#86bde3" fill-opacity="0.75"/><circle cx="487.33" cy="265.31" r="2.0" fill="#86bde3" fill-opacity="0.75"/><circle cx="488.51" cy="266.03" r="2.0" fill="#86bde3" fill-opacity="0.75"/><circle cx="489.68" cy="265.63" r="2.0" fill="#86bde3" fill-opacity="0.75"/><circle cx="490.85" cy="265.2" r="2.0" fill="#86bde3" fill-opacity="0.75"/><circle cx="492.03" cy="264.42" r="2.0" fill="#86bde3" fill-opacity="0.75"/><circle cx="493.2" cy="268.7" r="2.0" fill="#86bde3" fill-opacity="0.75"/><circle cx="480.5" cy="257.8" r="2.0" fill="#86bde3" fill-opacity="0.75"/><circle cx="494.8" cy="276" r="2.0" fill="#86bde3" fill-opacity="0.75"/><circle cx="496.5" cy="283" r="2.0" fill="#86bde3" fill-opacity="0.75"/><circle cx="497.7" cy="288.7" r="2.0" fill="#86bde3" fill-opacity="0.75"/><circle cx="500" cy="292.9" r="2.0" fill="#86bde3" fill-opacity="0.75"/><circle cx="502.6" cy="294.3" r="2.0" fill="#86bde3" fill-opacity="0.75"/><circle cx="505.2" cy="299" r="2.0" fill="#86bde3" fill-opacity="0.75"/><circle cx="507.5" cy="296.4" r="2.0" fill="#86bde3" fill-opacity="0.75"/><circle cx="509.6" cy="297.8" r="2.0" fill="#86bde3" fill-opacity="0.75"/><circle cx="512.3" cy="300.8" r="2.0" fill="#86bde3" fill-opacity="0.75"/><circle cx="514" cy="295.5" r="2.0" fill="#86bde3" fill-opacity="0.75"/><circle cx="529" cy="296.4" r="2.0" fill="#86bde3" fill-opacity="0.75"/><circle cx="543.9" cy="297.8" r="2.0" fill="#86bde3" fill-opacity="0.75"/><circle cx="558.7" cy="296.9" r="2.0" fill="#86bde3" fill-opacity="0.75"/><circle cx="573.5" cy="296" r="2.0" fill="#86bde3" fill-opacity="0.75"/><circle cx="588.2" cy="298.5" r="2.0" fill="#86bde3" fill-opacity="0.75"/><circle cx="603.3" cy="300" r="2.0" fill="#86bde3" fill-opacity="0.75"/><circle cx="618.1" cy="300" r="2.0" fill="#86bde3" fill-opacity="0.75"/><circle cx="632.8" cy="294.8" r="2.0" fill="#86bde3" fill-opacity="0.75"/><circle cx="647.3" cy="295.4" r="2.0" fill="#86bde3" fill-opacity="0.75"/>
<line x1="529" y1="323.6" x2="529" y2="329.6" stroke="#4a95cf" stroke-opacity="0.6" stroke-width="1.1"/><line x1="543.9" y1="325.2" x2="543.9" y2="330.2" stroke="#4a95cf" stroke-opacity="0.6" stroke-width="1.1"/><line x1="558.7" y1="323.2" x2="558.7" y2="329.2" stroke="#4a95cf" stroke-opacity="0.6" stroke-width="1.1"/><line x1="573.5" y1="323.5" x2="573.5" y2="327.5" stroke="#4a95cf" stroke-opacity="0.6" stroke-width="1.1"/><line x1="588.2" y1="325.7" x2="588.2" y2="329.7" stroke="#4a95cf" stroke-opacity="0.6" stroke-width="1.1"/><line x1="603.3" y1="326.6" x2="603.3" y2="330.6" stroke="#4a95cf" stroke-opacity="0.6" stroke-width="1.1"/><line x1="618.1" y1="326.6" x2="618.1" y2="330.6" stroke="#4a95cf" stroke-opacity="0.6" stroke-width="1.1"/><line x1="632.8" y1="324.2" x2="632.8" y2="328.2" stroke="#4a95cf" stroke-opacity="0.6" stroke-width="1.1"/><circle cx="477.95" cy="263.89" r="2.0" fill="#4a95cf" fill-opacity="0.75"/><circle cx="479.12" cy="264.43" r="2.0" fill="#4a95cf" fill-opacity="0.75"/><circle cx="480.3" cy="264.11" r="2.0" fill="#4a95cf" fill-opacity="0.75"/><circle cx="481.47" cy="264.43" r="2.0" fill="#4a95cf" fill-opacity="0.75"/><circle cx="482.64" cy="265.14" r="2.0" fill="#4a95cf" fill-opacity="0.75"/><circle cx="483.82" cy="264.48" r="2.0" fill="#4a95cf" fill-opacity="0.75"/><circle cx="484.99" cy="265.31" r="2.0" fill="#4a95cf" fill-opacity="0.75"/><circle cx="486.16" cy="263.05" r="2.0" fill="#4a95cf" fill-opacity="0.75"/><circle cx="487.33" cy="265.22" r="2.0" fill="#4a95cf" fill-opacity="0.75"/><circle cx="488.51" cy="264.71" r="2.0" fill="#4a95cf" fill-opacity="0.75"/><circle cx="489.68" cy="264.08" r="2.0" fill="#4a95cf" fill-opacity="0.75"/><circle cx="490.85" cy="265.04" r="2.0" fill="#4a95cf" fill-opacity="0.75"/><circle cx="492.03" cy="265.26" r="2.0" fill="#4a95cf" fill-opacity="0.75"/><circle cx="493.2" cy="269.36" r="2.0" fill="#4a95cf" fill-opacity="0.75"/><circle cx="480.5" cy="259.5" r="2.0" fill="#4a95cf" fill-opacity="0.75"/><circle cx="495.8" cy="292" r="2.0" fill="#4a95cf" fill-opacity="0.75"/><circle cx="497" cy="303" r="2.0" fill="#4a95cf" fill-opacity="0.75"/><circle cx="498.5" cy="309" r="2.0" fill="#4a95cf" fill-opacity="0.75"/><circle cx="500" cy="314" r="2.0" fill="#4a95cf" fill-opacity="0.75"/><circle cx="502.2" cy="321.9" r="2.0" fill="#4a95cf" fill-opacity="0.75"/><circle cx="504.3" cy="325.4" r="2.0" fill="#4a95cf" fill-opacity="0.75"/><circle cx="505.7" cy="330.7" r="2.0" fill="#4a95cf" fill-opacity="0.75"/><circle cx="507.9" cy="326.3" r="2.0" fill="#4a95cf" fill-opacity="0.75"/><circle cx="509.6" cy="327.1" r="2.0" fill="#4a95cf" fill-opacity="0.75"/><circle cx="511.4" cy="328" r="2.0" fill="#4a95cf" fill-opacity="0.75"/><circle cx="513.5" cy="328.9" r="2.0" fill="#4a95cf" fill-opacity="0.75"/><circle cx="529" cy="326.6" r="2.0" fill="#4a95cf" fill-opacity="0.75"/><circle cx="543.9" cy="327.7" r="2.0" fill="#4a95cf" fill-opacity="0.75"/><circle cx="558.7" cy="326.2" r="2.0" fill="#4a95cf" fill-opacity="0.75"/><circle cx="573.5" cy="325.5" r="2.0" fill="#4a95cf" fill-opacity="0.75"/><circle cx="588.2" cy="327.7" r="2.0" fill="#4a95cf" fill-opacity="0.75"/><circle cx="603.3" cy="328.6" r="2.0" fill="#4a95cf" fill-opacity="0.75"/><circle cx="618.1" cy="328.6" r="2.0" fill="#4a95cf" fill-opacity="0.75"/><circle cx="632.8" cy="326.2" r="2.0" fill="#4a95cf" fill-opacity="0.75"/>
<line x1="529" y1="360.9" x2="529" y2="365.9" stroke="#2f66a8" stroke-opacity="0.6" stroke-width="1.1"/><line x1="543.9" y1="364.3" x2="543.9" y2="371.3" stroke="#2f66a8" stroke-opacity="0.6" stroke-width="1.1"/><line x1="558.7" y1="363.8" x2="558.7" y2="369.8" stroke="#2f66a8" stroke-opacity="0.6" stroke-width="1.1"/><line x1="573.5" y1="365.2" x2="573.5" y2="370.2" stroke="#2f66a8" stroke-opacity="0.6" stroke-width="1.1"/><line x1="588.2" y1="365.7" x2="588.2" y2="369.7" stroke="#2f66a8" stroke-opacity="0.6" stroke-width="1.1"/><line x1="603.3" y1="366.2" x2="603.3" y2="372.2" stroke="#2f66a8" stroke-opacity="0.6" stroke-width="1.1"/><line x1="618.1" y1="364.2" x2="618.1" y2="368.2" stroke="#2f66a8" stroke-opacity="0.6" stroke-width="1.1"/><line x1="632.8" y1="358.5" x2="632.8" y2="364.5" stroke="#2f66a8" stroke-opacity="0.6" stroke-width="1.1"/><circle cx="477.95" cy="261.08" r="2.0" fill="#2f66a8" fill-opacity="0.75"/><circle cx="479.12" cy="264.31" r="2.0" fill="#2f66a8" fill-opacity="0.75"/><circle cx="480.3" cy="262.48" r="2.0" fill="#2f66a8" fill-opacity="0.75"/><circle cx="481.47" cy="263.78" r="2.0" fill="#2f66a8" fill-opacity="0.75"/><circle cx="482.64" cy="263.82" r="2.0" fill="#2f66a8" fill-opacity="0.75"/><circle cx="483.82" cy="265.26" r="2.0" fill="#2f66a8" fill-opacity="0.75"/><circle cx="484.99" cy="263.54" r="2.0" fill="#2f66a8" fill-opacity="0.75"/><circle cx="486.16" cy="262.8" r="2.0" fill="#2f66a8" fill-opacity="0.75"/><circle cx="487.33" cy="262.84" r="2.0" fill="#2f66a8" fill-opacity="0.75"/><circle cx="488.51" cy="262.79" r="2.0" fill="#2f66a8" fill-opacity="0.75"/><circle cx="489.68" cy="265.6" r="2.0" fill="#2f66a8" fill-opacity="0.75"/><circle cx="490.85" cy="263.99" r="2.0" fill="#2f66a8" fill-opacity="0.75"/><circle cx="492.03" cy="267.16" r="2.0" fill="#2f66a8" fill-opacity="0.75"/><circle cx="493.2" cy="270.34" r="2.0" fill="#2f66a8" fill-opacity="0.75"/><circle cx="496.5" cy="310" r="2.0" fill="#2f66a8" fill-opacity="0.75"/><circle cx="497.8" cy="330" r="2.0" fill="#2f66a8" fill-opacity="0.75"/><circle cx="499.2" cy="336" r="2.0" fill="#2f66a8" fill-opacity="0.75"/><circle cx="500.5" cy="341.4" r="2.0" fill="#2f66a8" fill-opacity="0.75"/><circle cx="502.2" cy="350.7" r="2.0" fill="#2f66a8" fill-opacity="0.75"/><circle cx="504.3" cy="355.5" r="2.0" fill="#2f66a8" fill-opacity="0.75"/><circle cx="506.1" cy="356" r="2.0" fill="#2f66a8" fill-opacity="0.75"/><circle cx="507.9" cy="356" r="2.0" fill="#2f66a8" fill-opacity="0.75"/><circle cx="509.6" cy="356" r="2.0" fill="#2f66a8" fill-opacity="0.75"/><circle cx="511" cy="364.3" r="2.0" fill="#2f66a8" fill-opacity="0.75"/><circle cx="513.5" cy="360.2" r="2.0" fill="#2f66a8" fill-opacity="0.75"/><circle cx="529" cy="363.4" r="2.0" fill="#2f66a8" fill-opacity="0.75"/><circle cx="543.9" cy="367.8" r="2.0" fill="#2f66a8" fill-opacity="0.75"/><circle cx="558.7" cy="366.8" r="2.0" fill="#2f66a8" fill-opacity="0.75"/><circle cx="573.5" cy="367.7" r="2.0" fill="#2f66a8" fill-opacity="0.75"/><circle cx="588.2" cy="367.7" r="2.0" fill="#2f66a8" fill-opacity="0.75"/><circle cx="603.3" cy="369.2" r="2.0" fill="#2f66a8" fill-opacity="0.75"/><circle cx="618.1" cy="366.2" r="2.0" fill="#2f66a8" fill-opacity="0.75"/><circle cx="632.8" cy="361.5" r="2.0" fill="#2f66a8" fill-opacity="0.75"/>
<line x1="529" y1="388.4" x2="529" y2="396.4" stroke="#1f3f78" stroke-opacity="0.6" stroke-width="1.1"/><line x1="543.9" y1="395.4" x2="543.9" y2="403.4" stroke="#1f3f78" stroke-opacity="0.6" stroke-width="1.1"/><line x1="558.7" y1="399.1" x2="558.7" y2="407.1" stroke="#1f3f78" stroke-opacity="0.6" stroke-width="1.1"/><line x1="573.5" y1="396.9" x2="573.5" y2="404.9" stroke="#1f3f78" stroke-opacity="0.6" stroke-width="1.1"/><line x1="588.2" y1="402.2" x2="588.2" y2="410.2" stroke="#1f3f78" stroke-opacity="0.6" stroke-width="1.1"/><line x1="603.3" y1="404.6" x2="603.3" y2="412.6" stroke="#1f3f78" stroke-opacity="0.6" stroke-width="1.1"/><line x1="618.1" y1="403.7" x2="618.1" y2="411.7" stroke="#1f3f78" stroke-opacity="0.6" stroke-width="1.1"/><line x1="632.8" y1="408.9" x2="632.8" y2="416.9" stroke="#1f3f78" stroke-opacity="0.6" stroke-width="1.1"/><line x1="647.6" y1="400" x2="647.6" y2="408" stroke="#1f3f78" stroke-opacity="0.6" stroke-width="1.1"/><circle cx="477.95" cy="261.4" r="2.0" fill="#1f3f78" fill-opacity="0.75"/><circle cx="479.12" cy="263.6" r="2.0" fill="#1f3f78" fill-opacity="0.75"/><circle cx="480.3" cy="262.41" r="2.0" fill="#1f3f78" fill-opacity="0.75"/><circle cx="481.47" cy="262.06" r="2.0" fill="#1f3f78" fill-opacity="0.75"/><circle cx="482.64" cy="265" r="2.0" fill="#1f3f78" fill-opacity="0.75"/><circle cx="483.82" cy="262.87" r="2.0" fill="#1f3f78" fill-opacity="0.75"/><circle cx="484.99" cy="264.38" r="2.0" fill="#1f3f78" fill-opacity="0.75"/><circle cx="486.16" cy="264.23" r="2.0" fill="#1f3f78" fill-opacity="0.75"/><circle cx="487.33" cy="265.3" r="2.0" fill="#1f3f78" fill-opacity="0.75"/><circle cx="488.51" cy="265.8" r="2.0" fill="#1f3f78" fill-opacity="0.75"/><circle cx="489.68" cy="265.16" r="2.0" fill="#1f3f78" fill-opacity="0.75"/><circle cx="490.85" cy="266.22" r="2.0" fill="#1f3f78" fill-opacity="0.75"/><circle cx="492.03" cy="266.87" r="2.0" fill="#1f3f78" fill-opacity="0.75"/><circle cx="493.2" cy="269.85" r="2.0" fill="#1f3f78" fill-opacity="0.75"/><circle cx="496" cy="300" r="2.0" fill="#1f3f78" fill-opacity="0.75"/><circle cx="497.2" cy="320" r="2.0" fill="#1f3f78" fill-opacity="0.75"/><circle cx="498" cy="340" r="2.0" fill="#1f3f78" fill-opacity="0.75"/><circle cx="499.1" cy="359" r="2.0" fill="#1f3f78" fill-opacity="0.75"/><circle cx="501.7" cy="371.8" r="2.0" fill="#1f3f78" fill-opacity="0.75"/><circle cx="503.5" cy="379.2" r="2.0" fill="#1f3f78" fill-opacity="0.75"/><circle cx="505.2" cy="379.2" r="2.0" fill="#1f3f78" fill-opacity="0.75"/><circle cx="507" cy="381" r="2.0" fill="#1f3f78" fill-opacity="0.75"/><circle cx="508.7" cy="382.7" r="2.0" fill="#1f3f78" fill-opacity="0.75"/><circle cx="510.5" cy="387.1" r="2.0" fill="#1f3f78" fill-opacity="0.75"/><circle cx="512.3" cy="388" r="2.0" fill="#1f3f78" fill-opacity="0.75"/><circle cx="514" cy="386.3" r="2.0" fill="#1f3f78" fill-opacity="0.75"/><circle cx="529" cy="392.4" r="2.0" fill="#1f3f78" fill-opacity="0.75"/><circle cx="543.9" cy="399.4" r="2.0" fill="#1f3f78" fill-opacity="0.75"/><circle cx="558.7" cy="403.1" r="2.0" fill="#1f3f78" fill-opacity="0.75"/><circle cx="573.5" cy="400.9" r="2.0" fill="#1f3f78" fill-opacity="0.75"/><circle cx="588.2" cy="406.2" r="2.0" fill="#1f3f78" fill-opacity="0.75"/><circle cx="603.3" cy="408.6" r="2.0" fill="#1f3f78" fill-opacity="0.75"/><circle cx="618.1" cy="407.7" r="2.0" fill="#1f3f78" fill-opacity="0.75"/><circle cx="632.8" cy="412.9" r="2.0" fill="#1f3f78" fill-opacity="0.75"/><circle cx="647.6" cy="404" r="2.0" fill="#1f3f78" fill-opacity="0.75"/>
<path d="M476.95,262.5 L477.45,262.56 L477.95,262.61 L478.45,262.68 L478.95,262.75 L479.45,262.82 L479.95,262.89 L480.45,262.97 L480.95,263.05 L481.45,263.13 L481.95,263.22 L482.45,263.31 L482.95,263.4 L483.45,263.5 L483.95,263.59 L484.45,263.69 L484.95,263.79 L485.45,263.89 L485.95,263.98 L486.45,264.07 L486.95,264.16 L487.45,264.25 L487.95,264.35 L488.45,264.45 L488.95,264.57 L489.45,264.71 L489.95,264.87 L490.45,265.04 L490.95,265.25 L491.45,265.48 L491.95,265.8 L492.45,266.33 L492.95,267.09 L493.45,268.13 L493.95,270.7 L494.45,274.49 L494.95,277.98 L495.45,281.41 L495.95,284.65 L496.45,287.17 L496.95,289.26 L497.45,291.02 L497.95,292.39 L498.45,293.44 L498.95,294.37 L499.45,295.17 L499.95,295.8 L500.45,296.26 L500.95,296.6 L501.45,296.9 L501.95,297.16 L502.45,297.38 L502.95,297.56 L503.45,297.7 L503.95,297.79 L504.45,297.86 L504.95,297.91 L505.45,297.97 L505.95,298.01 L506.45,298.05 L506.95,298.08 L507.45,298.09 L507.95,298.1 L508.45,298.1 L508.95,298.1 L509.45,298.1 L509.95,298.1 L510.45,298.1 L510.95,298.1 L511.45,298.1 L511.95,298.1 L512.45,298.1 L512.95,298.1 L513.45,298.1 L513.95,298.1 L514.45,298.1 L514.95,298.1 L515.45,298.1 L515.95,298.1 L516.45,298.1 L516.95,298.1 L517.45,298.1 L517.95,298.1 L518.45,298.1 L518.95,298.1 L519.45,298.1 L519.95,298.1 L520.45,298.1 L520.95,298.1 L521.45,298.1 L521.95,298.1 L522.45,298.1 L522.95,298.1 L523.45,298.1 L523.95,298.1 L524.45,298.1 L524.95,298.1 L525.45,298.1 L525.95,298.1 L526.45,298.1 L526.95,298.1 L527.45,298.1 L527.95,298.1 L528.45,298.1 L528.95,298.1 L529.45,298.1 L529.95,298.1 L530.45,298.1 L530.95,298.1 L531.45,298.1 L531.95,298.1 L532.45,298.1 L532.95,298.1 L533.45,298.1 L533.95,298.1 L534.45,298.1 L534.95,298.1 L535.45,298.1 L535.95,298.1 L536.45,298.1 L536.95,298.1 L537.45,298.1 L537.95,298.1 L538.45,298.1 L538.95,298.1 L539.45,298.1 L539.95,298.1 L540.45,298.1 L540.95,298.1 L541.45,298.1 L541.95,298.1 L542.45,298.1 L542.95,298.1 L543.45,298.1 L543.95,298.1 L544.45,298.1 L544.95,298.1 L545.45,298.1 L545.95,298.1 L546.45,298.1 L546.95,298.1 L547.45,298.1 L547.95,298.1 L548.45,298.1 L548.95,298.1 L549.45,298.1 L549.95,298.1 L550.45,298.1 L550.95,298.1 L551.45,298.1 L551.95,298.1 L552.45,298.1 L552.95,298.1 L553.45,298.1 L553.95,298.1 L554.45,298.1 L554.95,298.1 L555.45,298.1 L555.95,298.1 L556.45,298.1 L556.95,298.1 L557.45,298.1 L557.95,298.1 L558.45,298.1 L558.95,298.1 L559.45,298.1 L559.95,298.1 L560.45,298.1 L560.95,298.1 L561.45,298.1 L561.95,298.1 L562.45,298.1 L562.95,298.1 L563.45,298.1 L563.95,298.1 L564.45,298.1 L564.95,298.1 L565.45,298.1 L565.95,298.1 L566.45,298.1 L566.95,298.1 L567.45,298.1 L567.95,298.1 L568.45,298.1 L568.95,298.1 L569.45,298.1 L569.95,298.1 L570.45,298.1 L570.95,298.1 L571.45,298.1 L571.95,298.1 L572.45,298.1 L572.95,298.1 L573.45,298.1 L573.95,298.1 L574.45,298.1 L574.95,298.1 L575.45,298.1 L575.95,298.1 L576.45,298.1 L576.95,298.1 L577.45,298.1 L577.95,298.1 L578.45,298.1 L578.95,298.1 L579.45,298.1 L579.95,298.1 L580.45,298.1 L580.95,298.1 L581.45,298.1 L581.95,298.1 L582.45,298.1 L582.95,298.1 L583.45,298.1 L583.95,298.1 L584.45,298.1 L584.95,298.1 L585.45,298.1 L585.95,298.1 L586.45,298.1 L586.95,298.1 L587.45,298.1 L587.95,298.1 L588.45,298.1 L588.95,298.1 L589.45,298.1 L589.95,298.1 L590.45,298.1 L590.95,298.1 L591.45,298.1 L591.95,298.1 L592.45,298.1 L592.95,298.1 L593.45,298.1 L593.95,298.1 L594.45,298.1 L594.95,298.1 L595.45,298.1 L595.95,298.1 L596.45,298.1 L596.95,298.1 L597.45,298.1 L597.95,298.1 L598.45,298.1 L598.95,298.1 L599.45,298.1 L599.95,298.1 L600.45,298.1 L600.95,298.1 L601.45,298.1 L601.95,298.1 L602.45,298.1 L602.95,298.1 L603.45,298.1 L603.95,298.1 L604.45,298.1 L604.95,298.1 L605.45,298.1 L605.95,298.1 L606.45,298.1 L606.95,298.1 L607.45,298.1 L607.95,298.1 L608.45,298.1 L608.95,298.1 L609.45,298.1 L609.95,298.1 L610.45,298.1 L610.95,298.1 L611.45,298.1 L611.95,298.1 L612.45,298.1 L612.95,298.1 L613.45,298.1 L613.95,298.1 L614.45,298.1 L614.95,298.1 L615.45,298.1 L615.95,298.1 L616.45,298.1 L616.95,298.1 L617.45,298.1 L617.95,298.1 L618.45,298.1 L618.95,298.1 L619.45,298.1 L619.95,298.1 L620.45,298.1 L620.95,298.1 L621.45,298.1 L621.95,298.1 L622.45,298.1 L622.95,298.1 L623.45,298.1 L623.95,298.1 L624.45,298.1 L624.95,298.1 L625.45,298.1 L625.95,298.1 L626.45,298.1 L626.95,298.1 L627.45,298.1 L627.95,298.1 L628.45,298.1 L628.95,298.1 L629.45,298.1 L629.95,298.1 L630.45,298.1 L630.95,298.1 L631.45,298.1 L631.95,298.1 L632.45,298.1 L632.95,298.1 L633.45,298.1 L633.95,298.1 L634.45,298.1 L634.95,298.1 L635.45,298.1 L635.95,298.1 L636.45,298.1 L636.95,298.1 L637.45,298.1 L637.95,298.1 L638.45,298.1 L638.95,298.1 L639.45,298.1 L639.95,298.1 L640.45,298.1 L640.95,298.1 L641.45,298.1 L641.95,298.1 L642.45,298.1 L642.95,298.1 L643.45,298.1 L643.95,298.1 L644.45,298.1 L644.95,298.1 L645.45,298.1 L645.95,298.1 L646.45,298.1 L646.95,298.1 L647.45,298.1 L647.8,298.1" fill="none" stroke="#86bde3" stroke-width="1.4" stroke-linejoin="round" stroke-linecap="round" />
<path d="M476.95,262.5 L477.45,262.56 L477.95,262.61 L478.45,262.68 L478.95,262.75 L479.45,262.82 L479.95,262.89 L480.45,262.97 L480.95,263.05 L481.45,263.13 L481.95,263.22 L482.45,263.31 L482.95,263.4 L483.45,263.5 L483.95,263.59 L484.45,263.69 L484.95,263.79 L485.45,263.89 L485.95,263.98 L486.45,264.06 L486.95,264.15 L487.45,264.24 L487.95,264.34 L488.45,264.44 L488.95,264.56 L489.45,264.7 L489.95,264.86 L490.45,265.03 L490.95,265.24 L491.45,265.47 L491.95,265.81 L492.45,266.38 L492.95,267.22 L493.45,268.37 L493.95,271.21 L494.45,276.56 L494.95,282.46 L495.45,288.39 L495.95,294.88 L496.45,300.53 L496.95,304.95 L497.45,308.9 L497.95,312.19 L498.45,314.67 L498.95,316.77 L499.45,318.67 L499.95,320.35 L500.45,321.83 L500.95,323.07 L501.45,324.08 L501.95,324.88 L502.45,325.62 L502.95,326.3 L503.45,326.93 L503.95,327.49 L504.45,327.97 L504.95,328.37 L505.45,328.67 L505.95,328.86 L506.45,328.97 L506.95,329.07 L507.45,329.15 L507.95,329.24 L508.45,329.32 L508.95,329.39 L509.45,329.45 L509.95,329.51 L510.45,329.57 L510.95,329.62 L511.45,329.66 L511.95,329.7 L512.45,329.73 L512.95,329.76 L513.45,329.78 L513.95,329.79 L514.45,329.8 L514.95,329.8 L515.45,329.79 L515.95,329.78 L516.45,329.75 L516.95,329.72 L517.45,329.67 L517.95,329.62 L518.45,329.57 L518.95,329.5 L519.45,329.44 L519.95,329.36 L520.45,329.29 L520.95,329.21 L521.45,329.13 L521.95,329.05 L522.45,328.97 L522.95,328.89 L523.45,328.81 L523.95,328.73 L524.45,328.65 L524.95,328.58 L525.45,328.51 L525.95,328.44 L526.45,328.39 L526.95,328.33 L527.45,328.29 L527.95,328.25 L528.45,328.22 L528.95,328.2 L529.45,328.19 L529.95,328.17 L530.45,328.16 L530.95,328.15 L531.45,328.13 L531.95,328.12 L532.45,328.11 L532.95,328.1 L533.45,328.08 L533.95,328.07 L534.45,328.06 L534.95,328.05 L535.45,328.04 L535.95,328.02 L536.45,328.01 L536.95,328 L537.45,327.99 L537.95,327.98 L538.45,327.97 L538.95,327.96 L539.45,327.95 L539.95,327.94 L540.45,327.93 L540.95,327.92 L541.45,327.91 L541.95,327.9 L542.45,327.9 L542.95,327.89 L543.45,327.88 L543.95,327.87 L544.45,327.86 L544.95,327.85 L545.45,327.85 L545.95,327.84 L546.45,327.83 L546.95,327.83 L547.45,327.82 L547.95,327.81 L548.45,327.81 L548.95,327.8 L549.45,327.79 L549.95,327.79 L550.45,327.78 L550.95,327.78 L551.45,327.77 L551.95,327.77 L552.45,327.76 L552.95,327.76 L553.45,327.75 L553.95,327.75 L554.45,327.74 L554.95,327.74 L555.45,327.73 L555.95,327.73 L556.45,327.73 L556.95,327.72 L557.45,327.72 L557.95,327.72 L558.45,327.72 L558.95,327.71 L559.45,327.71 L559.95,327.71 L560.45,327.71 L560.95,327.71 L561.45,327.7 L561.95,327.7 L562.45,327.7 L562.95,327.7 L563.45,327.7 L563.95,327.7 L564.45,327.7 L564.95,327.7 L565.45,327.7 L565.95,327.7 L566.45,327.7 L566.95,327.7 L567.45,327.7 L567.95,327.7 L568.45,327.7 L568.95,327.7 L569.45,327.7 L569.95,327.7 L570.45,327.7 L570.95,327.7 L571.45,327.7 L571.95,327.7 L572.45,327.7 L572.95,327.7 L573.45,327.7 L573.95,327.7 L574.45,327.7 L574.95,327.7 L575.45,327.7 L575.95,327.7 L576.45,327.7 L576.95,327.7 L577.45,327.7 L577.95,327.7 L578.45,327.7 L578.95,327.7 L579.45,327.7 L579.95,327.7 L580.45,327.7 L580.95,327.7 L581.45,327.7 L581.95,327.7 L582.45,327.7 L582.95,327.7 L583.45,327.7 L583.95,327.7 L584.45,327.7 L584.95,327.7 L585.45,327.7 L585.95,327.7 L586.45,327.7 L586.95,327.7 L587.45,327.7 L587.95,327.7 L588.45,327.7 L588.95,327.7 L589.45,327.7 L589.95,327.7 L590.45,327.7 L590.95,327.7 L591.45,327.7 L591.95,327.7 L592.45,327.7 L592.95,327.7 L593.45,327.7 L593.95,327.7 L594.45,327.7 L594.95,327.7 L595.45,327.7 L595.95,327.7 L596.45,327.7 L596.95,327.7 L597.45,327.7 L597.95,327.7 L598.45,327.7 L598.95,327.7 L599.45,327.7 L599.95,327.7 L600.45,327.7 L600.95,327.7 L601.45,327.7 L601.95,327.7 L602.45,327.7 L602.95,327.7 L603.45,327.7 L603.95,327.7 L604.45,327.7 L604.95,327.7 L605.45,327.7 L605.95,327.7 L606.45,327.7 L606.95,327.7 L607.45,327.7 L607.95,327.7 L608.45,327.7 L608.95,327.7 L609.45,327.7 L609.95,327.7 L610.45,327.7 L610.95,327.7 L611.45,327.7 L611.95,327.7 L612.45,327.7 L612.95,327.7 L613.45,327.7 L613.95,327.7 L614.45,327.7 L614.95,327.7 L615.45,327.7 L615.95,327.7 L616.45,327.7 L616.95,327.7 L617.45,327.7 L617.95,327.7 L618.45,327.7 L618.95,327.7 L619.45,327.7 L619.95,327.7 L620.45,327.7 L620.95,327.7 L621.45,327.7 L621.95,327.7 L622.45,327.7 L622.95,327.7 L623.45,327.7 L623.95,327.7 L624.45,327.7 L624.95,327.7 L625.45,327.7 L625.95,327.7 L626.45,327.7 L626.95,327.7 L627.45,327.7 L627.95,327.7 L628.45,327.7 L628.95,327.7 L629.45,327.7 L629.95,327.7 L630.45,327.7 L630.95,327.7 L631.45,327.7 L631.95,327.7 L632.45,327.7 L632.95,327.7 L633.45,327.7 L633.95,327.7 L634.45,327.7 L634.95,327.7 L635.45,327.7 L635.95,327.7 L636.45,327.7 L636.95,327.7 L637.45,327.7 L637.95,327.7 L638.45,327.7 L638.95,327.7 L639.45,327.7 L639.95,327.7 L640.45,327.7 L640.95,327.7 L641.45,327.7 L641.95,327.7 L642.45,327.7 L642.95,327.7 L643.45,327.7 L643.95,327.7 L644.45,327.7 L644.95,327.7 L645.45,327.7 L645.95,327.7 L646.45,327.7 L646.95,327.7 L647.45,327.7 L647.8,327.7" fill="none" stroke="#4a95cf" stroke-width="1.4" stroke-linejoin="round" stroke-linecap="round" />
<path d="M476.95,262.5 L477.45,262.56 L477.95,262.61 L478.45,262.68 L478.95,262.75 L479.45,262.82 L479.95,262.89 L480.45,262.97 L480.95,263.05 L481.45,263.13 L481.95,263.22 L482.45,263.31 L482.95,263.4 L483.45,263.5 L483.95,263.59 L484.45,263.69 L484.95,263.79 L485.45,263.89 L485.95,263.97 L486.45,264.06 L486.95,264.14 L487.45,264.22 L487.95,264.32 L488.45,264.42 L488.95,264.54 L489.45,264.67 L489.95,264.83 L490.45,265.01 L490.95,265.23 L491.45,265.47 L491.95,265.89 L492.45,266.68 L492.95,267.89 L493.45,269.76 L493.95,275.04 L494.45,282.64 L494.95,291.72 L495.45,303.21 L495.95,312.34 L496.45,319.54 L496.95,325.65 L497.45,330.41 L497.95,334.08 L498.45,337.13 L498.95,339.76 L499.45,342.21 L499.95,344.6 L500.45,346.82 L500.95,348.73 L501.45,350.24 L501.95,351.28 L502.45,352.18 L502.95,353.02 L503.45,353.78 L503.95,354.47 L504.45,355.11 L504.95,355.68 L505.45,356.21 L505.95,356.68 L506.45,357.1 L506.95,357.48 L507.45,357.82 L507.95,358.13 L508.45,358.41 L508.95,358.68 L509.45,358.94 L509.95,359.19 L510.45,359.43 L510.95,359.66 L511.45,359.87 L511.95,360.08 L512.45,360.28 L512.95,360.47 L513.45,360.65 L513.95,360.82 L514.45,360.99 L514.95,361.15 L515.45,361.3 L515.95,361.45 L516.45,361.59 L516.95,361.72 L517.45,361.85 L517.95,361.98 L518.45,362.1 L518.95,362.22 L519.45,362.33 L519.95,362.44 L520.45,362.55 L520.95,362.66 L521.45,362.77 L521.95,362.88 L522.45,362.98 L522.95,363.08 L523.45,363.18 L523.95,363.28 L524.45,363.38 L524.95,363.47 L525.45,363.56 L525.95,363.65 L526.45,363.74 L526.95,363.83 L527.45,363.91 L527.95,364 L528.45,364.08 L528.95,364.16 L529.45,364.24 L529.95,364.31 L530.45,364.38 L530.95,364.45 L531.45,364.52 L531.95,364.59 L532.45,364.65 L532.95,364.72 L533.45,364.78 L533.95,364.84 L534.45,364.89 L534.95,364.95 L535.45,365 L535.95,365.05 L536.45,365.09 L536.95,365.14 L537.45,365.18 L537.95,365.22 L538.45,365.26 L538.95,365.3 L539.45,365.34 L539.95,365.38 L540.45,365.41 L540.95,365.45 L541.45,365.49 L541.95,365.53 L542.45,365.56 L542.95,365.6 L543.45,365.64 L543.95,365.67 L544.45,365.71 L544.95,365.74 L545.45,365.78 L545.95,365.81 L546.45,365.84 L546.95,365.88 L547.45,365.91 L547.95,365.94 L548.45,365.97 L548.95,366 L549.45,366.03 L549.95,366.06 L550.45,366.09 L550.95,366.12 L551.45,366.14 L551.95,366.17 L552.45,366.2 L552.95,366.22 L553.45,366.25 L553.95,366.27 L554.45,366.29 L554.95,366.32 L555.45,366.34 L555.95,366.36 L556.45,366.38 L556.95,366.4 L557.45,366.42 L557.95,366.44 L558.45,366.45 L558.95,366.47 L559.45,366.49 L559.95,366.5 L560.45,366.51 L560.95,366.53 L561.45,366.54 L561.95,366.55 L562.45,366.56 L562.95,366.57 L563.45,366.58 L563.95,366.59 L564.45,366.59 L564.95,366.6 L565.45,366.6 L565.95,366.61 L566.45,366.61 L566.95,366.62 L567.45,366.62 L567.95,366.63 L568.45,366.63 L568.95,366.64 L569.45,366.64 L569.95,366.65 L570.45,366.65 L570.95,366.66 L571.45,366.66 L571.95,366.67 L572.45,366.67 L572.95,366.68 L573.45,366.68 L573.95,366.69 L574.45,366.69 L574.95,366.69 L575.45,366.7 L575.95,366.7 L576.45,366.71 L576.95,366.71 L577.45,366.72 L577.95,366.72 L578.45,366.73 L578.95,366.73 L579.45,366.73 L579.95,366.74 L580.45,366.74 L580.95,366.75 L581.45,366.75 L581.95,366.75 L582.45,366.76 L582.95,366.76 L583.45,366.77 L583.95,366.77 L584.45,366.77 L584.95,366.78 L585.45,366.78 L585.95,366.78 L586.45,366.79 L586.95,366.79 L587.45,366.79 L587.95,366.8 L588.45,366.8 L588.95,366.81 L589.45,366.81 L589.95,366.81 L590.45,366.82 L590.95,366.82 L591.45,366.82 L591.95,366.83 L592.45,366.83 L592.95,366.83 L593.45,366.83 L593.95,366.84 L594.45,366.84 L594.95,366.84 L595.45,366.85 L595.95,366.85 L596.45,366.85 L596.95,366.86 L597.45,366.86 L597.95,366.86 L598.45,366.86 L598.95,366.87 L599.45,366.87 L599.95,366.87 L600.45,366.88 L600.95,366.88 L601.45,366.88 L601.95,366.88 L602.45,366.89 L602.95,366.89 L603.45,366.89 L603.95,366.89 L604.45,366.9 L604.95,366.9 L605.45,366.9 L605.95,366.9 L606.45,366.91 L606.95,366.91 L607.45,366.91 L607.95,366.91 L608.45,366.92 L608.95,366.92 L609.45,366.92 L609.95,366.92 L610.45,366.92 L610.95,366.93 L611.45,366.93 L611.95,366.93 L612.45,366.93 L612.95,366.93 L613.45,366.94 L613.95,366.94 L614.45,366.94 L614.95,366.94 L615.45,366.94 L615.95,366.95 L616.45,366.95 L616.95,366.95 L617.45,366.95 L617.95,366.95 L618.45,366.95 L618.95,366.96 L619.45,366.96 L619.95,366.96 L620.45,366.96 L620.95,366.96 L621.45,366.96 L621.95,366.96 L622.45,366.97 L622.95,366.97 L623.45,366.97 L623.95,366.97 L624.45,366.97 L624.95,366.97 L625.45,366.97 L625.95,366.97 L626.45,366.98 L626.95,366.98 L627.45,366.98 L627.95,366.98 L628.45,366.98 L628.95,366.98 L629.45,366.98 L629.95,366.98 L630.45,366.98 L630.95,366.99 L631.45,366.99 L631.95,366.99 L632.45,366.99 L632.95,366.99 L633.45,366.99 L633.95,366.99 L634.45,366.99 L634.95,366.99 L635.45,366.99 L635.95,366.99 L636.45,366.99 L636.95,366.99 L637.45,366.99 L637.95,366.99 L638.45,367 L638.95,367 L639.45,367 L639.95,367 L640.45,367 L640.95,367 L641.45,367 L641.95,367 L642.45,367 L642.95,367 L643.45,367 L643.95,367 L644.45,367 L644.95,367 L645.45,367 L645.95,367 L646.45,367 L646.95,367 L647.45,367 L647.8,367" fill="none" stroke="#2f66a8" stroke-width="1.4" stroke-linejoin="round" stroke-linecap="round" />
<path d="M476.95,262.5 L477.45,262.56 L477.95,262.61 L478.45,262.68 L478.95,262.75 L479.45,262.82 L479.95,262.89 L480.45,262.97 L480.95,263.05 L481.45,263.13 L481.95,263.22 L482.45,263.31 L482.95,263.4 L483.45,263.5 L483.95,263.59 L484.45,263.69 L484.95,263.79 L485.45,263.89 L485.95,263.97 L486.45,264.06 L486.95,264.14 L487.45,264.22 L487.95,264.32 L488.45,264.42 L488.95,264.54 L489.45,264.67 L489.95,264.83 L490.45,265.01 L490.95,265.23 L491.45,265.47 L491.95,265.88 L492.45,266.66 L492.95,267.87 L493.45,269.81 L493.95,275.68 L494.45,284.13 L494.95,295.18 L495.45,308.46 L495.95,319.81 L496.45,330.5 L496.95,339.28 L497.45,345.81 L497.95,351.28 L498.45,355.92 L498.95,359.99 L499.45,363.78 L499.95,367.16 L500.45,369.97 L500.95,372.06 L501.45,373.8 L501.95,375.35 L502.45,376.72 L502.95,377.93 L503.45,378.99 L503.95,379.92 L504.45,380.73 L504.95,381.49 L505.45,382.2 L505.95,382.87 L506.45,383.51 L506.95,384.1 L507.45,384.67 L507.95,385.19 L508.45,385.69 L508.95,386.15 L509.45,386.58 L509.95,386.99 L510.45,387.36 L510.95,387.71 L511.45,388.03 L511.95,388.34 L512.45,388.63 L512.95,388.92 L513.45,389.2 L513.95,389.47 L514.45,389.73 L514.95,389.99 L515.45,390.23 L515.95,390.47 L516.45,390.7 L516.95,390.93 L517.45,391.15 L517.95,391.36 L518.45,391.57 L518.95,391.77 L519.45,391.96 L519.95,392.16 L520.45,392.34 L520.95,392.52 L521.45,392.7 L521.95,392.88 L522.45,393.05 L522.95,393.22 L523.45,393.38 L523.95,393.54 L524.45,393.7 L524.95,393.86 L525.45,394.02 L525.95,394.17 L526.45,394.32 L526.95,394.48 L527.45,394.63 L527.95,394.78 L528.45,394.93 L528.95,395.08 L529.45,395.24 L529.95,395.39 L530.45,395.53 L530.95,395.68 L531.45,395.82 L531.95,395.96 L532.45,396.1 L532.95,396.24 L533.45,396.37 L533.95,396.5 L534.45,396.63 L534.95,396.76 L535.45,396.89 L535.95,397.02 L536.45,397.14 L536.95,397.26 L537.45,397.39 L537.95,397.51 L538.45,397.62 L538.95,397.74 L539.45,397.86 L539.95,397.97 L540.45,398.09 L540.95,398.2 L541.45,398.31 L541.95,398.42 L542.45,398.53 L542.95,398.64 L543.45,398.75 L543.95,398.86 L544.45,398.97 L544.95,399.07 L545.45,399.18 L545.95,399.28 L546.45,399.39 L546.95,399.49 L547.45,399.6 L547.95,399.7 L548.45,399.8 L548.95,399.9 L549.45,400 L549.95,400.1 L550.45,400.2 L550.95,400.3 L551.45,400.39 L551.95,400.49 L552.45,400.58 L552.95,400.67 L553.45,400.77 L553.95,400.86 L554.45,400.95 L554.95,401.04 L555.45,401.13 L555.95,401.22 L556.45,401.31 L556.95,401.4 L557.45,401.49 L557.95,401.58 L558.45,401.67 L558.95,401.75 L559.45,401.84 L559.95,401.93 L560.45,402.01 L560.95,402.1 L561.45,402.19 L561.95,402.27 L562.45,402.36 L562.95,402.45 L563.45,402.53 L563.95,402.62 L564.45,402.7 L564.95,402.79 L565.45,402.88 L565.95,402.97 L566.45,403.05 L566.95,403.14 L567.45,403.23 L567.95,403.32 L568.45,403.41 L568.95,403.49 L569.45,403.58 L569.95,403.67 L570.45,403.76 L570.95,403.85 L571.45,403.94 L571.95,404.03 L572.45,404.11 L572.95,404.2 L573.45,404.29 L573.95,404.38 L574.45,404.46 L574.95,404.55 L575.45,404.64 L575.95,404.72 L576.45,404.81 L576.95,404.89 L577.45,404.97 L577.95,405.05 L578.45,405.14 L578.95,405.22 L579.45,405.3 L579.95,405.37 L580.45,405.45 L580.95,405.53 L581.45,405.6 L581.95,405.68 L582.45,405.75 L582.95,405.82 L583.45,405.89 L583.95,405.96 L584.45,406.03 L584.95,406.09 L585.45,406.16 L585.95,406.22 L586.45,406.28 L586.95,406.34 L587.45,406.4 L587.95,406.46 L588.45,406.52 L588.95,406.58 L589.45,406.64 L589.95,406.7 L590.45,406.76 L590.95,406.82 L591.45,406.88 L591.95,406.94 L592.45,406.99 L592.95,407.05 L593.45,407.11 L593.95,407.16 L594.45,407.22 L594.95,407.27 L595.45,407.33 L595.95,407.38 L596.45,407.44 L596.95,407.49 L597.45,407.54 L597.95,407.59 L598.45,407.65 L598.95,407.7 L599.45,407.75 L599.95,407.8 L600.45,407.85 L600.95,407.9 L601.45,407.95 L601.95,408 L602.45,408.05 L602.95,408.09 L603.45,408.14 L603.95,408.19 L604.45,408.23 L604.95,408.28 L605.45,408.33 L605.95,408.37 L606.45,408.42 L606.95,408.46 L607.45,408.5 L607.95,408.55 L608.45,408.59 L608.95,408.63 L609.45,408.67 L609.95,408.71 L610.45,408.75 L610.95,408.79 L611.45,408.83 L611.95,408.87 L612.45,408.91 L612.95,408.95 L613.45,408.98 L613.95,409.02 L614.45,409.06 L614.95,409.09 L615.45,409.13 L615.95,409.16 L616.45,409.2 L616.95,409.23 L617.45,409.26 L617.95,409.3 L618.45,409.33 L618.95,409.36 L619.45,409.4 L619.95,409.43 L620.45,409.46 L620.95,409.49 L621.45,409.52 L621.95,409.56 L622.45,409.59 L622.95,409.62 L623.45,409.65 L623.95,409.68 L624.45,409.71 L624.95,409.74 L625.45,409.77 L625.95,409.8 L626.45,409.83 L626.95,409.86 L627.45,409.89 L627.95,409.92 L628.45,409.95 L628.95,409.98 L629.45,410.01 L629.95,410.04 L630.45,410.06 L630.95,410.09 L631.45,410.12 L631.95,410.14 L632.45,410.17 L632.95,410.2 L633.45,410.22 L633.95,410.25 L634.45,410.27 L634.95,410.3 L635.45,410.32 L635.95,410.35 L636.45,410.37 L636.95,410.39 L637.45,410.42 L637.95,410.44 L638.45,410.46 L638.95,410.48 L639.45,410.51 L639.95,410.53 L640.45,410.55 L640.95,410.57 L641.45,410.59 L641.95,410.61 L642.45,410.63 L642.95,410.64 L643.45,410.66 L643.95,410.68 L644.45,410.7 L644.95,410.71 L645.45,410.73 L645.95,410.75 L646.45,410.76 L646.95,410.78 L647.45,410.79 L647.8,410.8" fill="none" stroke="#1f3f78" stroke-width="1.4" stroke-linejoin="round" stroke-linecap="round" />
</g>
</svg></body></html>
